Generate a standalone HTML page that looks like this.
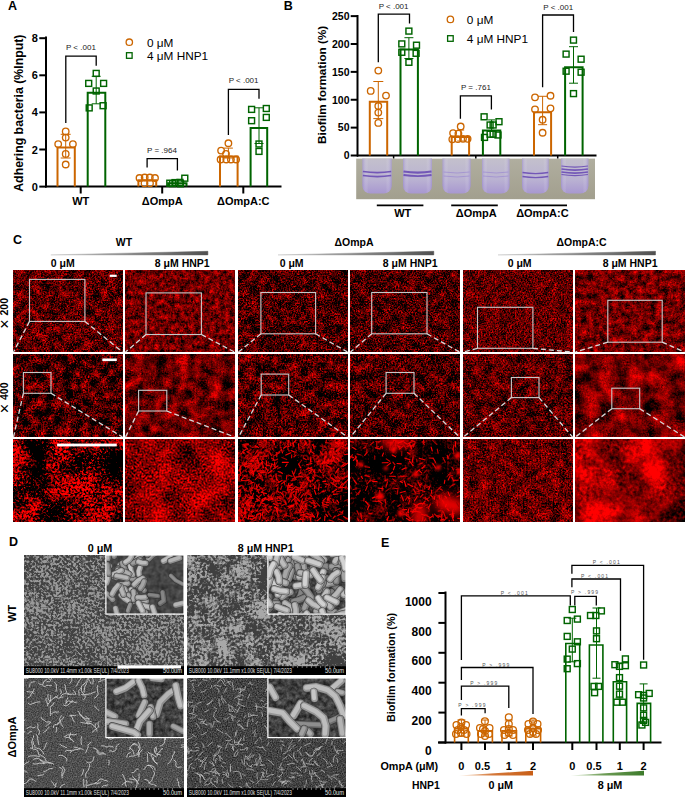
<!DOCTYPE html>
<html><head><meta charset="utf-8"><style>
html,body{margin:0;padding:0;background:#fff;}
svg{display:block;font-family:"Liberation Sans", sans-serif;}
</style></head><body>
<svg width="685" height="797" viewBox="0 0 685 797">
<text x="8.00" y="9.60" font-size="12.5" font-weight="bold" text-anchor="start" fill="#000" >A</text>
<path d="M46,36.6V187.6" stroke="#000" stroke-width="2" fill="none"/>
<path d="M39.3,186.60H46" stroke="#000" stroke-width="2" fill="none"/>
<text x="37.80" y="190.60" font-size="11" font-weight="bold" text-anchor="end" fill="#000" >0</text>
<path d="M39.3,149.50H46" stroke="#000" stroke-width="2" fill="none"/>
<text x="37.80" y="153.50" font-size="11" font-weight="bold" text-anchor="end" fill="#000" >2</text>
<path d="M39.3,112.40H46" stroke="#000" stroke-width="2" fill="none"/>
<text x="37.80" y="116.40" font-size="11" font-weight="bold" text-anchor="end" fill="#000" >4</text>
<path d="M39.3,75.30H46" stroke="#000" stroke-width="2" fill="none"/>
<text x="37.80" y="79.30" font-size="11" font-weight="bold" text-anchor="end" fill="#000" >6</text>
<path d="M39.3,38.20H46" stroke="#000" stroke-width="2" fill="none"/>
<text x="37.80" y="42.20" font-size="11" font-weight="bold" text-anchor="end" fill="#000" >8</text>
<path d="M45,186.6H281.5" stroke="#000" stroke-width="2" fill="none"/>
<path d="M80.7,186.6V193.5" stroke="#000" stroke-width="2" fill="none"/>
<path d="M162.2,186.6V193.5" stroke="#000" stroke-width="2" fill="none"/>
<path d="M243.3,186.6V193.5" stroke="#000" stroke-width="2" fill="none"/>
<text x="80.70" y="205.00" font-size="11" font-weight="bold" text-anchor="middle" fill="#000" >WT</text>
<text x="162.20" y="205.00" font-size="11" font-weight="bold" text-anchor="middle" fill="#000" >ΔOmpA</text>
<text x="243.30" y="205.00" font-size="11" font-weight="bold" text-anchor="middle" fill="#000" >ΔOmpA:C</text>
<text x="0.00" y="0.00" font-size="12.3" font-weight="bold" text-anchor="middle" fill="#000" transform="translate(23.2,113.2) rotate(-90)">Adhering bacteria (%Input)</text>
<circle cx="129.30" cy="42.20" r="3.2" fill="none" stroke="#CC6600" stroke-width="1.3"/>
<rect x="126.50" y="52.70" width="5.6" height="5.6" fill="none" stroke="#006400" stroke-width="1.3"/>
<text x="146.90" y="46.50" font-size="11.8" font-weight="normal" text-anchor="start" fill="#000" >0 μM</text>
<text x="146.90" y="59.80" font-size="11.8" font-weight="normal" text-anchor="start" fill="#000" >4 μM HNP1</text>
<path d="M57.50,186.6V147.60H74.80V186.6" fill="none" stroke="#CC6600" stroke-width="2"/>
<path d="M87.70,186.6V92.80H105.30V186.6" fill="none" stroke="#006400" stroke-width="2"/>
<path d="M138.40,186.6V180.20H156.20V186.6" fill="none" stroke="#CC6600" stroke-width="2"/>
<path d="M168.10,186.6V183.20H186.50V186.6" fill="none" stroke="#006400" stroke-width="2"/>
<path d="M220.00,186.6V156.40H237.60V186.6" fill="none" stroke="#CC6600" stroke-width="2"/>
<path d="M250.60,186.6V127.90H267.20V186.6" fill="none" stroke="#006400" stroke-width="2"/>
<path d="M65.70,134.30V158.00M60.70,134.30H70.70M60.70,158.00H70.70" stroke="#CC6600" stroke-width="1" fill="none"/>
<circle cx="65.70" cy="131.40" r="3.25" fill="none" stroke="#CC6600" stroke-width="1.35"/>
<circle cx="65.70" cy="137.60" r="3.25" fill="none" stroke="#CC6600" stroke-width="1.35"/>
<circle cx="58.20" cy="144.10" r="3.25" fill="none" stroke="#CC6600" stroke-width="1.35"/>
<circle cx="72.90" cy="144.10" r="3.25" fill="none" stroke="#CC6600" stroke-width="1.35"/>
<circle cx="65.70" cy="153.90" r="3.25" fill="none" stroke="#CC6600" stroke-width="1.35"/>
<circle cx="65.70" cy="164.50" r="3.25" fill="none" stroke="#CC6600" stroke-width="1.35"/>
<path d="M96.20,76.30V103.80M91.70,76.30H100.70M91.70,103.80H100.70" stroke="#006400" stroke-width="1" fill="none"/>
<rect x="93.25" y="70.45" width="5.9" height="5.9" fill="none" stroke="#006400" stroke-width="1.45"/>
<rect x="85.75" y="80.45" width="5.9" height="5.9" fill="none" stroke="#006400" stroke-width="1.45"/>
<rect x="100.65" y="80.45" width="5.9" height="5.9" fill="none" stroke="#006400" stroke-width="1.45"/>
<rect x="93.25" y="88.05" width="5.9" height="5.9" fill="none" stroke="#006400" stroke-width="1.45"/>
<rect x="86.25" y="104.95" width="5.9" height="5.9" fill="none" stroke="#006400" stroke-width="1.45"/>
<rect x="100.15" y="102.75" width="5.9" height="5.9" fill="none" stroke="#006400" stroke-width="1.45"/>
<circle cx="139.50" cy="178.00" r="3.25" fill="none" stroke="#CC6600" stroke-width="1.35"/>
<circle cx="144.70" cy="177.50" r="3.25" fill="none" stroke="#CC6600" stroke-width="1.35"/>
<circle cx="149.80" cy="177.50" r="3.25" fill="none" stroke="#CC6600" stroke-width="1.35"/>
<circle cx="155.00" cy="178.00" r="3.25" fill="none" stroke="#CC6600" stroke-width="1.35"/>
<circle cx="144.50" cy="183.30" r="3.25" fill="none" stroke="#CC6600" stroke-width="1.35"/>
<circle cx="150.00" cy="183.30" r="3.25" fill="none" stroke="#CC6600" stroke-width="1.35"/>
<rect x="166.85" y="180.25" width="5.9" height="5.9" fill="none" stroke="#006400" stroke-width="1.45"/>
<rect x="172.05" y="179.65" width="5.9" height="5.9" fill="none" stroke="#006400" stroke-width="1.45"/>
<rect x="177.05" y="179.45" width="5.9" height="5.9" fill="none" stroke="#006400" stroke-width="1.45"/>
<rect x="181.85" y="175.25" width="5.9" height="5.9" fill="none" stroke="#006400" stroke-width="1.45"/>
<rect x="169.55" y="180.65" width="5.9" height="5.9" fill="none" stroke="#006400" stroke-width="1.45"/>
<rect x="177.55" y="180.85" width="5.9" height="5.9" fill="none" stroke="#006400" stroke-width="1.45"/>
<path d="M228.40,148.10V158.00M223.90,148.10H232.90M223.90,158.00H232.90" stroke="#CC6600" stroke-width="1" fill="none"/>
<circle cx="228.40" cy="143.20" r="3.25" fill="none" stroke="#CC6600" stroke-width="1.35"/>
<circle cx="221.10" cy="150.60" r="3.25" fill="none" stroke="#CC6600" stroke-width="1.35"/>
<circle cx="226.00" cy="153.80" r="3.25" fill="none" stroke="#CC6600" stroke-width="1.35"/>
<circle cx="220.60" cy="159.50" r="3.25" fill="none" stroke="#CC6600" stroke-width="1.35"/>
<circle cx="226.30" cy="159.50" r="3.25" fill="none" stroke="#CC6600" stroke-width="1.35"/>
<circle cx="230.90" cy="159.50" r="3.25" fill="none" stroke="#CC6600" stroke-width="1.35"/>
<circle cx="236.10" cy="159.50" r="3.25" fill="none" stroke="#CC6600" stroke-width="1.35"/>
<path d="M259.00,107.80V143.50M254.50,107.80H263.50M254.50,143.50H263.50" stroke="#006400" stroke-width="1" fill="none"/>
<rect x="248.65" y="106.45" width="5.9" height="5.9" fill="none" stroke="#006400" stroke-width="1.45"/>
<rect x="263.35" y="105.55" width="5.9" height="5.9" fill="none" stroke="#006400" stroke-width="1.45"/>
<rect x="248.65" y="117.75" width="5.9" height="5.9" fill="none" stroke="#006400" stroke-width="1.45"/>
<rect x="263.35" y="114.45" width="5.9" height="5.9" fill="none" stroke="#006400" stroke-width="1.45"/>
<rect x="256.05" y="141.05" width="5.9" height="5.9" fill="none" stroke="#006400" stroke-width="1.45"/>
<rect x="256.05" y="148.45" width="5.9" height="5.9" fill="none" stroke="#006400" stroke-width="1.45"/>
<path d="M65.8,122.9V56.2H96.2V65.7" stroke="#000" stroke-width="1.3" fill="none"/>
<path d="M147.1,167.5V158.7H177.4V170.5" stroke="#000" stroke-width="1.3" fill="none"/>
<path d="M228.4,135V89.4H259V98.7" stroke="#000" stroke-width="1.3" fill="none"/>
<text x="80.90" y="50.30" font-size="8" font-weight="normal" text-anchor="middle" fill="#222" >P &lt; .001</text>
<text x="162.00" y="152.50" font-size="8" font-weight="normal" text-anchor="middle" fill="#222" >P = .964</text>
<text x="243.60" y="83.30" font-size="8" font-weight="normal" text-anchor="middle" fill="#222" >P &lt; .001</text>
<text x="283.70" y="9.90" font-size="12.5" font-weight="bold" text-anchor="start" fill="#000" >B</text>
<path d="M357.5,15V156.5" stroke="#000" stroke-width="2" fill="none"/>
<path d="M350.7,155.50H358" stroke="#000" stroke-width="2" fill="none"/>
<text x="349.50" y="159.30" font-size="10.5" font-weight="bold" text-anchor="end" fill="#000" >0</text>
<path d="M350.7,127.62H358" stroke="#000" stroke-width="2" fill="none"/>
<text x="349.50" y="131.43" font-size="10.5" font-weight="bold" text-anchor="end" fill="#000" >50</text>
<path d="M350.7,99.75H358" stroke="#000" stroke-width="2" fill="none"/>
<text x="349.50" y="103.55" font-size="10.5" font-weight="bold" text-anchor="end" fill="#000" >100</text>
<path d="M350.7,71.88H358" stroke="#000" stroke-width="2" fill="none"/>
<text x="349.50" y="75.67" font-size="10.5" font-weight="bold" text-anchor="end" fill="#000" >150</text>
<path d="M350.7,44.00H358" stroke="#000" stroke-width="2" fill="none"/>
<text x="349.50" y="47.80" font-size="10.5" font-weight="bold" text-anchor="end" fill="#000" >200</text>
<path d="M350.7,16.12H358" stroke="#000" stroke-width="2" fill="none"/>
<text x="349.50" y="19.93" font-size="10.5" font-weight="bold" text-anchor="end" fill="#000" >250</text>
<path d="M357,155.4H596.5" stroke="#000" stroke-width="2" fill="none"/>
<path d="M393.6,155.4V158.7" stroke="#000" stroke-width="1.5" fill="none"/>
<path d="M475.8,155.4V158.7" stroke="#000" stroke-width="1.5" fill="none"/>
<path d="M557.7,155.4V158.7" stroke="#000" stroke-width="1.5" fill="none"/>
<text x="0.00" y="0.00" font-size="11.7" font-weight="bold" text-anchor="middle" fill="#000" transform="translate(326,84.9) rotate(-90)">Biofilm formation (%)</text>
<circle cx="450.40" cy="19.40" r="3.2" fill="none" stroke="#CC6600" stroke-width="1.3"/>
<rect x="447.60" y="35.70" width="5.6" height="5.6" fill="none" stroke="#006400" stroke-width="1.3"/>
<text x="466.80" y="24.10" font-size="11.8" font-weight="normal" text-anchor="start" fill="#000" >0 μM</text>
<text x="466.80" y="43.30" font-size="11.8" font-weight="normal" text-anchor="start" fill="#000" >4 μM HNP1</text>
<path d="M369.80,155.4V101.70H387.20V155.4" fill="none" stroke="#CC6600" stroke-width="2"/>
<path d="M400.50,155.4V49.60H417.90V155.4" fill="none" stroke="#006400" stroke-width="2"/>
<path d="M451.70,155.4V137.00H469.10V155.4" fill="none" stroke="#CC6600" stroke-width="2"/>
<path d="M482.90,155.4V130.60H500.30V155.4" fill="none" stroke="#006400" stroke-width="2"/>
<path d="M534.00,155.4V112.30H551.10V155.4" fill="none" stroke="#CC6600" stroke-width="2"/>
<path d="M565.10,155.4V67.20H582.60V155.4" fill="none" stroke="#006400" stroke-width="2"/>
<path d="M378.30,81.50V118.60M373.30,81.50H383.30M373.30,118.60H383.30" stroke="#CC6600" stroke-width="1" fill="none"/>
<circle cx="378.30" cy="70.60" r="3.25" fill="none" stroke="#CC6600" stroke-width="1.35"/>
<circle cx="370.70" cy="90.90" r="3.25" fill="none" stroke="#CC6600" stroke-width="1.35"/>
<circle cx="386.00" cy="95.60" r="3.25" fill="none" stroke="#CC6600" stroke-width="1.35"/>
<circle cx="378.30" cy="106.00" r="3.25" fill="none" stroke="#CC6600" stroke-width="1.35"/>
<circle cx="378.30" cy="112.60" r="3.25" fill="none" stroke="#CC6600" stroke-width="1.35"/>
<circle cx="378.30" cy="122.90" r="3.25" fill="none" stroke="#CC6600" stroke-width="1.35"/>
<path d="M408.90,37.70V58.50M404.40,37.70H413.40M404.40,58.50H413.40" stroke="#006400" stroke-width="1" fill="none"/>
<rect x="405.95" y="28.15" width="5.9" height="5.9" fill="none" stroke="#006400" stroke-width="1.45"/>
<rect x="398.85" y="40.95" width="5.9" height="5.9" fill="none" stroke="#006400" stroke-width="1.45"/>
<rect x="413.55" y="42.25" width="5.9" height="5.9" fill="none" stroke="#006400" stroke-width="1.45"/>
<rect x="398.85" y="49.35" width="5.9" height="5.9" fill="none" stroke="#006400" stroke-width="1.45"/>
<rect x="413.15" y="50.35" width="5.9" height="5.9" fill="none" stroke="#006400" stroke-width="1.45"/>
<rect x="405.95" y="59.35" width="5.9" height="5.9" fill="none" stroke="#006400" stroke-width="1.45"/>
<path d="M460.70,130.00V141.00M457.20,130.00H464.20M457.20,141.00H464.20" stroke="#CC6600" stroke-width="1" fill="none"/>
<circle cx="460.70" cy="126.50" r="3.25" fill="none" stroke="#CC6600" stroke-width="1.35"/>
<circle cx="453.10" cy="133.10" r="3.25" fill="none" stroke="#CC6600" stroke-width="1.35"/>
<circle cx="458.40" cy="133.60" r="3.25" fill="none" stroke="#CC6600" stroke-width="1.35"/>
<circle cx="452.30" cy="139.30" r="3.25" fill="none" stroke="#CC6600" stroke-width="1.35"/>
<circle cx="457.90" cy="139.10" r="3.25" fill="none" stroke="#CC6600" stroke-width="1.35"/>
<circle cx="463.00" cy="138.80" r="3.25" fill="none" stroke="#CC6600" stroke-width="1.35"/>
<circle cx="467.60" cy="138.80" r="3.25" fill="none" stroke="#CC6600" stroke-width="1.35"/>
<path d="M491.60,119.90V130.60M488.10,119.90H495.10M488.10,130.60H495.10" stroke="#006400" stroke-width="1" fill="none"/>
<rect x="481.15" y="113.85" width="5.9" height="5.9" fill="none" stroke="#006400" stroke-width="1.45"/>
<rect x="496.05" y="118.75" width="5.9" height="5.9" fill="none" stroke="#006400" stroke-width="1.45"/>
<rect x="487.15" y="122.05" width="5.9" height="5.9" fill="none" stroke="#006400" stroke-width="1.45"/>
<rect x="490.15" y="122.05" width="5.9" height="5.9" fill="none" stroke="#006400" stroke-width="1.45"/>
<rect x="487.15" y="131.25" width="5.9" height="5.9" fill="none" stroke="#006400" stroke-width="1.45"/>
<rect x="490.15" y="131.25" width="5.9" height="5.9" fill="none" stroke="#006400" stroke-width="1.45"/>
<rect x="495.05" y="132.05" width="5.9" height="5.9" fill="none" stroke="#006400" stroke-width="1.45"/>
<rect x="481.55" y="134.45" width="5.9" height="5.9" fill="none" stroke="#006400" stroke-width="1.45"/>
<path d="M542.60,96.30V124.70M538.10,96.30H547.10M538.10,124.70H547.10" stroke="#CC6600" stroke-width="1" fill="none"/>
<circle cx="535.00" cy="97.30" r="3.25" fill="none" stroke="#CC6600" stroke-width="1.35"/>
<circle cx="550.50" cy="95.70" r="3.25" fill="none" stroke="#CC6600" stroke-width="1.35"/>
<circle cx="535.00" cy="109.30" r="3.25" fill="none" stroke="#CC6600" stroke-width="1.35"/>
<circle cx="550.50" cy="108.30" r="3.25" fill="none" stroke="#CC6600" stroke-width="1.35"/>
<circle cx="542.60" cy="119.70" r="3.25" fill="none" stroke="#CC6600" stroke-width="1.35"/>
<circle cx="542.60" cy="132.70" r="3.25" fill="none" stroke="#CC6600" stroke-width="1.35"/>
<path d="M573.50,46.70V83.20M569.00,46.70H578.00M569.00,83.20H578.00" stroke="#006400" stroke-width="1" fill="none"/>
<rect x="570.55" y="37.15" width="5.9" height="5.9" fill="none" stroke="#006400" stroke-width="1.45"/>
<rect x="563.15" y="51.15" width="5.9" height="5.9" fill="none" stroke="#006400" stroke-width="1.45"/>
<rect x="578.15" y="56.25" width="5.9" height="5.9" fill="none" stroke="#006400" stroke-width="1.45"/>
<rect x="563.15" y="68.25" width="5.9" height="5.9" fill="none" stroke="#006400" stroke-width="1.45"/>
<rect x="578.15" y="69.25" width="5.9" height="5.9" fill="none" stroke="#006400" stroke-width="1.45"/>
<rect x="570.55" y="90.65" width="5.9" height="5.9" fill="none" stroke="#006400" stroke-width="1.45"/>
<path d="M378.3,62.3V14.1H409.5V23.5" stroke="#000" stroke-width="1.3" fill="none"/>
<path d="M460.4,118.8V95.8H491.4V109.6" stroke="#000" stroke-width="1.3" fill="none"/>
<path d="M542.6,87.2V15H573.5V32.1" stroke="#000" stroke-width="1.3" fill="none"/>
<text x="393.60" y="9.20" font-size="8" font-weight="normal" text-anchor="middle" fill="#222" >P &lt; .001</text>
<text x="475.90" y="90.40" font-size="8" font-weight="normal" text-anchor="middle" fill="#222" >P = .761</text>
<text x="558.20" y="9.70" font-size="8" font-weight="normal" text-anchor="middle" fill="#222" >P &lt; .001</text>
<path d="M376.8,205.4H423.4" stroke="#000" stroke-width="1.8" fill="none"/>
<path d="M451.2,205.4H497.8" stroke="#000" stroke-width="1.8" fill="none"/>
<path d="M520,205.4H567" stroke="#000" stroke-width="1.8" fill="none"/>
<text x="402.80" y="216.60" font-size="11" font-weight="bold" text-anchor="middle" fill="#000" >WT</text>
<text x="476.30" y="216.60" font-size="11" font-weight="bold" text-anchor="middle" fill="#000" >ΔOmpA</text>
<text x="542.40" y="216.60" font-size="11" font-weight="bold" text-anchor="middle" fill="#000" >ΔOmpA:C</text>
<defs><linearGradient id="pbg" x1="0" y1="0" x2="0" y2="1"><stop offset="0" stop-color="#b0ae9f"/><stop offset="1" stop-color="#a29f8e"/></linearGradient><linearGradient id="tube" x1="0" y1="0" x2="0" y2="1"><stop offset="0" stop-color="#c3c0cc"/><stop offset="0.6" stop-color="#bab2d2"/><stop offset="1" stop-color="#a898d0"/></linearGradient><linearGradient id="tubeh" x1="0" y1="0" x2="1" y2="0"><stop offset="0" stop-color="#8e7cc8" stop-opacity="0.5"/><stop offset="0.2" stop-color="#fff" stop-opacity="0"/><stop offset="0.8" stop-color="#fff" stop-opacity="0"/><stop offset="1" stop-color="#8e7cc8" stop-opacity="0.5"/></linearGradient></defs>
<rect x="356.2" y="158.6" width="238.8" height="40.6" fill="url(#pbg)"/>
<path d="M362.4,158.6V185.5a8,8 0 0 0 8,8H383.7a8,8 0 0 0 8,-8V158.6Z" fill="url(#tube)"/><path d="M362.4,158.6V185.5a8,8 0 0 0 8,8H383.7a8,8 0 0 0 8,-8V158.6Z" fill="url(#tubeh)"/>
<path d="M362.9,171.5q14.650000000000006,2.2 28.30000000000001,0" stroke="#6a4cb4" stroke-width="1.6" fill="none" opacity="0.9"/>
<path d="M362.9,175.5q14.650000000000006,2.2 28.30000000000001,0" stroke="#6a4cb4" stroke-width="1.6" fill="none" opacity="0.9"/>
<path d="M403,158.6V185.5a8,8 0 0 0 8,8H424a8,8 0 0 0 8,-8V158.6Z" fill="url(#tube)"/><path d="M403,158.6V185.5a8,8 0 0 0 8,8H424a8,8 0 0 0 8,-8V158.6Z" fill="url(#tubeh)"/>
<path d="M403.5,171.5q14.5,2.2 28,0" stroke="#6a4cb4" stroke-width="2.2" fill="none" opacity="0.9"/>
<path d="M403.5,175q14.5,2.2 28,0" stroke="#6a4cb4" stroke-width="1.8" fill="none" opacity="0.9"/>
<path d="M442.5,158.6V185.5a8,8 0 0 0 8,8H462.6a8,8 0 0 0 8,-8V158.6Z" fill="url(#tube)"/><path d="M442.5,158.6V185.5a8,8 0 0 0 8,8H462.6a8,8 0 0 0 8,-8V158.6Z" fill="url(#tubeh)"/>
<path d="M443.5,172q14.050000000000011,2 26.100000000000023,0M443.5,176q14.050000000000011,2 26.100000000000023,0" stroke="#9f8fd0" stroke-width="0.8" fill="none"/>
<path d="M482,158.6V185.5a8,8 0 0 0 8,8H501.5a8,8 0 0 0 8,-8V158.6Z" fill="url(#tube)"/><path d="M482,158.6V185.5a8,8 0 0 0 8,8H501.5a8,8 0 0 0 8,-8V158.6Z" fill="url(#tubeh)"/>
<path d="M483,172q13.75,2 25.5,0M483,176q13.75,2 25.5,0" stroke="#9f8fd0" stroke-width="0.8" fill="none"/>
<path d="M522,158.6V185.5a8,8 0 0 0 8,8H540.7a8,8 0 0 0 8,-8V158.6Z" fill="url(#tube)"/><path d="M522,158.6V185.5a8,8 0 0 0 8,8H540.7a8,8 0 0 0 8,-8V158.6Z" fill="url(#tubeh)"/>
<path d="M522.5,172.5q13.350000000000023,2.2 25.700000000000045,0" stroke="#6a4cb4" stroke-width="1.3" fill="none" opacity="0.9"/>
<path d="M522.5,176.5q13.350000000000023,2.2 25.700000000000045,0" stroke="#6a4cb4" stroke-width="1.3" fill="none" opacity="0.9"/>
<path d="M561,158.6V185.5a8,8 0 0 0 8,8H580.4a8,8 0 0 0 8,-8V158.6Z" fill="url(#tube)"/><path d="M561,158.6V185.5a8,8 0 0 0 8,8H580.4a8,8 0 0 0 8,-8V158.6Z" fill="url(#tubeh)"/>
<path d="M561.5,166q13.699999999999989,2.2 26.399999999999977,0" stroke="#6a4cb4" stroke-width="1.2" fill="none" opacity="0.9"/>
<path d="M561.5,169q13.699999999999989,2.2 26.399999999999977,0" stroke="#6a4cb4" stroke-width="1.6" fill="none" opacity="0.9"/>
<path d="M561.5,172q13.699999999999989,2.2 26.399999999999977,0" stroke="#6a4cb4" stroke-width="1.6" fill="none" opacity="0.9"/>
<path d="M561.5,174.5q13.699999999999989,2.2 26.399999999999977,0" stroke="#6a4cb4" stroke-width="1.2" fill="none" opacity="0.9"/>
<text x="381.00" y="547.00" font-size="12.5" font-weight="bold" text-anchor="start" fill="#000" >E</text>
<path d="M445.5,591.5V743.5" stroke="#000" stroke-width="2" fill="none"/>
<path d="M438.4,742.50H446" stroke="#000" stroke-width="2" fill="none"/>
<text x="431.60" y="755.10" font-size="12" font-weight="bold" text-anchor="end" fill="#000" >0</text>
<path d="M438.4,712.60H446" stroke="#000" stroke-width="2" fill="none"/>
<text x="431.60" y="725.20" font-size="12" font-weight="bold" text-anchor="end" fill="#000" >200</text>
<path d="M438.4,682.70H446" stroke="#000" stroke-width="2" fill="none"/>
<text x="431.60" y="695.30" font-size="12" font-weight="bold" text-anchor="end" fill="#000" >400</text>
<path d="M438.4,652.80H446" stroke="#000" stroke-width="2" fill="none"/>
<text x="431.60" y="665.40" font-size="12" font-weight="bold" text-anchor="end" fill="#000" >600</text>
<path d="M438.4,622.90H446" stroke="#000" stroke-width="2" fill="none"/>
<text x="431.60" y="635.50" font-size="12" font-weight="bold" text-anchor="end" fill="#000" >800</text>
<path d="M438.4,593.00H446" stroke="#000" stroke-width="2" fill="none"/>
<text x="431.60" y="605.60" font-size="12" font-weight="bold" text-anchor="end" fill="#000" >1000</text>
<path d="M438,742.5H661.5" stroke="#000" stroke-width="2" fill="none"/>
<path d="M461.4,742.5V750" stroke="#000" stroke-width="2" fill="none"/>
<path d="M485,742.5V750" stroke="#000" stroke-width="2" fill="none"/>
<path d="M508.8,742.5V750" stroke="#000" stroke-width="2" fill="none"/>
<path d="M533,742.5V750" stroke="#000" stroke-width="2" fill="none"/>
<path d="M572.3,742.5V750" stroke="#000" stroke-width="2" fill="none"/>
<path d="M596.5,742.5V750" stroke="#000" stroke-width="2" fill="none"/>
<path d="M619.8,742.5V750" stroke="#000" stroke-width="2" fill="none"/>
<path d="M643.6,742.5V750" stroke="#000" stroke-width="2" fill="none"/>
<text x="461.40" y="770.00" font-size="11" font-weight="bold" text-anchor="middle" fill="#000" >0</text>
<text x="482.50" y="770.00" font-size="11" font-weight="bold" text-anchor="middle" fill="#000" >0.5</text>
<text x="508.80" y="770.00" font-size="11" font-weight="bold" text-anchor="middle" fill="#000" >1</text>
<text x="533.00" y="770.00" font-size="11" font-weight="bold" text-anchor="middle" fill="#000" >2</text>
<text x="572.30" y="770.00" font-size="11" font-weight="bold" text-anchor="middle" fill="#000" >0</text>
<text x="594.00" y="770.00" font-size="11" font-weight="bold" text-anchor="middle" fill="#000" >0.5</text>
<text x="619.80" y="770.00" font-size="11" font-weight="bold" text-anchor="middle" fill="#000" >1</text>
<text x="643.60" y="770.00" font-size="11" font-weight="bold" text-anchor="middle" fill="#000" >2</text>
<text x="380.40" y="770.00" font-size="10.8" font-weight="bold" text-anchor="start" fill="#000" >OmpA (μM)</text>
<text x="412.00" y="788.60" font-size="10.4" font-weight="bold" text-anchor="start" fill="#000" >HNP1</text>
<text x="500.80" y="788.60" font-size="10.8" font-weight="bold" text-anchor="middle" fill="#000" >0 μM</text>
<text x="610.00" y="788.60" font-size="10.8" font-weight="bold" text-anchor="middle" fill="#000" >8 μM</text>
<text x="0.00" y="0.00" font-size="10.8" font-weight="bold" text-anchor="middle" fill="#000" transform="translate(395,667.5) rotate(-90)">Biofilm formation (%)</text>
<defs><linearGradient id="go" x1="0" x2="1"><stop offset="0" stop-color="#f8e2cc"/><stop offset="0.45" stop-color="#d4783a"/><stop offset="1" stop-color="#c85e16"/></linearGradient><linearGradient id="gg" x1="0" x2="1"><stop offset="0" stop-color="#dcebd2"/><stop offset="0.45" stop-color="#6e9c56"/><stop offset="1" stop-color="#3c7a2a"/></linearGradient></defs>
<path d="M459,775.5L533,770.8V775.5Z" fill="url(#go)"/>
<path d="M570.4,775.5L644,770.8V775.5Z" fill="url(#gg)"/>
<path d="M454.60,742.5V728.80H468.30V742.5" fill="none" stroke="#CC6600" stroke-width="1.6"/>
<path d="M478.20,742.5V730.80H492.40V742.5" fill="none" stroke="#CC6600" stroke-width="1.6"/>
<path d="M502.00,742.5V730.80H516.50V742.5" fill="none" stroke="#CC6600" stroke-width="1.6"/>
<path d="M525.80,742.5V728.80H540.60V742.5" fill="none" stroke="#CC6600" stroke-width="1.6"/>
<path d="M565.80,742.5V643.50H579.70V742.5" fill="none" stroke="#006400" stroke-width="1.6"/>
<path d="M589.40,742.5V645.00H602.90V742.5" fill="none" stroke="#006400" stroke-width="1.6"/>
<path d="M613.30,742.5V681.70H626.60V742.5" fill="none" stroke="#006400" stroke-width="1.6"/>
<path d="M637.20,742.5V703.40H650.60V742.5" fill="none" stroke="#006400" stroke-width="1.6"/>
<path d="M461.40,720.00V736.00M457.40,720.00H465.40M457.40,736.00H465.40" stroke="#CC6600" stroke-width="1" fill="none"/>
<circle cx="461.40" cy="722.50" r="3.4" fill="none" stroke="#CC6600" stroke-width="1.3"/>
<circle cx="456.50" cy="725.00" r="3.4" fill="none" stroke="#CC6600" stroke-width="1.3"/>
<circle cx="466.00" cy="725.00" r="3.4" fill="none" stroke="#CC6600" stroke-width="1.3"/>
<circle cx="458.00" cy="730.00" r="3.4" fill="none" stroke="#CC6600" stroke-width="1.3"/>
<circle cx="464.00" cy="730.00" r="3.4" fill="none" stroke="#CC6600" stroke-width="1.3"/>
<circle cx="461.00" cy="733.00" r="3.4" fill="none" stroke="#CC6600" stroke-width="1.3"/>
<circle cx="456.00" cy="734.00" r="3.4" fill="none" stroke="#CC6600" stroke-width="1.3"/>
<circle cx="466.50" cy="734.00" r="3.4" fill="none" stroke="#CC6600" stroke-width="1.3"/>
<circle cx="461.00" cy="727.00" r="3.4" fill="none" stroke="#CC6600" stroke-width="1.3"/>
<path d="M485.00,720.00V736.00M481.00,720.00H489.00M481.00,736.00H489.00" stroke="#CC6600" stroke-width="1" fill="none"/>
<circle cx="484.90" cy="721.30" r="3.4" fill="none" stroke="#CC6600" stroke-width="1.3"/>
<circle cx="480.00" cy="728.00" r="3.4" fill="none" stroke="#CC6600" stroke-width="1.3"/>
<circle cx="489.50" cy="728.00" r="3.4" fill="none" stroke="#CC6600" stroke-width="1.3"/>
<circle cx="485.00" cy="731.00" r="3.4" fill="none" stroke="#CC6600" stroke-width="1.3"/>
<circle cx="481.00" cy="734.00" r="3.4" fill="none" stroke="#CC6600" stroke-width="1.3"/>
<circle cx="489.00" cy="734.00" r="3.4" fill="none" stroke="#CC6600" stroke-width="1.3"/>
<circle cx="485.00" cy="736.00" r="3.4" fill="none" stroke="#CC6600" stroke-width="1.3"/>
<circle cx="483.00" cy="729.00" r="3.4" fill="none" stroke="#CC6600" stroke-width="1.3"/>
<path d="M508.80,720.00V736.00M504.80,720.00H512.80M504.80,736.00H512.80" stroke="#CC6600" stroke-width="1" fill="none"/>
<circle cx="508.80" cy="717.20" r="3.4" fill="none" stroke="#CC6600" stroke-width="1.3"/>
<circle cx="508.80" cy="724.00" r="3.4" fill="none" stroke="#CC6600" stroke-width="1.3"/>
<circle cx="504.00" cy="730.00" r="3.4" fill="none" stroke="#CC6600" stroke-width="1.3"/>
<circle cx="513.00" cy="730.00" r="3.4" fill="none" stroke="#CC6600" stroke-width="1.3"/>
<circle cx="508.80" cy="733.00" r="3.4" fill="none" stroke="#CC6600" stroke-width="1.3"/>
<circle cx="504.50" cy="735.00" r="3.4" fill="none" stroke="#CC6600" stroke-width="1.3"/>
<circle cx="513.00" cy="735.00" r="3.4" fill="none" stroke="#CC6600" stroke-width="1.3"/>
<circle cx="508.80" cy="729.00" r="3.4" fill="none" stroke="#CC6600" stroke-width="1.3"/>
<path d="M533.00,720.00V736.00M529.00,720.00H537.00M529.00,736.00H537.00" stroke="#CC6600" stroke-width="1" fill="none"/>
<circle cx="533.00" cy="721.50" r="3.4" fill="none" stroke="#CC6600" stroke-width="1.3"/>
<circle cx="528.50" cy="724.00" r="3.4" fill="none" stroke="#CC6600" stroke-width="1.3"/>
<circle cx="537.50" cy="724.00" r="3.4" fill="none" stroke="#CC6600" stroke-width="1.3"/>
<circle cx="528.00" cy="730.00" r="3.4" fill="none" stroke="#CC6600" stroke-width="1.3"/>
<circle cx="538.00" cy="730.00" r="3.4" fill="none" stroke="#CC6600" stroke-width="1.3"/>
<circle cx="533.00" cy="728.00" r="3.4" fill="none" stroke="#CC6600" stroke-width="1.3"/>
<circle cx="530.00" cy="734.00" r="3.4" fill="none" stroke="#CC6600" stroke-width="1.3"/>
<circle cx="536.00" cy="734.00" r="3.4" fill="none" stroke="#CC6600" stroke-width="1.3"/>
<circle cx="533.00" cy="732.00" r="3.4" fill="none" stroke="#CC6600" stroke-width="1.3"/>
<path d="M572.30,618.20V661.80M568.30,618.20H576.30M568.30,661.80H576.30" stroke="#006400" stroke-width="1" fill="none"/>
<rect x="569.35" y="606.55" width="5.9" height="5.9" fill="none" stroke="#006400" stroke-width="1.45"/>
<rect x="564.25" y="617.55" width="5.9" height="5.9" fill="none" stroke="#006400" stroke-width="1.45"/>
<rect x="574.45" y="616.15" width="5.9" height="5.9" fill="none" stroke="#006400" stroke-width="1.45"/>
<rect x="564.25" y="633.45" width="5.9" height="5.9" fill="none" stroke="#006400" stroke-width="1.45"/>
<rect x="574.45" y="638.85" width="5.9" height="5.9" fill="none" stroke="#006400" stroke-width="1.45"/>
<rect x="569.35" y="646.15" width="5.9" height="5.9" fill="none" stroke="#006400" stroke-width="1.45"/>
<rect x="564.25" y="656.15" width="5.9" height="5.9" fill="none" stroke="#006400" stroke-width="1.45"/>
<rect x="574.45" y="660.65" width="5.9" height="5.9" fill="none" stroke="#006400" stroke-width="1.45"/>
<rect x="564.25" y="665.75" width="5.9" height="5.9" fill="none" stroke="#006400" stroke-width="1.45"/>
<path d="M596.50,608.00V678.20M592.50,608.00H600.50M592.50,678.20H600.50" stroke="#006400" stroke-width="1" fill="none"/>
<rect x="587.55" y="612.55" width="5.9" height="5.9" fill="none" stroke="#006400" stroke-width="1.45"/>
<rect x="592.95" y="612.55" width="5.9" height="5.9" fill="none" stroke="#006400" stroke-width="1.45"/>
<rect x="598.45" y="607.95" width="5.9" height="5.9" fill="none" stroke="#006400" stroke-width="1.45"/>
<rect x="593.55" y="627.95" width="5.9" height="5.9" fill="none" stroke="#006400" stroke-width="1.45"/>
<rect x="593.55" y="635.75" width="5.9" height="5.9" fill="none" stroke="#006400" stroke-width="1.45"/>
<rect x="591.05" y="683.45" width="5.9" height="5.9" fill="none" stroke="#006400" stroke-width="1.45"/>
<rect x="595.65" y="683.45" width="5.9" height="5.9" fill="none" stroke="#006400" stroke-width="1.45"/>
<rect x="591.65" y="689.75" width="5.9" height="5.9" fill="none" stroke="#006400" stroke-width="1.45"/>
<path d="M619.50,663.00V698.00M615.50,663.00H623.50M615.50,698.00H623.50" stroke="#006400" stroke-width="1" fill="none"/>
<rect x="611.95" y="661.75" width="5.9" height="5.9" fill="none" stroke="#006400" stroke-width="1.45"/>
<rect x="622.45" y="655.95" width="5.9" height="5.9" fill="none" stroke="#006400" stroke-width="1.45"/>
<rect x="622.45" y="662.75" width="5.9" height="5.9" fill="none" stroke="#006400" stroke-width="1.45"/>
<rect x="616.55" y="663.45" width="5.9" height="5.9" fill="none" stroke="#006400" stroke-width="1.45"/>
<rect x="616.55" y="674.65" width="5.9" height="5.9" fill="none" stroke="#006400" stroke-width="1.45"/>
<rect x="616.55" y="683.25" width="5.9" height="5.9" fill="none" stroke="#006400" stroke-width="1.45"/>
<rect x="616.55" y="691.15" width="5.9" height="5.9" fill="none" stroke="#006400" stroke-width="1.45"/>
<rect x="613.95" y="699.25" width="5.9" height="5.9" fill="none" stroke="#006400" stroke-width="1.45"/>
<rect x="619.55" y="699.25" width="5.9" height="5.9" fill="none" stroke="#006400" stroke-width="1.45"/>
<path d="M643.60,683.90V722.00M639.60,683.90H647.60M639.60,722.00H647.60" stroke="#006400" stroke-width="1" fill="none"/>
<rect x="640.65" y="662.05" width="5.9" height="5.9" fill="none" stroke="#006400" stroke-width="1.45"/>
<rect x="635.65" y="691.75" width="5.9" height="5.9" fill="none" stroke="#006400" stroke-width="1.45"/>
<rect x="646.25" y="690.45" width="5.9" height="5.9" fill="none" stroke="#006400" stroke-width="1.45"/>
<rect x="640.65" y="692.45" width="5.9" height="5.9" fill="none" stroke="#006400" stroke-width="1.45"/>
<rect x="640.65" y="695.05" width="5.9" height="5.9" fill="none" stroke="#006400" stroke-width="1.45"/>
<rect x="640.65" y="704.95" width="5.9" height="5.9" fill="none" stroke="#006400" stroke-width="1.45"/>
<rect x="640.65" y="712.25" width="5.9" height="5.9" fill="none" stroke="#006400" stroke-width="1.45"/>
<rect x="640.65" y="717.45" width="5.9" height="5.9" fill="none" stroke="#006400" stroke-width="1.45"/>
<rect x="642.65" y="719.45" width="5.9" height="5.9" fill="none" stroke="#006400" stroke-width="1.45"/>
<rect x="638.95" y="722.05" width="5.9" height="5.9" fill="none" stroke="#006400" stroke-width="1.45"/>
<path d="M461.4,715.4V708.6H485.1V713.2" stroke="#000" stroke-width="1.3" fill="none"/>
<path d="M461.4,700V686.2H508.8V708" stroke="#000" stroke-width="1.3" fill="none"/>
<path d="M461.4,680V667.5H533V714" stroke="#000" stroke-width="1.3" fill="none"/>
<path d="M461.4,660V595.8H570.3V605.4" stroke="#000" stroke-width="1.3" fill="none"/>
<path d="M574.8,605.4V596.4H596.3V605.4" stroke="#000" stroke-width="1.3" fill="none"/>
<path d="M571.9,587.3V579H620.5V650.7" stroke="#000" stroke-width="1.3" fill="none"/>
<path d="M571.9,573.8V565.4H643.6V659.7" stroke="#000" stroke-width="1.3" fill="none"/>
<text x="472.5" y="707" text-anchor="middle" font-size="5" fill="#555" letter-spacing="1.2">P &gt; .999</text>
<text x="484.3" y="685" text-anchor="middle" font-size="5" fill="#555" letter-spacing="1.2">P &gt; .999</text>
<text x="496.4" y="667" text-anchor="middle" font-size="5" fill="#555" letter-spacing="1.2">P &gt; .999</text>
<text x="514.8" y="594.6" text-anchor="middle" font-size="5" fill="#555" letter-spacing="1.2">P &lt; .001</text>
<text x="585.2" y="594.3" text-anchor="middle" font-size="5" fill="#555" letter-spacing="1.2">P &gt; .999</text>
<text x="595.2" y="577.8" text-anchor="middle" font-size="5" fill="#555" letter-spacing="1.2">P &lt; .001</text>
<text x="606.8" y="564.2" text-anchor="middle" font-size="5" fill="#555" letter-spacing="1.2">P &lt; .001</text>
<defs><filter id="fc00" x="0" y="0" width="1" height="1" color-interpolation-filters="sRGB"><feTurbulence type="fractalNoise" baseFrequency="0.65" numOctaves="2" seed="1" result="n0"/><feTurbulence type="fractalNoise" baseFrequency="0.12" numOctaves="2" seed="2" result="n1"/><feComposite in="n0" in2="n1" operator="arithmetic" k1="0" k2="0.6250" k3="0.3750" k4="0" result="a1"/><feColorMatrix in="a1" type="matrix" values="2.800 0 0 0 -1.060  0 0 0 0 0  0 0 0 0 0  0 0 0 0 1"/><feGaussianBlur stdDeviation="0.4"/></filter><filter id="fc01" x="0" y="0" width="1" height="1" color-interpolation-filters="sRGB"><feTurbulence type="fractalNoise" baseFrequency="0.6" numOctaves="2" seed="3" result="n0"/><feTurbulence type="fractalNoise" baseFrequency="0.2" numOctaves="2" seed="4" result="n1"/><feComposite in="n0" in2="n1" operator="arithmetic" k1="0" k2="0.4444" k3="0.5556" k4="0" result="a1"/><feColorMatrix in="a1" type="matrix" values="2.100 0 0 0 -0.620  0 0 0 0 0  0 0 0 0 0  0 0 0 0 1"/><feGaussianBlur stdDeviation="0.4"/></filter><filter id="fc02" x="0" y="0" width="1" height="1" color-interpolation-filters="sRGB"><feTurbulence type="fractalNoise" baseFrequency="0.65" numOctaves="2" seed="5" result="n0"/><feTurbulence type="fractalNoise" baseFrequency="0.12" numOctaves="2" seed="6" result="n1"/><feComposite in="n0" in2="n1" operator="arithmetic" k1="0" k2="0.6452" k3="0.3548" k4="0" result="a1"/><feColorMatrix in="a1" type="matrix" values="2.800 0 0 0 -1.130  0 0 0 0 0  0 0 0 0 0  0 0 0 0 1"/><feGaussianBlur stdDeviation="0.4"/></filter><filter id="fc03" x="0" y="0" width="1" height="1" color-interpolation-filters="sRGB"><feTurbulence type="fractalNoise" baseFrequency="0.65" numOctaves="2" seed="7" result="n0"/><feTurbulence type="fractalNoise" baseFrequency="0.12" numOctaves="2" seed="8" result="n1"/><feComposite in="n0" in2="n1" operator="arithmetic" k1="0" k2="0.6667" k3="0.3333" k4="0" result="a1"/><feColorMatrix in="a1" type="matrix" values="2.800 0 0 0 -1.120  0 0 0 0 0  0 0 0 0 0  0 0 0 0 1"/><feGaussianBlur stdDeviation="0.4"/></filter><filter id="fc04" x="0" y="0" width="1" height="1" color-interpolation-filters="sRGB"><feTurbulence type="fractalNoise" baseFrequency="0.65" numOctaves="2" seed="9" result="n0"/><feTurbulence type="fractalNoise" baseFrequency="0.12" numOctaves="2" seed="10" result="n1"/><feComposite in="n0" in2="n1" operator="arithmetic" k1="0" k2="0.7143" k3="0.2857" k4="0" result="a1"/><feColorMatrix in="a1" type="matrix" values="2.300 0 0 0 -0.780  0 0 0 0 0  0 0 0 0 0  0 0 0 0 1"/><feGaussianBlur stdDeviation="0.4"/></filter><filter id="fc05" x="0" y="0" width="1" height="1" color-interpolation-filters="sRGB"><feTurbulence type="fractalNoise" baseFrequency="0.6" numOctaves="2" seed="11" result="n0"/><feTurbulence type="fractalNoise" baseFrequency="0.16" numOctaves="2" seed="12" result="n1"/><feComposite in="n0" in2="n1" operator="arithmetic" k1="0" k2="0.4118" k3="0.5882" k4="0" result="a1"/><feColorMatrix in="a1" type="matrix" values="2.000 0 0 0 -0.560  0 0 0 0 0  0 0 0 0 0  0 0 0 0 1"/><feGaussianBlur stdDeviation="0.4"/></filter><filter id="fc10" x="0" y="0" width="1" height="1" color-interpolation-filters="sRGB"><feTurbulence type="fractalNoise" baseFrequency="0.6" numOctaves="2" seed="13" result="n0"/><feTurbulence type="fractalNoise" baseFrequency="0.11" numOctaves="2" seed="14" result="n1"/><feComposite in="n0" in2="n1" operator="arithmetic" k1="0" k2="0.5263" k3="0.4737" k4="0" result="a1"/><feColorMatrix in="a1" type="matrix" values="3.200 0 0 0 -1.330  0 0 0 0 0  0 0 0 0 0  0 0 0 0 1"/><feGaussianBlur stdDeviation="0.4"/></filter><filter id="fc11" x="0" y="0" width="1" height="1" color-interpolation-filters="sRGB"><feTurbulence type="fractalNoise" baseFrequency="0.6" numOctaves="2" seed="15" result="n0"/><feTurbulence type="fractalNoise" baseFrequency="0.09" numOctaves="2" seed="16" result="n1"/><feComposite in="n0" in2="n1" operator="arithmetic" k1="0" k2="0.3750" k3="0.6250" k4="0" result="a1"/><feColorMatrix in="a1" type="matrix" values="2.200 0 0 0 -0.690  0 0 0 0 0  0 0 0 0 0  0 0 0 0 1"/><feGaussianBlur stdDeviation="0.4"/></filter><filter id="fc12" x="0" y="0" width="1" height="1" color-interpolation-filters="sRGB"><feTurbulence type="fractalNoise" baseFrequency="0.6" numOctaves="2" seed="17" result="n0"/><feTurbulence type="fractalNoise" baseFrequency="0.11" numOctaves="2" seed="18" result="n1"/><feComposite in="n0" in2="n1" operator="arithmetic" k1="0" k2="0.5882" k3="0.4118" k4="0" result="a1"/><feColorMatrix in="a1" type="matrix" values="3.000 0 0 0 -1.200  0 0 0 0 0  0 0 0 0 0  0 0 0 0 1"/><feGaussianBlur stdDeviation="0.4"/></filter><filter id="fc13" x="0" y="0" width="1" height="1" color-interpolation-filters="sRGB"><feTurbulence type="fractalNoise" baseFrequency="0.6" numOctaves="2" seed="19" result="n0"/><feTurbulence type="fractalNoise" baseFrequency="0.11" numOctaves="2" seed="20" result="n1"/><feComposite in="n0" in2="n1" operator="arithmetic" k1="0" k2="0.6250" k3="0.3750" k4="0" result="a1"/><feColorMatrix in="a1" type="matrix" values="3.000 0 0 0 -1.230  0 0 0 0 0  0 0 0 0 0  0 0 0 0 1"/><feGaussianBlur stdDeviation="0.4"/></filter><filter id="fc14" x="0" y="0" width="1" height="1" color-interpolation-filters="sRGB"><feTurbulence type="fractalNoise" baseFrequency="0.6" numOctaves="2" seed="21" result="n0"/><feTurbulence type="fractalNoise" baseFrequency="0.11" numOctaves="2" seed="22" result="n1"/><feComposite in="n0" in2="n1" operator="arithmetic" k1="0" k2="0.6250" k3="0.3750" k4="0" result="a1"/><feColorMatrix in="a1" type="matrix" values="2.600 0 0 0 -0.970  0 0 0 0 0  0 0 0 0 0  0 0 0 0 1"/><feGaussianBlur stdDeviation="0.4"/></filter><filter id="fc15" x="0" y="0" width="1" height="1" color-interpolation-filters="sRGB"><feTurbulence type="fractalNoise" baseFrequency="0.6" numOctaves="2" seed="23" result="n0"/><feTurbulence type="fractalNoise" baseFrequency="0.07" numOctaves="3" seed="24" result="n1"/><feComposite in="n0" in2="n1" operator="arithmetic" k1="0" k2="0.2857" k3="0.7143" k4="0" result="a1"/><feColorMatrix in="a1" type="matrix" values="2.000 0 0 0 -0.550  0 0 0 0 0  0 0 0 0 0  0 0 0 0 1"/><feGaussianBlur stdDeviation="0.4"/></filter><filter id="fc20" x="0" y="0" width="1" height="1" color-interpolation-filters="sRGB"><feTurbulence type="fractalNoise" baseFrequency="0.45" numOctaves="2" seed="25" result="n0"/><feTurbulence type="fractalNoise" baseFrequency="0.04" numOctaves="3" seed="26" result="n1"/><feComposite in="n0" in2="n1" operator="arithmetic" k1="0" k2="0.5263" k3="0.4737" k4="0" result="a1"/><feColorMatrix in="a1" type="matrix" values="5.500 0 0 0 -2.470  0 0 0 0 0  0 0 0 0 0  0 0 0 0 1"/><feGaussianBlur stdDeviation="0.4"/></filter><filter id="fc21" x="0" y="0" width="1" height="1" color-interpolation-filters="sRGB"><feTurbulence type="fractalNoise" baseFrequency="0.5" numOctaves="2" seed="27" result="n0"/><feTurbulence type="fractalNoise" baseFrequency="0.035" numOctaves="3" seed="28" result="n1"/><feComposite in="n0" in2="n1" operator="arithmetic" k1="0" k2="0.5882" k3="0.4118" k4="0" result="a1"/><feColorMatrix in="a1" type="matrix" values="3.000 0 0 0 -0.980  0 0 0 0 0  0 0 0 0 0  0 0 0 0 1"/><feGaussianBlur stdDeviation="0.4"/></filter><filter id="fc22" x="0" y="0" width="1" height="1" color-interpolation-filters="sRGB"><feTurbulence type="fractalNoise" baseFrequency="0.4" numOctaves="2" seed="29" result="n0"/><feTurbulence type="fractalNoise" baseFrequency="0.04" numOctaves="3" seed="30" result="n1"/><feComposite in="n0" in2="n1" operator="arithmetic" k1="0" k2="0.5000" k3="0.5000" k4="0" result="a1"/><feColorMatrix in="a1" type="matrix" values="4.000 0 0 0 -1.860  0 0 0 0 0  0 0 0 0 0  0 0 0 0 1"/><feGaussianBlur stdDeviation="0.4"/></filter><filter id="fc23" x="0" y="0" width="1" height="1" color-interpolation-filters="sRGB"><feTurbulence type="fractalNoise" baseFrequency="0.4" numOctaves="2" seed="31" result="n0"/><feTurbulence type="fractalNoise" baseFrequency="0.04" numOctaves="3" seed="32" result="n1"/><feComposite in="n0" in2="n1" operator="arithmetic" k1="0" k2="0.5000" k3="0.5000" k4="0" result="a1"/><feColorMatrix in="a1" type="matrix" values="2.500 0 0 0 -1.200  0 0 0 0 0  0 0 0 0 0  0 0 0 0 1"/><feGaussianBlur stdDeviation="0.4"/></filter><filter id="fc24" x="0" y="0" width="1" height="1" color-interpolation-filters="sRGB"><feTurbulence type="fractalNoise" baseFrequency="0.6" numOctaves="2" seed="33" result="n0"/><feTurbulence type="fractalNoise" baseFrequency="0.1" numOctaves="2" seed="34" result="n1"/><feComposite in="n0" in2="n1" operator="arithmetic" k1="0" k2="0.6250" k3="0.3750" k4="0" result="a1"/><feColorMatrix in="a1" type="matrix" values="2.600 0 0 0 -0.910  0 0 0 0 0  0 0 0 0 0  0 0 0 0 1"/><feGaussianBlur stdDeviation="0.4"/></filter><filter id="fc25" x="0" y="0" width="1" height="1" color-interpolation-filters="sRGB"><feTurbulence type="fractalNoise" baseFrequency="0.3" numOctaves="2" seed="35" result="n0"/><feTurbulence type="fractalNoise" baseFrequency="0.03" numOctaves="3" seed="36" result="n1"/><feComposite in="n0" in2="n1" operator="arithmetic" k1="0" k2="0.2941" k3="0.7059" k4="0" result="a1"/><feColorMatrix in="a1" type="matrix" values="2.600 0 0 0 -0.700  0 0 0 0 0  0 0 0 0 0  0 0 0 0 1"/><feGaussianBlur stdDeviation="0.4"/></filter><filter id="glow" x="-50%" y="-50%" width="200%" height="200%"><feGaussianBlur stdDeviation="4"/></filter><filter id="glow2" x="-50%" y="-50%" width="200%" height="200%"><feGaussianBlur stdDeviation="1.5"/></filter><linearGradient id="wedge" x1="0" x2="1"><stop offset="0" stop-color="#c8c8c8"/><stop offset="1" stop-color="#505050"/></linearGradient></defs>
<rect x="13" y="270" width="110" height="82" fill="#000" filter="url(#fc00)"/>
<rect x="125" y="270" width="110" height="82" fill="#000" filter="url(#fc01)"/>
<rect x="238" y="270" width="110" height="82" fill="#000" filter="url(#fc02)"/>
<rect x="350" y="270" width="110" height="82" fill="#000" filter="url(#fc03)"/>
<rect x="463" y="270" width="110" height="82" fill="#000" filter="url(#fc04)"/>
<rect x="575" y="270" width="110" height="82" fill="#000" filter="url(#fc05)"/>
<rect x="13" y="354.6" width="110" height="82.39999999999998" fill="#000" filter="url(#fc10)"/>
<rect x="125" y="354.6" width="110" height="82.39999999999998" fill="#000" filter="url(#fc11)"/>
<rect x="238" y="354.6" width="110" height="82.39999999999998" fill="#000" filter="url(#fc12)"/>
<rect x="350" y="354.6" width="110" height="82.39999999999998" fill="#000" filter="url(#fc13)"/>
<rect x="463" y="354.6" width="110" height="82.39999999999998" fill="#000" filter="url(#fc14)"/>
<rect x="575" y="354.6" width="110" height="82.39999999999998" fill="#000" filter="url(#fc15)"/>
<rect x="13" y="439.5" width="110" height="82.10000000000002" fill="#000" filter="url(#fc20)"/>
<rect x="125" y="439.5" width="110" height="82.10000000000002" fill="#000" filter="url(#fc21)"/>
<rect x="238" y="439.5" width="110" height="82.10000000000002" fill="#000" filter="url(#fc22)"/>
<rect x="350" y="439.5" width="110" height="82.10000000000002" fill="#000" filter="url(#fc23)"/>
<rect x="463" y="439.5" width="110" height="82.10000000000002" fill="#000" filter="url(#fc24)"/>
<rect x="575" y="439.5" width="110" height="82.10000000000002" fill="#000" filter="url(#fc25)"/>
<svg x="238" y="439.5" width="110" height="82.1" overflow="hidden">
<path d="M-4.3,39.6l2.6,2.4M50.3,22.8l-6.0,0.0M34.7,18.9l1.7,2.2M54.9,66.4l-4.3,2.1M-17.4,50.8l4.9,1.3M7.5,91.9l2.5,5.0M28.2,58.6l-3.1,3.0M109.5,23.7l-4.6,3.4M59.7,63.8l-2.9,0.7M15.6,71.6l-2.4,2.0M10.5,5.1l-4.1,0.6M-7.3,47.9l3.0,2.3M48.4,6.7l-2.8,2.0M84.4,62.8l1.5,4.8M12.7,51.3l0.4,3.2M24.6,22.0l-3.8,4.2M54.3,44.1l-3.2,3.8M62.6,48.8l-3.9,1.5M85.2,64.7l5.6,1.0M9.1,61.5l-0.6,4.2M68.7,37.4l1.8,2.3M82.5,78.3l-3.2,3.1M36.5,67.9l2.9,0.9M27.9,58.1l-4.0,2.2M-19.1,124.3l1.7,3.7M11.3,68.6l-0.4,2.7M43.2,9.4l1.3,4.0M14.8,30.9l0.6,2.5M26.9,69.3l4.0,3.8M25.4,70.7l-1.2,5.5M76.8,46.0l-0.3,3.3M14.8,57.1l-4.0,0.8M19.1,59.4l2.2,1.9M9.5,62.1l-2.4,1.9M100.8,48.0l5.6,0.0M24.7,-2.5l2.2,3.5M27.4,27.9l2.4,3.2M3.3,46.1l-3.4,1.8M7.4,70.0l-0.7,3.7M6.8,36.0l-3.6,4.3M76.0,65.4l1.9,2.1M73.4,24.0l-4.9,1.3M52.9,13.3l-5.1,2.3M108.8,4.0l-1.8,2.3M-3.5,12.5l3.4,1.3M103.9,44.3l-1.8,2.9M57.8,0.8l-3.2,3.6M60.4,50.4l-0.3,2.6M87.7,42.0l-2.7,0.1M7.9,40.8l5.5,1.0M24.2,23.7l1.2,4.5M33.4,57.4l1.4,2.9M40.0,45.1l-2.0,1.6M73.6,28.2l-5.5,1.8M99.7,54.5l-4.1,0.4M54.9,45.5l-5.6,1.0M27.6,32.6l-5.0,0.6M19.5,20.0l1.7,5.6M39.9,68.7l-0.3,5.1M60.5,24.4l2.3,4.1M20.5,33.9l3.1,4.5M2.5,53.4l-0.6,3.4M11.0,75.0l-0.7,4.5M67.4,76.6l4.2,1.2M57.2,47.6l-3.9,3.7M-5.1,78.7l1.5,3.4M22.8,74.4l-1.1,5.7M93.1,38.2l4.8,3.3M2.7,34.8l-4.6,0.6M87.8,74.7l1.8,2.2M34.0,31.0l-3.9,2.8M44.1,40.9l-4.0,2.1M50.2,47.1l-1.0,3.8M67.2,74.8l-4.6,1.0M35.4,64.1l4.7,1.9M8.4,62.5l3.5,3.9M36.7,22.9l-0.3,4.2M15.6,42.8l-3.4,0.7M67.7,3.8l-1.8,2.3M76.5,51.0l1.4,3.9M96.7,-4.9l-1.0,3.5M55.5,65.7l-5.5,1.2M73.8,73.7l2.6,4.3M-6.1,107.5l1.9,2.2M75.2,5.1l1.0,4.3M56.8,81.3l5.8,1.4M99.1,60.9l1.6,2.4M35.2,0.6l1.3,4.4M97.8,-8.0l-3.6,3.7M14.5,31.5l-2.3,3.0M4.5,23.4l3.1,4.1M15.8,33.1l-0.6,2.9M21.7,110.6l1.2,3.2M28.2,21.0l0.8,5.4M80.1,72.6l-0.8,4.5M3.3,83.2l-4.9,1.4M53.1,10.9l5.1,2.3M24.6,60.6l-0.9,2.5M35.2,59.4l-5.0,1.6M42.5,52.8l2.5,2.6M55.9,51.7l-3.7,2.8M-36.0,59.0l-5.1,0.7M19.3,7.1l-5.2,0.6M8.5,55.6l-1.8,4.3M41.2,57.2l-2.3,2.1M22.4,73.7l-3.9,1.8M72.1,18.2l0.8,4.2M-7.8,61.2l-0.7,3.4M37.2,67.0l1.3,3.2M17.4,77.7l-3.7,2.6M50.8,43.8l-1.1,4.2M85.5,22.6l4.8,1.3M-6.2,37.2l-3.6,0.1M120.7,5.7l-4.7,0.8M15.0,21.1l-3.1,0.5M-3.0,55.2l1.3,2.4M60.5,4.3l0.4,4.2" stroke="#ff0000" stroke-width="1.15" stroke-linecap="round"/>
<path d="M-24.9,96.7l-2.2,1.2M15.6,53.8l-1.7,4.7M-0.1,49.8l-1.7,2.1M95.1,10.9l1.8,4.1M70.3,51.5l-3.8,4.2M20.7,26.0l-4.1,0.9M16.2,84.9l-4.7,3.3M-4.0,47.4l-1.7,3.5M10.4,4.3l-4.9,0.6M14.1,44.0l-4.2,0.7M105.0,71.4l-1.2,3.4M1.0,37.9l-0.1,3.4M94.2,19.1l-3.7,3.9M19.9,37.3l-2.7,2.9M8.4,49.1l-1.9,1.8M46.6,101.5l0.9,4.1M76.4,31.2l0.6,5.9M75.0,29.9l-3.7,3.9M10.2,54.6l4.2,4.2M-15.5,82.7l2.1,3.7M8.2,9.8l-3.9,2.6M6.9,76.4l-2.4,3.9M40.5,32.0l4.0,2.1M65.4,18.4l2.9,1.9M99.6,36.9l2.8,2.8M33.7,24.3l2.7,1.7M45.9,75.3l5.2,1.5M16.9,30.8l-2.4,2.9M58.2,37.2l-1.3,3.4M74.9,60.8l1.7,2.3M31.6,12.4l1.9,3.8M103.6,6.4l-3.4,4.2M38.8,39.6l2.2,3.2M35.8,57.3l-2.5,0.4M13.2,57.9l-4.3,3.6M63.3,83.9l1.8,3.7M20.8,38.5l3.4,0.9M53.9,54.3l-3.5,4.7M32.2,57.3l-1.8,1.9M2.4,31.3l0.1,4.7M53.7,15.4l-0.1,2.9M-4.7,99.3l3.2,4.3M42.3,28.0l-2.5,0.8M9.3,36.2l-2.5,0.7M80.2,-11.8l-5.4,0.6M21.8,119.5l3.6,2.7M68.0,45.8l-2.4,2.5M95.2,12.2l-0.7,4.4M9.2,65.0l1.5,2.6M109.4,36.4l-4.4,2.5M71.9,76.6l4.5,0.3M34.3,77.3l-1.0,3.3M23.2,61.0l-0.7,4.8M42.0,60.8l-3.2,0.5M22.9,35.9l1.9,5.4M-11.9,48.1l-1.7,5.5M21.0,4.6l3.0,1.1M67.9,74.0l5.8,1.3M-8.3,41.0l-4.7,0.8M19.9,10.5l-2.4,3.4M81.0,29.6l2.2,3.3M1.7,77.5l-1.2,4.0M65.4,62.7l-2.6,5.0M77.4,-11.5l3.7,0.4M14.3,29.1l-1.1,2.3M97.1,14.6l5.3,2.5M49.8,48.3l0.6,5.2M39.1,50.9l2.3,2.4M84.1,66.2l5.0,1.6M94.7,60.6l1.4,2.7M91.4,80.6l3.5,1.3M101.8,72.2l2.8,0.9M77.7,-23.1l-5.8,0.4M41.3,32.8l2.6,0.2M55.9,60.0l2.1,3.0M86.9,44.3l5.0,1.3M54.9,47.7l-3.9,0.6M95.8,21.1l2.7,2.4M15.6,58.7l-3.1,0.5M2.7,30.3l-2.7,0.5M62.6,47.9l3.9,0.6M18.4,59.2l1.5,2.8M49.1,24.5l-1.5,2.5M54.1,31.6l1.1,2.3M58.0,15.5l-2.0,1.8M109.5,40.9l-2.6,2.1M21.1,2.8l3.3,1.0M65.6,54.1l-2.8,4.0M16.3,25.5l-5.3,2.2M48.1,41.2l-4.6,3.0M97.5,14.4l3.8,2.5M0.7,12.9l-5.7,0.2M9.5,12.4l3.5,2.1M-13.2,106.3l-0.5,2.8M87.5,3.1l5.3,0.6M21.1,44.6l-2.3,4.2M1.0,39.1l-2.4,1.1M-12.8,39.8l-4.6,1.3M13.1,25.1l-3.9,2.1M40.1,47.4l-1.5,5.3M-1.1,49.9l3.2,1.0M-0.1,17.6l-1.0,3.3M21.1,60.4l-3.7,1.9M-0.3,80.1l-4.7,2.5M19.1,74.8l-1.3,4.5M-5.0,72.7l-4.1,1.8M88.4,0.1l-0.4,2.8M71.7,0.8l0.2,5.9M41.8,13.0l-5.1,3.1M67.8,43.1l1.3,2.5M105.5,77.0l5.1,3.1M10.7,31.7l2.6,2.9M102.5,74.5l-2.8,1.7M15.2,47.6l-3.0,4.6M17.2,81.0l-5.2,1.4" stroke="#e00000" stroke-width="1.15" stroke-linecap="round"/>
<path d="M5.8,30.8l-2.4,3.1M12.8,34.5l2.7,2.1M103.4,16.1l-5.5,0.9M58.5,10.8l-2.3,4.3M39.0,43.2l-2.5,3.4M53.5,73.6l1.2,2.7M91.4,31.4l-0.3,4.8M58.2,87.5l0.6,2.6M54.2,77.9l3.2,0.9M57.7,47.0l3.5,2.6M102.9,56.0l-0.2,3.9M24.1,68.5l2.0,3.2M96.7,1.9l-2.2,4.9M98.3,-5.0l2.5,2.1M27.8,65.5l-2.3,1.7M92.3,-7.1l5.2,0.4M85.6,66.9l1.6,5.4M33.2,8.3l-5.6,2.1M35.5,57.2l2.3,4.2M-5.7,40.4l5.2,0.4M80.8,19.6l5.3,2.0M39.5,22.3l-2.5,3.7M4.3,5.0l2.6,3.0M82.1,6.4l4.7,1.3M1.9,73.1l4.8,2.5M22.0,0.5l4.0,2.6M-2.5,69.8l-5.0,0.5M8.0,37.5l4.3,0.3M36.0,60.9l-2.2,1.6M28.3,49.5l-4.9,2.8M22.1,31.1l4.0,0.8M44.4,58.9l2.0,4.1M43.9,17.9l4.8,2.2M33.6,117.8l-2.4,1.7M40.0,35.9l3.2,0.9M11.0,66.5l-2.6,2.8M84.0,13.0l0.7,2.5M12.7,25.5l1.1,3.9M70.1,34.6l-2.5,2.5M109.9,60.0l-3.5,1.5M2.6,14.1l0.8,4.0M30.4,85.8l3.3,3.8M87.0,30.6l-2.7,4.9M31.8,49.3l-0.3,2.6M27.8,6.8l-5.1,0.3M87.0,19.4l0.1,3.3M12.8,62.9l2.9,1.1M84.0,4.6l1.1,4.8M85.9,62.8l0.0,4.8M68.3,42.6l-3.0,3.1M60.8,49.4l3.6,1.2M78.0,70.0l2.3,4.5M37.2,59.2l0.2,3.4M30.0,40.6l0.2,2.6M5.9,20.5l-0.7,4.6M4.7,35.0l1.0,3.6M90.0,72.7l3.1,4.5M75.2,17.2l1.7,4.6M44.9,2.6l2.0,4.0M30.5,54.8l0.5,2.5M37.0,53.1l-1.7,3.9M39.9,79.1l2.8,4.2M-20.2,81.9l1.2,3.9M-1.3,76.0l5.3,1.8M12.5,41.3l-2.0,1.5M62.0,5.6l3.5,3.3M2.1,35.1l-2.6,1.3M13.2,12.7l0.1,5.7M25.1,17.8l-1.3,3.2M60.3,9.3l3.3,1.3M58.3,49.6l-0.9,5.4M42.6,56.3l2.1,4.1M21.9,24.2l3.4,1.8M67.0,44.6l-2.9,3.2M28.6,4.5l-3.7,0.7M44.4,51.8l2.5,0.6M102.8,1.7l0.1,4.6M17.5,110.4l-1.6,4.3M13.5,26.4l-0.9,3.3M14.5,50.9l-3.7,0.3M1.6,61.0l2.6,1.5M-0.8,40.4l2.3,1.1M37.5,25.3l-0.3,3.5M69.8,54.5l3.7,0.6M8.7,35.2l0.3,3.9M84.2,51.8l-2.5,2.3M63.7,20.7l-2.7,3.6M31.8,66.2l0.7,2.9M3.0,75.3l-2.7,2.2M1.0,40.1l-1.6,2.2M94.9,5.1l2.4,0.8M23.8,36.7l-0.5,3.6M67.6,1.0l-3.7,4.4M62.2,60.7l-5.3,0.2M18.5,84.6l0.5,2.7M34.7,14.5l1.1,3.7M49.2,7.6l1.9,4.2M-6.6,44.6l-1.3,4.1M94.0,6.6l4.6,1.8M90.9,30.0l2.1,1.8M24.0,65.7l2.0,2.0M62.4,64.0l-0.0,3.1M-1.5,69.6l-0.4,3.9M83.6,9.5l4.1,0.8M11.6,56.0l-5.5,0.8M16.9,43.2l-1.1,5.6M24.6,37.7l-2.6,0.8M-4.6,41.9l1.0,3.8M90.9,44.1l-1.0,5.5M30.8,25.1l2.2,2.2M102.8,10.2l0.6,3.4M61.9,33.7l5.6,1.9M101.8,69.1l-4.8,2.5M88.3,38.0l3.3,2.5M78.7,36.2l4.9,2.2" stroke="#a00000" stroke-width="1.15" stroke-linecap="round"/>
<path d="M85.6,22.1l3.5,1.0M13.0,20.2l2.6,0.8M25.6,31.3l-5.2,0.2M14.0,48.2l-2.6,1.5M54.5,49.6l-3.3,0.4M100.7,28.9l-3.1,4.7M3.3,41.0l4.8,0.2M10.8,76.5l4.7,0.7M114.3,24.2l-1.9,2.3M-51.5,55.5l-4.1,1.3M48.9,35.8l-0.5,3.9M-8.1,43.8l-5.5,1.8M91.2,12.1l1.4,3.8M10.4,65.1l1.5,2.4M-4.7,88.2l-2.1,4.5M2.5,50.5l-2.3,2.5M10.1,26.2l-2.5,1.3M33.8,24.7l-1.2,3.8M-2.1,56.5l3.6,0.6M12.5,84.9l-0.8,4.1M46.8,60.6l1.2,4.8M57.6,58.3l-3.2,2.3M81.3,45.0l-0.9,5.8M9.1,22.2l-1.8,2.2M63.1,32.9l-2.3,1.8M92.9,59.0l-2.9,0.9M82.5,12.3l1.9,2.9M55.7,55.0l0.8,2.6M15.3,16.9l4.4,2.2M66.9,1.5l1.9,3.2M33.7,67.1l-3.4,0.4M28.7,16.6l-2.7,0.2M19.8,12.5l4.2,0.2M10.2,87.9l-2.2,4.0M5.5,118.9l-3.4,2.4M82.3,-21.6l3.6,0.2M62.6,68.7l-0.2,2.7M73.3,12.1l2.8,2.1M95.5,19.3l-1.1,2.6M86.7,17.3l-0.4,5.7M64.8,43.7l-2.7,5.2M18.7,55.9l3.4,3.4M-10.8,53.8l-1.0,5.6M18.8,45.1l-0.6,2.9M91.0,63.0l-2.9,0.1M-12.8,80.0l-4.7,0.1M38.0,34.6l0.5,5.8M13.4,60.6l-2.8,2.9M27.6,66.3l0.6,4.3M23.1,63.3l3.8,1.3M29.5,56.3l3.9,2.8M17.0,64.3l-1.5,2.9M2.4,93.7l-1.7,2.9M17.1,6.0l3.7,2.2M66.6,79.7l-6.0,0.4M74.8,-9.4l-2.7,0.0M86.9,76.5l-0.3,4.5M54.7,83.3l4.8,1.7M12.0,90.8l2.2,2.7M24.7,52.1l1.5,3.8M52.0,2.6l0.8,3.7M63.3,66.8l2.5,2.3M7.9,24.7l-3.9,1.1M38.7,13.1l0.1,4.2M100.0,1.8l2.6,1.9M57.6,57.3l4.0,4.2M28.7,25.7l2.7,0.5M78.3,66.5l-2.5,1.8M111.1,14.5l-4.8,0.7M74.4,29.8l-4.1,1.7M89.5,26.5l2.8,1.1M64.6,36.7l-4.6,0.7M94.2,43.6l4.5,3.6M101.7,41.1l-4.5,0.7M6.2,5.8l3.3,3.7M57.4,87.5l-0.1,3.9M9.8,60.3l-1.7,4.1M32.6,59.4l-4.7,0.8M62.8,78.8l-2.8,2.9M-20.2,76.2l4.1,2.3M24.6,85.6l-0.2,4.4M39.9,26.4l-4.7,3.2M2.7,26.6l-1.5,4.9M25.7,32.0l-5.2,2.0M55.1,33.9l1.4,4.0M92.0,56.1l-2.9,4.2M87.8,58.7l-2.9,2.9M73.2,9.9l-1.9,4.4M64.5,59.3l-1.5,4.2M57.3,49.8l2.6,0.3M-24.8,79.5l-0.5,3.4M18.5,17.0l-2.1,2.6M17.2,23.7l0.9,3.5M11.9,79.1l2.5,0.8M107.2,23.6l-3.6,3.1M13.6,23.9l-4.9,0.6M22.9,52.8l5.6,1.3M58.4,51.7l-0.6,5.2M39.6,57.1l2.8,2.1M98.5,49.9l-4.4,2.8M-7.5,43.0l-3.1,2.6M63.8,69.2l-2.4,2.6M16.4,49.2l5.3,1.3M87.6,51.3l-3.3,1.1M18.2,48.8l2.9,4.8M97.1,76.7l-1.9,1.9M76.3,30.2l-1.2,2.5" stroke="#f00000" stroke-width="1.15" stroke-linecap="round"/>
<path d="M23.4,55.2l-2.8,2.4M70.2,53.8l3.3,3.2M44.0,79.1l2.1,1.5M64.9,75.8l0.3,3.7M2.3,52.2l0.3,5.0M72.5,53.5l-5.6,0.1M104.5,22.7l3.5,2.1M57.8,29.6l-1.6,4.6M30.2,65.1l-4.9,2.0M104.4,46.5l-0.6,5.2M44.7,53.1l0.8,4.3M12.8,10.2l-3.9,2.1M100.3,79.5l4.0,1.5M5.8,48.8l4.4,3.3M86.0,6.1l2.4,2.5M13.7,25.2l-0.4,4.2M33.8,55.4l-2.1,3.5M62.7,52.7l-1.4,2.4M2.1,92.4l2.2,4.5M35.5,36.2l-1.7,5.4M57.4,62.8l1.2,3.5M27.0,13.3l-2.0,4.5M103.1,51.5l-4.4,0.8M65.1,49.4l-3.1,1.8M21.9,64.8l-0.4,2.7M-4.3,74.1l-3.0,1.8M78.6,63.3l3.0,3.3M92.9,34.7l-0.8,3.8M-0.9,66.0l2.3,3.4M34.6,54.2l-2.2,3.8M74.8,58.9l-4.6,0.3M27.6,11.4l3.2,0.9M100.7,11.1l-1.2,2.4M22.5,31.4l4.8,1.1M78.7,22.1l1.3,2.8M53.8,53.0l-0.2,4.4M70.0,17.4l0.1,2.5M11.4,47.3l2.2,3.6M58.5,39.8l-5.5,1.6M69.0,51.0l1.1,3.8M50.7,49.5l1.7,4.7M94.1,14.1l3.9,0.8M6.5,6.9l2.2,2.3M34.1,42.2l3.2,0.1M20.2,27.6l-4.1,1.0M16.7,30.0l2.5,0.8M36.1,63.6l3.3,3.0M61.5,42.8l3.9,0.8M57.6,47.3l4.9,1.8M93.2,3.8l0.7,2.7M37.6,100.0l1.7,4.5M40.0,70.0l3.3,1.9M39.3,20.2l-4.9,0.6M23.5,48.4l-4.8,3.3M2.5,62.8l1.0,3.1M49.0,73.7l-3.6,4.1M-3.0,61.6l-5.0,0.8M-2.2,34.3l3.7,3.0M71.6,62.2l5.5,2.2M10.2,16.9l-1.5,2.4M26.6,48.1l-2.7,0.9M112.7,3.8l1.1,3.5M85.8,25.8l-0.3,3.7M42.6,11.1l-4.1,3.2M26.1,69.7l-4.5,1.7M59.7,37.3l-5.5,2.3M52.2,59.9l-1.7,2.7M11.5,39.7l-4.3,1.5M-1.8,46.5l-5.0,1.3M17.6,21.3l2.4,3.0M50.2,35.5l3.9,1.4M75.5,62.7l2.0,1.6M14.7,97.5l-0.7,5.9M94.3,-3.9l-1.4,4.8M-30.7,37.2l-1.3,5.7M56.4,52.0l-4.1,3.1M24.6,18.3l-1.1,2.8M14.1,124.3l-3.0,1.3M20.1,69.3l-1.4,2.3M37.5,61.6l2.5,2.5M39.6,19.6l-3.1,1.6M46.2,41.2l0.6,4.3M69.8,60.8l-4.5,1.7M4.8,46.2l1.9,5.0M-1.8,55.0l4.5,0.5M74.2,5.4l2.8,1.8M43.8,46.9l-1.1,3.0M46.5,64.8l-3.1,1.6M101.7,15.2l1.8,5.2M63.5,73.1l-5.4,0.0M3.5,70.0l-2.6,3.9M43.0,57.1l-5.2,2.4M30.5,30.3l-3.2,5.0M14.1,45.2l-1.0,5.8M101.4,-18.7l3.6,2.3M26.2,69.3l-0.2,4.4M57.6,60.0l1.5,3.6M33.6,39.4l3.6,2.7M-6.0,37.9l3.9,0.4M-6.3,44.7l-2.3,2.2M96.0,40.6l-1.3,4.6M92.3,4.6l5.4,0.1M11.4,60.2l-2.6,3.9M21.4,47.0l3.6,3.9M-14.8,97.9l-0.2,3.0M7.4,55.0l2.9,3.3" stroke="#c80000" stroke-width="1.15" stroke-linecap="round"/>
</svg>
<svg x="350" y="439.5" width="110" height="82.1" overflow="hidden">
<g filter="url(#glow)"><circle cx="105.6" cy="66.7" r="8.8" fill="#e00"/><circle cx="50.6" cy="1.2" r="6.9" fill="#e00"/><circle cx="70.2" cy="70.9" r="6.9" fill="#e00"/><circle cx="40.0" cy="0.4" r="8.0" fill="#e00"/><circle cx="68.7" cy="80.9" r="6.8" fill="#e00"/><circle cx="93.8" cy="63.4" r="8.8" fill="#e00"/></g>
<g filter="url(#glow2)"><circle cx="50.9" cy="73.7" r="3.1" fill="#f00"/><circle cx="43.6" cy="0.9" r="2.5" fill="#f00"/><circle cx="35.8" cy="28.8" r="2.0" fill="#f00"/><circle cx="109.2" cy="32.4" r="2.6" fill="#f00"/><circle cx="30.2" cy="56.7" r="3.8" fill="#f00"/><circle cx="10.7" cy="25.1" r="2.6" fill="#f00"/><circle cx="43.5" cy="10.2" r="3.0" fill="#f00"/><circle cx="65.8" cy="34.7" r="3.0" fill="#f00"/><circle cx="88.2" cy="27.9" r="2.5" fill="#f00"/><circle cx="107.5" cy="16.1" r="3.1" fill="#f00"/></g>
<path d="M103.8,44.4l-4.0,3.4M69.9,65.0l4.7,2.0M39.3,49.3l-3.5,2.4M36.2,63.3l-1.0,3.8M57.5,-2.7l5.7,1.7M66.5,19.5l0.5,2.9M24.6,16.3l0.2,3.5M67.4,118.1l-4.6,0.0M71.8,35.0l-3.4,0.8M115.5,45.0l-1.6,4.1M50.3,36.2l5.2,0.9M90.6,55.8l-1.9,2.3M67.4,-33.6l-2.1,5.4M76.8,81.1l2.6,4.8M93.7,82.9l2.7,1.8M91.8,80.5l-1.8,5.5M120.5,98.1l-1.3,4.7M51.8,11.6l-0.1,4.3M53.5,68.8l-1.9,3.2M71.2,94.9l-1.9,3.6M0.4,46.3l0.7,3.1M12.1,3.6l5.6,0.5M16.9,9.3l-0.6,3.3M15.5,-37.5l-2.0,3.0M31.6,64.7l0.1,4.0M63.8,11.0l-2.4,0.8M75.0,27.2l-2.7,1.6M92.5,75.0l-3.9,0.9M81.3,99.5l-2.3,2.4M46.0,-8.0l0.9,4.2M50.3,82.0l-0.3,2.5M73.5,58.6l3.8,1.3M106.6,63.2l2.2,3.7M35.1,36.3l0.0,5.8M42.9,77.2l0.2,2.9M53.3,-12.4l4.6,0.4M44.5,1.9l-1.5,4.4M53.9,36.0l2.8,0.8M85.5,62.7l3.9,1.8M25.0,-8.2l-1.6,2.2M100.5,33.5l-3.4,3.6M10.1,50.6l-1.6,4.4M109.8,5.9l2.6,2.0M24.9,39.9l-4.7,1.7M64.8,74.7l-3.1,3.1M62.0,54.2l3.2,0.5M118.4,61.2l1.9,3.1M82.6,0.9l4.3,4.1M44.7,78.9l-1.6,3.9M42.8,80.4l-5.2,1.5M65.9,53.8l3.7,0.3M44.5,61.1l-2.5,1.6M50.2,3.5l-1.8,2.1M121.2,67.4l-2.2,4.7M60.4,2.2l-2.7,5.2M34.9,60.2l-5.5,1.1M77.2,34.7l-1.3,5.6M88.8,-3.5l-4.0,1.7M25.6,2.0l4.0,0.2M32.7,-6.5l3.8,3.2M76.9,30.3l-3.0,3.1M53.4,40.2l-2.0,1.6M60.0,68.7l4.1,2.6M3.0,-8.7l4.7,2.0M38.2,1.4l4.4,0.0M2.5,38.1l2.4,3.8M-2.7,-10.0l-4.8,2.4M114.7,82.7l2.4,2.5M111.9,69.9l5.2,1.4M63.4,-2.4l3.0,2.2M44.6,-4.0l1.3,2.6M100.2,14.3l-2.2,4.0M54.5,70.5l-2.9,2.7M37.6,0.1l-1.1,2.4M79.3,69.6l-0.5,2.6" stroke="#a00000" stroke-width="1.15" stroke-linecap="round"/>
<path d="M17.4,46.6l-1.8,4.3M14.0,58.9l-0.2,2.5M0.5,38.4l-3.6,0.0M42.9,48.5l4.9,0.8M92.3,71.4l-0.6,5.0M93.4,72.3l2.0,5.6M5.3,16.4l1.2,5.3M56.3,75.8l4.2,3.0M109.4,38.1l1.9,1.9M58.6,115.5l-2.2,1.4M32.3,47.2l-0.2,4.1M134.8,93.3l2.0,2.8M87.1,61.3l0.3,5.0M62.2,88.9l-2.9,1.1M99.9,36.8l-1.7,3.7M37.5,42.3l-1.6,5.5M29.7,50.9l0.4,5.3M92.1,110.8l0.7,3.3M86.8,76.1l3.9,1.3M111.8,69.7l0.2,5.9M109.3,56.3l-2.4,1.0M43.3,-14.3l-2.2,1.8M111.9,50.9l-4.5,2.4M106.1,30.2l5.1,0.2M53.2,6.4l-4.0,3.3M83.1,18.5l2.5,4.4M64.0,4.5l-2.7,2.9M72.4,23.5l-3.5,1.2M59.9,60.2l-1.3,4.0M44.8,0.2l3.6,3.5M31.2,7.0l-1.5,2.3M63.6,50.0l2.0,3.5M38.1,23.1l-5.9,0.2M68.1,105.0l-0.6,2.4M94.3,63.7l2.9,4.0M74.9,46.1l-0.1,3.4M45.9,3.9l-0.7,2.7M73.0,54.9l-2.6,2.7M101.8,37.5l1.8,4.0M72.2,51.4l2.6,0.6M82.8,24.1l3.2,4.7M90.7,92.0l-4.7,0.7M65.8,95.2l-1.4,4.4M15.1,35.9l4.3,1.2M59.3,56.5l-0.7,2.8M113.7,88.1l-3.5,2.0M104.0,5.6l-1.1,4.8M15.7,7.8l-2.5,0.9M104.3,73.8l-4.7,1.3M75.2,75.6l5.0,2.5M125.1,50.0l-4.6,0.2M124.7,68.2l1.9,2.7M7.5,79.2l2.8,5.2M75.4,79.5l-2.2,4.1M117.4,27.4l-4.8,2.7M53.9,36.9l-5.2,0.6M65.0,3.4l-1.9,4.4M60.0,101.4l2.4,4.6M97.2,77.7l-3.7,4.0M-0.3,1.8l3.8,0.8M39.6,36.7l5.7,0.2M71.8,81.6l-1.7,3.1M68.1,42.5l2.5,5.0M30.2,61.8l-4.8,0.1M134.8,66.3l4.6,2.1M61.3,0.9l3.4,1.4" stroke="#e00000" stroke-width="1.15" stroke-linecap="round"/>
<path d="M56.5,70.0l-3.8,0.2M70.0,64.0l4.9,0.4M82.9,76.4l-3.7,2.3M99.2,80.9l-0.0,4.2M59.5,4.2l2.3,5.2M56.0,28.2l-3.9,1.8M52.7,-4.5l2.9,0.0M73.5,-1.2l0.2,3.2M38.0,78.3l-0.9,3.3M15.6,62.0l2.5,2.9M57.0,72.8l-0.8,3.5M67.3,57.0l-2.9,4.5M98.0,52.4l1.6,3.8M119.2,75.6l3.6,2.4M50.1,41.8l2.4,1.5M34.5,-23.9l-0.2,3.8M114.8,38.4l-0.2,3.1M7.4,20.7l-0.6,5.6M84.9,56.7l-0.6,3.3M51.0,81.8l-0.2,3.8M71.8,44.2l-2.2,1.7M42.2,15.4l3.4,1.9M69.3,81.6l-3.1,0.8M62.7,81.4l-0.5,4.8M69.6,64.1l-4.2,2.6M69.0,30.9l2.9,2.7M101.9,76.4l1.8,5.1M132.0,74.6l-2.7,2.2M57.5,13.0l2.6,1.7M19.3,65.5l-1.8,4.4M80.2,46.4l-1.5,3.5M97.0,69.1l2.0,2.1M69.4,30.1l-3.1,2.9M93.8,79.7l-3.4,0.9M134.7,52.3l-2.9,0.6M105.3,2.0l0.4,5.5M58.4,69.5l0.1,3.8M103.6,75.2l-0.3,2.8M35.6,-15.6l2.6,1.5M28.0,48.5l5.1,0.8M11.9,-13.7l4.2,0.2M47.0,24.0l4.2,0.4M44.7,26.7l-1.3,3.6M37.7,40.4l-2.7,0.5M103.1,70.1l-0.8,5.9M100.5,85.9l3.7,2.6M57.7,44.4l5.1,2.7M73.0,2.2l1.2,2.9M72.4,95.4l4.7,2.9M23.9,-39.4l-1.9,3.0M75.0,25.9l-3.0,3.0M81.1,7.5l1.2,4.0M54.4,41.6l1.6,5.4M66.7,-9.7l-1.5,3.4M22.7,41.9l4.3,0.2M24.7,57.6l-2.3,1.0M67.6,68.1l3.5,0.6M91.8,76.1l-0.0,3.4M96.3,64.9l-0.9,2.5M38.6,77.1l-1.8,2.9M11.2,36.9l1.4,2.1M63.2,17.4l-1.1,5.7M37.2,72.7l-0.1,2.8M53.6,1.4l-5.2,2.1" stroke="#ff0000" stroke-width="1.15" stroke-linecap="round"/>
<path d="M2.5,7.8l3.5,2.1M95.0,56.5l1.7,2.2M107.8,78.9l4.2,0.4M33.5,13.6l-1.2,2.8M47.3,6.3l2.7,0.7M54.8,18.6l5.2,1.6M61.2,95.8l-0.7,3.3M79.2,18.5l3.8,0.3M108.0,40.7l-4.7,0.1M134.7,69.9l-3.0,3.6M40.6,23.5l-3.6,2.9M74.9,57.7l3.5,3.6M51.3,55.7l2.2,5.6M59.5,21.6l3.6,4.5M80.7,55.7l1.7,1.8M70.5,94.7l-0.7,4.6M18.9,74.1l3.0,0.1M135.1,63.7l-2.2,4.0M34.9,-11.0l-2.0,2.3M92.7,81.4l-0.9,2.3M57.4,57.8l2.5,1.4M10.7,74.1l0.8,4.8M42.6,32.5l-1.9,1.8M65.7,71.6l4.5,1.2M6.6,17.4l-3.2,3.6M69.3,18.9l5.3,1.4M92.6,60.7l1.3,3.0M72.9,77.4l-0.3,3.3M28.4,61.2l3.7,2.7M63.9,64.4l2.4,1.5M51.6,-11.7l5.9,0.2M90.1,84.4l-2.0,4.7M52.4,-6.2l-1.3,4.3M63.2,103.9l-1.2,3.0M14.8,27.3l4.7,0.5M67.0,-8.4l3.9,2.5M16.1,79.3l-1.0,2.3M48.2,7.2l1.8,1.8M35.1,60.2l0.3,3.2M74.9,61.8l-2.4,2.9M28.8,56.8l-3.3,0.8M131.8,88.3l-6.0,0.2M63.0,79.9l-4.1,1.3M89.2,56.0l0.6,3.3M60.6,71.6l4.4,0.7M80.4,64.6l-2.1,4.6M135.5,43.1l-2.3,2.9M97.2,15.9l1.0,3.4M56.5,78.9l3.3,1.9M25.5,8.4l4.6,1.1M64.9,71.8l-3.1,1.6M0.1,16.9l3.6,1.2M17.3,12.6l-2.6,3.3M71.5,74.7l3.3,1.2M54.4,2.9l3.2,1.8M35.9,-6.0l0.4,4.0M32.6,-18.5l-0.3,5.4M62.1,2.3l-4.2,1.9M32.1,6.5l0.1,2.6M81.6,50.7l-0.1,2.9M94.9,40.7l-0.6,3.3M55.5,51.8l-5.4,1.4M41.0,3.2l-0.3,3.1M72.2,67.9l-3.1,0.4M17.7,-25.1l-3.7,2.0M61.3,6.1l-4.5,0.5M4.2,41.0l2.5,3.5M67.4,66.6l-2.1,3.9M66.6,68.0l-3.1,2.8" stroke="#f00000" stroke-width="1.15" stroke-linecap="round"/>
<path d="M121.6,59.2l4.0,3.1M43.3,5.8l-1.6,4.4M137.3,75.3l1.2,2.5M42.7,39.4l2.9,2.4M77.5,65.4l-2.5,0.3M20.6,40.5l-3.6,4.1M82.7,74.9l0.6,2.9M71.9,50.7l-4.2,1.5M51.5,71.6l2.6,2.0M10.2,81.1l2.7,0.1M26.7,1.8l0.1,5.3M93.0,18.0l2.3,4.7M28.4,7.2l-2.4,0.9M68.4,95.3l-4.1,0.7M79.8,79.8l0.7,4.0M30.7,1.6l-2.5,1.0M79.5,46.7l-2.9,1.2M7.0,71.2l1.7,3.9M64.8,-14.2l4.2,1.9M40.3,6.3l-0.6,3.9M72.0,2.4l2.7,0.5M58.1,71.7l-2.5,3.2M23.7,2.5l-3.3,2.7M47.0,0.5l5.8,0.7M91.0,47.0l-3.6,3.6M22.8,61.6l3.1,0.1M58.4,74.9l-5.3,0.2M6.9,14.5l4.0,1.0M58.0,75.2l1.7,3.9M10.3,51.4l-4.0,4.3M79.1,67.0l-2.4,1.1M101.8,68.6l2.2,3.3M102.0,27.5l1.5,2.9M72.6,83.7l-5.0,0.1M105.0,44.5l-2.8,1.4M52.7,5.1l3.5,3.8M2.5,15.2l-2.5,3.6M36.3,19.4l3.4,2.4M35.2,-25.0l1.2,3.4M87.3,9.9l0.8,3.8M64.3,47.1l4.6,3.6M90.1,49.4l2.4,1.3M50.2,65.2l-2.3,1.6M6.9,49.3l-3.7,0.7M42.9,22.6l2.0,2.6M84.4,74.5l4.1,3.7M47.8,50.7l-0.7,4.1M74.2,74.8l3.5,0.9M98.5,35.0l4.1,1.3M57.5,57.3l-2.1,3.4M79.3,58.0l-3.6,2.1M91.3,87.4l4.3,0.9M91.1,71.1l-2.9,0.5M103.3,9.3l0.6,4.8M83.2,83.8l-0.1,5.2M125.7,68.9l5.4,1.7" stroke="#c80000" stroke-width="1.15" stroke-linecap="round"/>
</svg>
<rect x="29.5" y="279.4" width="55.4" height="42.0" fill="none" stroke="#c8c8c8" stroke-width="1.1"/>
<path d="M29.5,321.4L13.5,352M84.9,321.4L122.5,352" stroke="#d8d8d8" stroke-width="1.3" stroke-dasharray="5,3" fill="none"/>
<rect x="146" y="292.9" width="55.4" height="41.6" fill="none" stroke="#c8c8c8" stroke-width="1.1"/>
<path d="M146,334.5L125.5,352M201.4,334.5L234.5,352" stroke="#d8d8d8" stroke-width="1.3" stroke-dasharray="5,3" fill="none"/>
<rect x="260.9" y="292.5" width="54.7" height="41.3" fill="none" stroke="#c8c8c8" stroke-width="1.1"/>
<path d="M260.9,333.8L238.5,352M315.6,333.8L347.5,352" stroke="#d8d8d8" stroke-width="1.3" stroke-dasharray="5,3" fill="none"/>
<rect x="371.7" y="292.5" width="55.3" height="41.3" fill="none" stroke="#c8c8c8" stroke-width="1.1"/>
<path d="M371.7,333.8L350.5,352M427,333.8L459.5,352" stroke="#d8d8d8" stroke-width="1.3" stroke-dasharray="5,3" fill="none"/>
<rect x="477.5" y="307.3" width="55.4" height="41.0" fill="none" stroke="#c8c8c8" stroke-width="1.1"/>
<path d="M477.5,348.3L463.5,352M532.9,348.3L572.5,352" stroke="#d8d8d8" stroke-width="1.3" stroke-dasharray="5,3" fill="none"/>
<rect x="607.8" y="300.3" width="54.4" height="41.9" fill="none" stroke="#c8c8c8" stroke-width="1.1"/>
<path d="M607.8,342.2L575.5,352M662.2,342.2L684.5,352" stroke="#d8d8d8" stroke-width="1.3" stroke-dasharray="5,3" fill="none"/>
<rect x="23.4" y="372.5" width="27.6" height="20.8" fill="none" stroke="#c8c8c8" stroke-width="1.1"/>
<path d="M23.4,393.3L13.5,437M51,393.3L122.5,437" stroke="#d8d8d8" stroke-width="1.3" stroke-dasharray="5,3" fill="none"/>
<rect x="138.6" y="390.3" width="28.2" height="20.7" fill="none" stroke="#c8c8c8" stroke-width="1.1"/>
<path d="M138.6,411L125.5,437M166.8,411L234.5,437" stroke="#d8d8d8" stroke-width="1.3" stroke-dasharray="5,3" fill="none"/>
<rect x="261.2" y="374.1" width="27.5" height="20.9" fill="none" stroke="#c8c8c8" stroke-width="1.1"/>
<path d="M261.2,395L238.5,437M288.7,395L347.5,437" stroke="#d8d8d8" stroke-width="1.3" stroke-dasharray="5,3" fill="none"/>
<rect x="386.1" y="372.5" width="27.9" height="20.8" fill="none" stroke="#c8c8c8" stroke-width="1.1"/>
<path d="M386.1,393.3L350.5,437M414,393.3L459.5,437" stroke="#d8d8d8" stroke-width="1.3" stroke-dasharray="5,3" fill="none"/>
<rect x="511.4" y="377.5" width="27.6" height="20.1" fill="none" stroke="#c8c8c8" stroke-width="1.1"/>
<path d="M511.4,397.6L463.5,437M539,397.6L572.5,437" stroke="#d8d8d8" stroke-width="1.3" stroke-dasharray="5,3" fill="none"/>
<rect x="611.8" y="388.2" width="27.9" height="20.5" fill="none" stroke="#c8c8c8" stroke-width="1.1"/>
<path d="M611.8,408.7L575.5,437M639.7,408.7L684.5,437" stroke="#d8d8d8" stroke-width="1.3" stroke-dasharray="5,3" fill="none"/>
<rect x="109.7" y="274.7" width="7" height="2.2" fill="#fff"/>
<rect x="102.3" y="358.5" width="14.5" height="2.6" fill="#fff"/>
<rect x="57.1" y="443.6" width="59.6" height="2.8" fill="#fff"/>
<text x="13" y="244.1" font-size="12.5" font-weight="bold">C</text>
<text x="124" y="246.4" font-size="10.5" font-weight="bold" text-anchor="middle">WT</text>
<path d="M50.8,254.9L207.9,251.3V254.9Z" fill="url(#wedge)" stroke="url(#wedge)" stroke-width="0.5"/>
<text x="50.8" y="266.6" font-size="10.5" font-weight="bold" text-anchor="start">0 μM</text>
<text x="154.8" y="266.6" font-size="10.5" font-weight="bold" text-anchor="start">8 μM HNP1</text>
<text x="354" y="246.4" font-size="10.5" font-weight="bold" text-anchor="middle">ΔOmpA</text>
<path d="M278,254.9L433.8,251.3V254.9Z" fill="url(#wedge)" stroke="url(#wedge)" stroke-width="0.5"/>
<text x="279.7" y="266.6" font-size="10.5" font-weight="bold" text-anchor="start">0 μM</text>
<text x="382.8" y="266.6" font-size="10.5" font-weight="bold" text-anchor="start">8 μM HNP1</text>
<text x="581.6" y="246.4" font-size="10.5" font-weight="bold" text-anchor="middle">ΔOmpA:C</text>
<path d="M498,254.9L655.5,251.3V254.9Z" fill="url(#wedge)" stroke="url(#wedge)" stroke-width="0.5"/>
<text x="507.7" y="266.6" font-size="10.5" font-weight="bold" text-anchor="start">0 μM</text>
<text x="602.7" y="266.6" font-size="10.5" font-weight="bold" text-anchor="start">8 μM HNP1</text>
<text font-size="16" text-anchor="middle" transform="translate(10.1,324) rotate(-90)">×</text>
<text font-size="10.5" font-weight="bold" text-anchor="middle" transform="translate(8,306.7) rotate(-90)">200</text>
<text font-size="16" text-anchor="middle" transform="translate(10.1,408.5) rotate(-90)">×</text>
<text font-size="10.5" font-weight="bold" text-anchor="middle" transform="translate(8,391.2) rotate(-90)">400</text>
<defs><filter id="sd0" x="0" y="0" width="1" height="1" color-interpolation-filters="sRGB"><feTurbulence type="fractalNoise" baseFrequency="0.41" numOctaves="2" seed="101" result="n0"/><feTurbulence type="fractalNoise" baseFrequency="0.05" numOctaves="2" seed="102" result="n1"/><feComposite in="n0" in2="n1" operator="arithmetic" k1="0" k2="0.7692" k3="0.2308" k4="0" result="a1"/><feColorMatrix in="a1" type="matrix" values="6.000 0 0 0 -2.640  6.000 0 0 0 -2.640  6.000 0 0 0 -2.640  0 0 0 0 1"/><feComponentTransfer><feFuncR type="linear" slope="0.33999999999999997" intercept="0.26"/><feFuncG type="linear" slope="0.33999999999999997" intercept="0.26"/><feFuncB type="linear" slope="0.33999999999999997" intercept="0.26"/></feComponentTransfer><feGaussianBlur stdDeviation="0.45"/></filter><filter id="sd1" x="0" y="0" width="1" height="1" color-interpolation-filters="sRGB"><feTurbulence type="fractalNoise" baseFrequency="0.37" numOctaves="2" seed="103" result="n0"/><feTurbulence type="fractalNoise" baseFrequency="0.055" numOctaves="3" seed="104" result="n1"/><feComposite in="n0" in2="n1" operator="arithmetic" k1="0" k2="0.5714" k3="0.4286" k4="0" result="a1"/><feColorMatrix in="a1" type="matrix" values="6.000 0 0 0 -2.630  6.000 0 0 0 -2.630  6.000 0 0 0 -2.630  0 0 0 0 1"/><feComponentTransfer><feFuncR type="linear" slope="0.41000000000000003" intercept="0.25"/><feFuncG type="linear" slope="0.41000000000000003" intercept="0.25"/><feFuncB type="linear" slope="0.41000000000000003" intercept="0.25"/></feComponentTransfer><feGaussianBlur stdDeviation="0.5"/></filter><filter id="sd2" x="0" y="0" width="1" height="1" color-interpolation-filters="sRGB"><feTurbulence type="fractalNoise" baseFrequency="0.8" numOctaves="2" seed="105" result="n0"/><feColorMatrix in="n0" type="matrix" values="0.400 0 0 0 0.110  0.400 0 0 0 0.110  0.400 0 0 0 0.110  0 0 0 0 1"/><feGaussianBlur stdDeviation="0.35"/></filter><filter id="sd3" x="0" y="0" width="1" height="1" color-interpolation-filters="sRGB"><feTurbulence type="fractalNoise" baseFrequency="0.8" numOctaves="2" seed="106" result="n0"/><feColorMatrix in="n0" type="matrix" values="0.500 0 0 0 0.010  0.500 0 0 0 0.010  0.500 0 0 0 0.010  0 0 0 0 1"/><feGaussianBlur stdDeviation="0.35"/></filter><filter id="si" x="0" y="0" width="1" height="1" color-interpolation-filters="sRGB"><feTurbulence type="fractalNoise" baseFrequency="0.22" numOctaves="3" seed="107" result="n0"/><feColorMatrix in="n0" type="matrix" values="0.450 0 0 0 0.025  0.450 0 0 0 0.025  0.450 0 0 0 0.025  0 0 0 0 1"/><feGaussianBlur stdDeviation="0.35"/></filter><filter id="si0" x="0" y="0" width="1" height="1" color-interpolation-filters="sRGB"><feTurbulence type="fractalNoise" baseFrequency="0.2" numOctaves="2" seed="108" result="n0"/><feColorMatrix in="n0" type="matrix" values="0.250 0 0 0 0.145  0.250 0 0 0 0.145  0.250 0 0 0 0.145  0 0 0 0 1"/><feGaussianBlur stdDeviation="0.35"/></filter><clipPath id="cd0"><rect x="24" y="555" width="160" height="120"/></clipPath><clipPath id="cd1"><rect x="187" y="555" width="159" height="120"/></clipPath><clipPath id="cd2"><rect x="24" y="678" width="160" height="119"/></clipPath><clipPath id="cd3"><rect x="187" y="678" width="159" height="119"/></clipPath></defs>
<rect x="24" y="555" width="160" height="120" fill="#000" filter="url(#sd0)"/>
<rect x="187" y="555" width="159" height="120" fill="#000" filter="url(#sd1)"/>
<rect x="24" y="678" width="160" height="119" fill="#000" filter="url(#sd2)"/>
<rect x="187" y="678" width="159" height="119" fill="#000" filter="url(#sd3)"/>
<g clip-path="url(#cd2)"><path d="M75.8,694.6L75.5,693.0L74.5,691.8L73.5,690.5M37.8,724.0L38.0,725.6L37.6,727.1L37.9,728.7L38.9,730.0L39.5,731.4L39.2,733.0L38.8,734.5M87.5,785.4L89.0,785.0L90.5,784.5L92.1,784.1L93.7,783.8L95.2,783.6L96.8,783.9L98.3,783.3L99.8,782.8L101.0,781.8M39.6,756.3L38.0,756.3L36.4,756.0L34.9,755.7L33.3,755.9L31.7,755.9L30.1,756.0L28.6,756.5M151.1,754.9L151.6,756.4L152.1,757.9L152.9,759.3L153.9,760.6L154.6,762.0L156.0,762.8L157.3,763.6M50.4,715.6L51.2,714.2L52.3,713.0L53.7,712.3L55.2,711.8L56.8,712.1L58.4,711.9M135.2,743.4L133.7,743.5L132.4,744.5L131.5,745.9L130.3,746.9L129.9,748.5L129.1,749.8M73.5,741.6L72.5,740.4L71.2,739.4L70.2,738.1L68.7,737.7L67.1,737.4L65.6,737.9M42.7,684.5L43.4,683.0L43.9,681.5L45.2,680.5L46.4,679.5M50.6,722.2L49.7,723.5L48.2,724.2L47.1,725.3L46.0,726.5M81.4,775.3L82.5,774.1L82.8,772.5L83.5,771.1L83.2,769.5M69.1,694.0L67.6,693.5L66.6,692.2L66.1,690.7L65.6,689.2L65.3,687.7L65.4,686.1L64.6,684.7M167.9,763.8L169.1,762.8L170.2,761.6L171.1,760.2L171.9,758.9L172.5,757.4L172.5,755.8L173.5,754.5L174.3,753.2L174.4,751.6M114.7,737.0L115.6,735.7L117.0,735.0L118.5,734.5L119.7,733.4L120.3,731.9L120.7,730.4L120.7,728.8M43.7,771.4L45.3,771.3L46.8,770.7L47.8,769.6L49.3,768.8L50.8,768.6L52.4,768.3M56.8,782.7L55.7,783.9L55.6,785.5L55.3,787.1L54.2,788.2L52.6,788.6L51.0,788.5L49.5,789.0L48.1,789.8M50.7,762.9L49.2,762.6L47.7,762.0L46.3,761.1L45.4,759.8L45.0,758.2L44.0,757.0L42.6,756.2L41.2,755.6L40.1,754.4M56.0,732.2L56.4,730.7L56.8,729.1L56.5,727.5M153.4,757.5L153.3,759.1L154.1,760.5L155.0,761.9L156.1,763.0L157.2,764.1M181.6,745.1L183.2,744.8L184.8,744.8L186.2,745.5L187.8,745.4L189.4,745.0L191.0,745.1L192.5,744.6L194.1,744.9M93.4,747.9L94.9,748.6L96.4,749.0L97.5,750.2L98.0,751.7L99.2,752.8L100.8,753.1L102.3,752.7L103.9,753.2M156.2,785.8L154.8,785.1L153.5,784.2L151.9,784.3L150.4,783.8L149.1,782.9M40.4,760.4L41.9,761.1L42.8,762.5L44.3,762.9L45.9,762.8L47.5,762.7L49.0,763.1L50.6,763.2L52.2,763.3L53.6,764.2M33.7,759.4L35.1,758.6L36.7,758.7L38.3,758.5L39.7,759.3L41.1,760.1L42.5,761.0L43.8,761.9L45.4,761.7M94.4,698.1L95.8,697.4L96.8,696.1L97.9,695.0L98.2,693.4L97.7,691.9L97.5,690.3L97.4,688.7L97.2,687.1L97.6,685.6M54.6,682.6L55.8,683.7L56.6,685.1L56.5,686.7L56.5,688.3L56.3,689.9L56.0,691.4M105.9,754.2L104.4,754.0L102.8,753.8L101.2,754.1L99.6,754.4L98.1,753.8L97.2,752.5L97.1,750.9M95.6,723.8L95.1,725.4L95.2,727.0L96.2,728.2L96.9,729.7L96.9,731.3M138.6,750.6L138.6,752.2L139.2,753.7L138.9,755.3L138.8,756.9M102.0,786.9L103.1,785.8L104.7,785.7L106.3,785.3L107.8,784.8M81.1,688.1L79.9,689.3L78.8,690.5L78.8,692.1L79.1,693.6L79.1,695.2M106.0,685.1L107.4,684.3L109.0,684.4L110.4,683.6L111.4,682.4L113.0,682.0L114.2,680.9L115.6,680.3L117.2,680.5L118.6,681.3M132.2,782.1L130.6,782.1L129.0,781.9L127.5,781.3L125.9,781.6L124.8,782.8L123.5,783.7L122.2,784.6M35.6,781.2L34.2,780.4L32.9,779.5L31.4,779.0L29.8,779.1L28.5,780.0L28.0,781.5L26.6,782.4L25.4,783.4L23.8,783.6M137.5,781.2L138.6,780.0L139.1,778.5L139.2,776.9L138.9,775.3L139.2,773.8M70.4,733.0L70.4,734.6L69.5,735.9L69.4,737.5L70.4,738.7L71.4,740.0M63.3,727.2L62.3,725.9L61.3,724.7L61.0,723.1L60.4,721.6L59.9,720.1L59.7,718.5L60.6,717.2L61.2,715.7M157.2,755.7L157.1,754.1L158.1,752.9L159.5,752.2L160.2,750.7L161.1,749.4L162.6,748.7M92.9,684.1L92.9,682.5L93.3,680.9L93.1,679.3L92.4,677.9L91.4,676.7L90.2,675.6M49.2,727.0L48.1,728.2L47.0,729.3L46.3,730.8L44.8,731.5L43.6,732.5M81.1,678.1L80.3,679.5L79.2,680.7L78.6,682.2L77.5,683.3L77.2,684.9L76.2,686.2M47.0,742.5L46.1,743.8L45.7,745.4L45.1,746.9L44.4,748.3L43.3,749.5M129.2,756.8L130.7,756.2L132.3,756.0L133.9,755.9L135.4,755.3L136.9,754.9L138.1,753.9M156.0,756.7L154.5,756.0L153.4,754.8L151.9,754.3L150.5,753.7L149.0,753.1L147.9,751.9M152.7,768.9L151.6,767.8L150.8,766.4L149.6,765.4L148.0,765.3L146.6,766.1L145.3,767.1L144.8,768.6L143.7,769.8M113.4,747.1L111.9,746.4L110.3,746.2L108.7,746.1L107.4,747.0L105.8,746.9L104.5,746.0L102.9,745.9L101.3,745.8M153.5,771.1L154.3,772.5L154.5,774.0L153.8,775.5L153.0,776.9L152.5,778.4L152.1,779.9L151.2,781.3L150.0,782.3L148.5,783.0M47.6,705.9L47.8,704.3L47.2,702.9L46.5,701.4L45.9,699.9L46.2,698.4M39.9,701.9L38.3,702.0L36.7,702.2L35.1,702.4L33.9,703.4L32.3,703.6L30.9,704.4L29.3,704.2L28.2,703.1M26.8,728.5L28.2,727.8L29.6,726.9L31.2,726.9L32.5,727.8L34.1,727.8L35.4,726.9M81.5,744.4L81.2,742.8L81.3,741.2L80.9,739.7L81.3,738.1L81.7,736.6M28.0,678.4L26.4,678.7L24.8,678.5L23.2,678.4L21.6,678.7L20.4,679.7L19.4,681.0M75.9,715.2L74.4,715.7L72.9,715.4L71.3,715.5L69.7,715.9M86.9,787.9L86.2,786.4L86.1,784.8L86.8,783.4L87.0,781.8L86.3,780.4M129.9,747.8L131.0,749.0L132.3,749.9L133.2,751.3L133.5,752.8L134.0,754.3M28.6,761.8L27.3,762.6L25.7,763.0L24.7,764.3L23.4,765.1L22.1,766.0L20.5,766.5L18.9,766.6M69.8,683.4L70.8,682.1L71.6,680.7L71.9,679.2L71.7,677.6M142.2,749.8L141.2,751.0L140.0,752.2L139.1,753.5L138.8,755.0M49.9,700.9L51.3,700.1L52.6,699.2L53.7,698.0L55.1,697.3L56.5,696.5L57.9,695.7M63.1,697.2L61.5,697.2L60.0,697.8L58.4,698.2L56.9,697.7L55.6,696.8M90.0,723.5L88.5,723.8L86.9,723.5L85.3,723.2L83.8,722.8L82.2,722.6L80.7,722.1M108.7,764.9L109.1,763.4L109.1,761.8L108.8,760.2M95.3,782.9L96.9,782.5L98.0,781.3L98.9,780.0L100.3,779.2L101.9,779.0L103.3,779.8L104.7,780.6L106.2,780.4L107.6,781.2M98.9,727.4L98.5,725.8L98.1,724.3L98.1,722.7L99.0,721.4M139.5,749.2L138.7,747.8L138.6,746.2L137.4,745.1L135.9,744.7L134.4,744.2L132.8,744.6M138.4,783.9L137.5,782.5L137.0,781.0L135.8,780.0L134.2,779.8L132.7,779.5L131.1,779.1L129.5,778.9M59.8,744.1L60.9,745.2L62.4,745.9L63.9,746.2L65.2,747.2L66.7,747.7M108.2,738.2L109.6,738.9L111.2,739.2L112.6,738.5L114.1,737.8L115.6,737.4L117.1,736.9M65.2,751.4L66.6,750.7L68.1,750.3L69.7,750.5L71.3,750.4M87.4,678.7L87.0,680.3L87.2,681.9L86.4,683.3L86.0,684.8L85.0,686.0L84.5,687.5L84.6,689.1L84.1,690.7L84.1,692.3M54.0,702.6L53.3,704.0L52.5,705.4L51.0,706.0L50.2,707.4L50.4,709.0L50.4,710.6L50.6,712.2L50.3,713.8M53.5,727.5L53.6,725.9L54.7,724.7L56.3,724.4L57.8,723.8L58.8,722.6M173.7,760.1L175.1,760.9L176.0,762.2L175.9,763.8L175.8,765.4L176.6,766.8L178.1,767.5L179.7,767.3L181.2,766.9M165.6,739.7L165.4,738.1L165.9,736.6L167.0,735.5L168.0,734.2L168.0,732.6L168.0,731.0M83.6,779.1L83.7,780.7L83.8,782.3L83.6,783.9L83.9,785.5L84.0,787.1M88.8,719.3L87.3,718.7L85.7,718.7L84.2,718.1L83.2,716.9L82.0,715.8L80.5,715.2L79.7,713.9L79.1,712.4L78.0,711.2M68.1,678.4L68.5,676.9L69.7,675.8L69.9,674.2L69.6,672.6L69.3,671.1L69.9,669.6L71.3,668.8L72.5,667.8L73.3,666.4M92.8,732.3L93.5,730.8L94.8,730.0L95.9,728.9L97.3,728.0M48.2,704.0L49.0,702.6L50.2,701.6L50.7,700.1L50.5,698.5L50.9,696.9L50.8,695.3M34.4,681.7L32.8,682.0L31.2,682.3L30.1,683.5L29.8,685.1L29.3,686.6M57.3,724.3L58.7,723.5L59.5,722.1L60.2,720.7L61.6,719.9L62.6,718.6L63.6,717.4M147.8,761.6L147.7,760.0L147.6,758.4L147.3,756.8L147.6,755.2L147.2,753.7M63.6,705.0L65.0,705.8L66.6,705.7L68.0,705.0L69.2,703.9L70.3,702.8L71.7,702.0L72.4,700.5M98.2,682.1L99.7,681.5L101.2,680.9L102.5,680.0L104.1,679.9L105.6,679.2L106.3,677.8L107.3,676.5L108.7,675.8L109.7,674.5M36.0,734.4L37.2,735.5L37.8,737.0L37.4,738.6L37.9,740.1L38.3,741.6L38.3,743.2L38.9,744.7M83.0,693.6L84.3,694.5L85.2,695.8L85.2,697.4L84.6,698.9L83.4,699.9M89.4,718.9L87.9,718.4L86.8,717.3L85.7,716.1M34.1,689.2L33.5,690.6L32.7,692.0L31.7,693.3L30.9,694.6L30.5,696.2L29.2,697.2L27.8,697.8M90.9,683.6L90.6,682.1L89.4,681.0L88.7,679.5L88.7,677.9L89.0,676.4M86.5,722.5L88.1,722.9L89.7,723.0L91.1,723.8L92.5,724.5L93.5,725.8L94.5,727.0M50.0,679.6L48.8,678.5L47.5,677.6L46.3,676.6L45.9,675.0L46.0,673.4L45.4,672.0L44.5,670.6L43.1,669.9M51.5,685.4L50.0,685.9L48.5,685.3L46.9,685.4L45.5,686.3L43.9,686.3L42.7,685.3L41.4,684.3L39.8,684.2L38.6,683.3M86.1,777.5L85.6,775.9L85.5,774.3L86.2,772.9L87.1,771.5L88.2,770.4L88.7,768.9L89.2,767.3L89.8,765.9L89.4,764.3M81.5,694.4L83.0,695.0L84.5,694.6L86.1,694.3L87.7,694.6L89.1,693.9L90.7,693.9L92.1,693.1L93.5,692.4L95.1,691.9M91.2,742.1L89.9,743.1L88.7,744.0L87.9,745.4L88.3,747.0L87.6,748.4L86.9,749.9L86.4,751.4L85.6,752.8M155.0,770.0L154.8,768.4L153.7,767.2L152.6,766.1L151.0,765.7L149.5,765.5L147.9,765.3M30.5,748.0L32.1,748.4L33.4,749.3L35.0,749.2L36.5,749.7L37.6,751.0L38.3,752.4L38.4,754.0L39.5,755.2M34.6,745.6L33.5,744.4L33.3,742.8L33.1,741.3M177.1,778.8L177.4,780.3L178.3,781.6L178.6,783.2L178.6,784.8L179.1,786.3L180.0,787.7L180.6,789.1L180.4,790.7L180.3,792.3M64.7,784.1L63.2,784.8L61.8,785.5L60.6,786.5L60.2,788.1L60.6,789.6L61.6,790.9L61.7,792.4M132.7,776.5L133.9,777.6L134.7,779.0L136.1,779.7L137.0,781.0L136.9,782.6L136.9,784.2L136.9,785.8L136.4,787.4L135.2,788.4M64.3,736.9L65.7,736.2L66.8,735.0L68.4,734.8L70.0,734.8L71.6,734.4L73.2,734.7L74.8,734.8L76.3,734.2M126.3,786.2L125.5,784.8L125.3,783.2L125.6,781.7L125.3,780.1L124.6,778.7L124.1,777.2L123.4,775.7L122.5,774.4M31.6,731.7L30.0,731.7L28.8,732.6L27.7,733.9M41.0,717.3L41.7,718.7L43.0,719.7L44.5,720.3L45.5,721.6L46.9,722.2L48.5,721.8L50.1,722.0M34.2,693.9L33.2,692.7L31.9,691.8L30.3,692.0L28.7,691.8L27.1,691.5M80.1,749.0L78.5,749.1L77.0,749.7L75.4,749.4L74.0,750.1L72.5,750.7L71.1,751.5L70.1,752.8M33.3,763.7L34.9,764.1L36.5,763.9L38.0,763.5L39.6,763.2L41.2,763.2L42.7,763.5L44.3,763.6M34.2,746.9L35.7,747.4L37.0,748.4L38.6,748.4L40.0,749.0L41.1,750.2L42.3,751.3L43.0,752.7L43.9,754.1M60.2,689.6L61.1,690.9L61.3,692.5L60.5,693.9M32.4,747.9L32.3,746.3L32.3,744.7L31.8,743.2L31.6,741.7L32.4,740.3L32.5,738.7L33.5,737.4L33.5,735.8M65.7,704.0L66.1,702.4L66.2,700.8L67.1,699.5L67.7,698.0M62.3,777.8L62.1,776.2L62.8,774.8L63.5,773.3L64.1,771.9L64.8,770.4L64.5,768.9L63.2,767.9L62.8,766.3M61.4,775.3L62.1,773.9L61.8,772.3L62.4,770.8L62.3,769.2L61.2,768.1L59.6,767.6M46.7,681.2L48.1,681.9L49.7,681.6L50.8,680.5L51.1,678.9L52.1,677.6L53.4,676.8L54.3,675.5L55.8,674.9M109.4,751.1L111.0,750.8L112.4,751.5L114.0,751.3L115.4,750.5L116.2,749.1L116.0,747.5L116.5,746.0L117.7,744.9L119.0,744.0M156.0,747.5L156.5,749.0L156.2,750.6L155.7,752.1M71.1,715.0L71.5,716.6L72.4,717.9L72.8,719.4L73.5,720.9L74.6,722.1M160.2,746.0L161.7,745.3L163.1,744.6L164.0,743.3L164.8,741.9L164.6,740.3L164.6,738.7M138.3,769.1L136.7,769.1L135.5,770.1L134.8,771.5L133.6,772.6L132.0,772.7M24.7,732.0L23.2,731.4L22.4,730.0L21.8,728.5L22.2,726.9L22.7,725.4L23.3,723.9L23.1,722.3L23.7,720.8L25.0,719.9M61.0,696.2L61.9,694.9L63.3,694.1L64.8,693.6L66.4,693.8L68.0,694.2L69.5,694.4L71.1,694.3L72.7,694.0L74.2,694.5M37.8,775.7L39.4,775.5L40.9,775.2L42.5,774.9L43.8,774.0M181.2,747.4L182.7,746.9L184.3,747.0L185.8,747.6L187.1,748.5M79.8,713.9L80.7,715.2L81.6,716.5L82.8,717.6L84.1,718.6L85.0,719.9L86.3,720.8L87.9,721.2L89.5,721.2L91.0,721.5M66.8,761.0L66.8,759.4L66.0,758.0L64.9,756.9L63.4,756.2L62.1,755.4L60.5,755.3L58.9,755.6M54.3,785.3L53.4,783.9L52.8,782.5L51.6,781.4M48.2,694.3L47.8,695.9L48.1,697.4L48.1,699.0L48.9,700.4L50.2,701.3M86.1,681.7L84.9,682.8L84.2,684.2L82.8,684.9L81.6,686.0L81.3,687.5L81.6,689.1L81.3,690.7L82.1,692.1L83.3,693.1M160.5,755.1L159.0,754.4L157.4,754.4L155.9,753.8L154.9,752.5L154.5,751.0L154.5,749.4L155.2,748.0L156.3,746.8M74.1,747.1L75.6,747.5L77.2,747.7L78.7,748.3L80.3,748.2L81.7,748.9L83.2,749.5M27.1,772.4L25.9,771.4L24.4,771.0L23.0,770.2L22.0,769.0L20.8,767.9L19.6,766.9L19.2,765.3L18.0,764.2M149.1,781.5L147.8,780.6L146.4,779.7L144.8,779.5M100.1,679.8L100.6,678.2L100.9,676.7L102.0,675.6L102.6,674.1L103.6,672.8M86.8,761.9L88.1,762.8L89.7,762.7L91.2,762.1L92.6,761.3L93.2,759.8L93.6,758.3L93.9,756.7M66.4,702.7L67.3,701.4L68.9,700.9L70.4,701.5L71.9,702.0L73.5,701.8L74.9,702.5L76.5,702.2M126.8,757.3L127.1,755.7L127.7,754.2L128.9,753.2L130.4,752.7M98.9,710.4L97.7,709.4L96.4,708.4L95.6,707.0L94.3,706.0M136.7,753.6L138.0,752.8L138.6,751.3L139.5,750.0L140.0,748.5L140.0,746.9L139.5,745.3L139.0,743.8L138.3,742.4" stroke="#d4d4d4" stroke-width="0.85" fill="none" stroke-linecap="round" stroke-linejoin="round"/></g>
<g clip-path="url(#cd3)"><path d="M288.3,750.5L287.0,751.3L286.2,752.5L284.9,753.4L283.5,753.7M319.2,747.6L320.7,747.4L321.9,746.5M233.6,744.9L232.1,744.6L230.6,744.4L229.3,743.8M220.2,722.3L218.8,721.7L217.7,720.7M312.3,770.3L312.7,771.7L312.8,773.2L313.0,774.7M327.3,739.1L326.7,740.4L326.2,741.8L325.5,743.2M264.0,777.6L263.6,776.2L263.1,774.7L263.3,773.2M188.1,770.5L186.6,770.5L185.1,770.1L183.6,769.8L182.2,769.7L180.9,768.9M199.0,748.1L197.6,747.5L196.1,747.6M304.1,787.9L304.7,786.5L305.2,785.1M301.2,746.8L300.6,748.2L299.7,749.3L298.7,750.4L297.3,751.1M232.2,715.6L231.7,717.0L231.5,718.5M267.1,707.9L265.6,707.6L264.3,706.9L262.9,706.4M237.4,710.9L236.4,709.8L235.0,709.3M301.9,775.4L300.4,775.1L299.0,775.5M194.4,768.4L192.9,768.2L191.6,767.4M284.3,745.8L283.0,745.1L281.8,744.2M259.8,761.9L260.6,763.2L261.5,764.4L262.8,765.1M236.2,756.1L237.1,754.9L237.7,753.5L238.3,752.2M289.0,780.7L290.2,781.7L291.1,782.9M254.0,754.5L253.2,755.9L252.7,757.3M281.1,781.1L282.6,781.4L284.1,781.7L285.5,781.3L287.0,781.0L288.5,781.2M188.5,751.6L189.9,751.1L191.0,750.1M262.1,708.3L260.9,707.4L259.5,706.9L258.0,707.0L256.5,706.7L255.2,706.2M323.0,758.3L324.3,759.0L325.3,760.2L326.4,761.1L327.0,762.5L327.4,763.9M188.8,679.6L187.8,678.5L186.6,677.6M282.4,783.3L282.9,781.9L284.0,780.9M213.5,784.3L214.4,785.4L215.5,786.5L216.7,787.4M312.0,781.9L312.0,780.4L311.4,779.1L311.5,777.6L311.8,776.1M283.3,785.5L284.2,784.3L285.5,783.6L286.6,782.5L287.6,781.4M246.8,762.9L247.3,764.3L248.4,765.3L249.7,766.1L251.0,766.7L252.3,767.5M316.7,775.6L318.0,776.4L318.9,777.7L319.7,778.9M230.5,771.6L230.8,770.2L230.5,768.7L230.3,767.2L230.5,765.7L230.3,764.2M306.3,780.5L306.2,782.0L306.1,783.5M219.8,706.0L219.8,704.5L219.2,703.2L218.9,701.7L219.1,700.2L218.9,698.7M279.2,776.7L280.3,775.6L281.4,774.7L282.3,773.5L282.7,772.1M215.7,755.1L214.9,756.3L214.0,757.6L213.6,759.0L213.8,760.5M203.9,747.6L203.9,746.1L203.3,744.7L202.4,743.5M219.5,773.8L218.1,773.5L216.7,772.9L215.3,772.3M337.5,762.4L337.8,760.9L337.4,759.5L336.5,758.2M215.7,687.2L216.9,688.2L218.1,689.1L218.8,690.4L218.9,691.9M197.2,743.8L195.8,744.4L194.9,745.5M237.7,703.7L239.1,704.0L240.4,704.9L241.7,705.5L243.2,705.8L244.5,706.5M214.4,781.6L215.9,781.6L217.2,782.3M312.0,756.1L310.7,755.4L309.2,755.2L307.8,754.6L306.8,753.5L306.0,752.3M234.5,743.1L234.5,741.6L234.4,740.1M249.0,719.2L248.2,720.5L247.9,722.0L247.4,723.4L247.6,724.9L247.4,726.4M218.0,682.0L219.0,680.8L220.1,679.8L221.0,678.6M306.1,763.6L307.6,763.7L309.1,764.0L310.5,764.3L312.0,764.3L313.5,764.7M262.9,747.1L263.6,748.5L264.6,749.5L265.7,750.6M210.8,724.0L211.1,725.5L211.0,727.0M240.2,696.5L238.7,696.6L237.2,696.8L235.9,697.5L234.5,698.1M287.3,764.6L288.8,764.4L290.1,763.7L291.6,763.3L293.0,763.6L294.5,763.8M228.6,704.3L229.0,705.7L228.8,707.2L229.3,708.6L229.5,710.1L229.9,711.5M209.3,678.2L209.6,676.7L209.8,675.3L210.6,674.0L211.0,672.5M215.6,762.7L215.4,761.3L215.7,759.8L216.5,758.5M303.2,761.7L303.7,763.1L304.0,764.6L303.7,766.1M197.4,758.6L196.2,759.4L195.0,760.4M231.8,748.3L232.8,747.2L234.2,746.6M262.8,773.9L262.5,775.4L261.6,776.6L261.3,778.1M298.7,741.2L299.6,740.1L300.5,738.9L301.4,737.7L301.9,736.3M300.6,767.8L301.9,767.0L303.4,766.7L304.8,766.5L306.3,766.9M233.4,689.8L233.2,688.4L233.1,686.9L233.0,685.4L232.3,684.1L232.2,682.6M222.6,698.1L223.7,699.0L224.3,700.4L225.5,701.3L226.2,702.7M320.1,748.1L318.6,748.1L317.3,748.7L315.8,748.8M206.6,732.3L205.2,732.9L204.1,733.9L202.7,734.5L201.3,734.9M223.2,703.0L222.8,701.5L221.9,700.3L221.5,698.8L221.8,697.4L221.8,695.9M253.9,770.4L252.6,769.5L251.2,769.2L249.7,769.1L248.2,769.2L246.7,768.8M300.8,770.7L299.6,769.7L298.9,768.4L297.7,767.6L296.5,766.7M339.3,780.8L339.1,782.3L339.5,783.7L340.5,784.8L341.8,785.6L343.2,786.1M218.9,751.6L218.5,753.0L217.6,754.3L216.3,755.0L215.0,755.6L213.5,755.8M327.6,775.3L328.8,776.2L329.9,777.2L330.9,778.4L331.4,779.8M192.7,689.1L193.8,690.0L194.5,691.4M232.7,711.6L231.4,710.9L230.5,709.7M333.4,777.2L334.8,777.8L336.1,778.5L337.1,779.7M332.6,741.5L332.0,742.9L331.7,744.4M259.2,754.4L259.9,755.8L260.3,757.2L260.7,758.6L261.1,760.1L261.3,761.6M261.6,712.2L262.1,713.6L262.6,715.0L262.3,716.5M250.0,779.7L251.0,780.8L252.2,781.7L253.6,782.3M196.0,680.4L194.6,680.0L193.1,680.3L191.7,680.7L190.3,681.2M222.8,783.5L222.6,782.0L222.6,780.5L222.1,779.1M219.2,745.2L218.6,746.6L217.7,747.8M311.8,755.9L313.0,755.1L313.8,753.8L314.5,752.4M250.2,787.2L250.6,788.7L250.8,790.2L251.2,791.6L251.7,793.0M259.8,757.5L259.4,759.0L258.8,760.4L258.0,761.6L258.0,763.1L257.5,764.6M234.7,737.1L235.3,735.7L236.0,734.4L236.1,732.9L236.8,731.5L237.3,730.1M321.1,770.2L322.6,770.5L323.8,771.4L324.5,772.7M191.1,706.2L192.5,705.9L194.0,705.9L195.5,706.0L196.8,706.9M243.9,743.4L242.8,744.5L241.7,745.5M202.7,719.2L201.3,719.5L199.8,719.2L198.3,718.9M257.0,746.7L258.5,747.0L259.8,747.6L261.3,747.6L262.8,747.4M245.3,686.3L245.3,687.8L244.7,689.1L243.9,690.4M317.5,786.9L318.7,786.1L320.0,785.3L321.5,785.0L322.8,784.2L324.3,784.0M252.5,684.6L251.1,684.2L250.0,683.2M252.4,764.6L251.4,765.7L250.4,766.9M202.7,679.7L204.1,680.0L205.6,680.3L207.1,680.3M345.5,741.2L344.6,742.4L343.7,743.5M268.0,681.2L269.1,682.3L270.0,683.5L270.5,684.9L271.5,685.9L273.0,686.4M213.9,707.3L215.3,708.0L216.6,708.6M248.3,684.0L249.4,683.0L250.6,682.1M226.6,682.8L227.9,682.0L229.3,681.6L230.8,681.8M235.3,744.3L236.7,744.6L238.2,744.3L239.7,744.3L241.2,744.5L242.7,744.8M252.7,721.8L252.8,720.3L252.5,718.9M214.6,717.4L215.3,718.7L216.2,719.9L217.3,721.0L217.9,722.3M240.4,749.6L241.9,749.8L243.4,749.7L244.8,749.2L246.0,748.3L247.0,747.2M224.7,681.8L224.4,680.4L223.7,679.1L222.5,678.1L221.1,677.5M273.6,764.6L272.5,763.7L271.6,762.4L270.4,761.5L269.1,760.8L268.0,759.8M246.9,783.4L247.3,784.9L248.1,786.2L248.9,787.4L250.1,788.3L251.1,789.4M228.5,777.0L227.2,776.1L225.9,775.4L224.6,774.7L223.1,774.5M306.4,752.6L307.4,753.7L308.1,755.0L309.3,755.8L310.4,756.9M210.1,679.7L210.1,678.2L209.8,676.7L209.0,675.4M332.3,766.6L331.7,765.2L330.9,763.9L329.8,762.9M207.1,756.8L206.3,758.1L205.5,759.4L204.6,760.6L203.6,761.7L202.2,762.3M245.3,765.9L244.2,764.9L243.3,763.7L242.3,762.6L242.1,761.1L241.6,759.7M233.3,707.8L232.4,706.6L231.0,706.0L229.6,706.0M212.8,699.8L211.9,701.1L211.1,702.3L210.0,703.4L208.6,703.9L207.2,704.4M223.2,732.8L221.8,732.3L220.4,731.8L219.3,730.7L218.0,730.1L216.8,729.1M291.2,777.1L292.6,776.7L294.1,776.5M192.9,713.0L193.5,711.7L193.5,710.2L193.8,708.7L194.0,707.2M305.9,769.2L305.8,770.7L305.1,772.0M257.4,715.4L255.9,715.4L254.4,715.1L252.9,715.2L251.4,715.1L250.0,714.5M217.1,782.8L217.3,781.3L217.0,779.8L217.2,778.3L216.9,776.8M228.4,784.0L229.2,785.2L230.4,786.2L231.7,786.9L233.2,787.0M299.4,751.7L300.2,753.0L300.8,754.4L301.8,755.5M288.9,754.8L289.8,756.0L291.0,756.9L292.0,758.0M205.8,724.7L207.2,724.3L208.6,723.9L210.1,723.8M233.0,717.7L232.8,719.1L232.9,720.6M204.6,712.0L206.0,711.4L207.3,710.7L208.6,709.9M213.7,685.9L215.1,685.4L216.6,685.2L218.0,685.7L219.4,686.3L220.9,686.3M264.7,725.8L265.9,726.7L266.5,728.1L267.0,729.5L267.2,731.0M335.7,749.8L336.3,751.2L336.6,752.6L337.4,753.8M249.8,694.0L249.3,695.4L248.5,696.6L248.0,698.0M223.6,693.0L224.7,692.0L225.2,690.5L225.8,689.2L226.6,687.9M317.3,755.6L318.6,754.8L319.8,753.9L320.7,752.7M234.6,741.9L236.1,742.2L237.6,742.3L238.9,743.2M201.3,682.4L200.1,683.3L199.0,684.4L198.6,685.8M284.1,769.7L282.6,769.9L281.1,769.9L279.6,769.8M254.0,715.3L252.5,715.2L251.0,715.7L249.7,716.4M257.5,740.0L256.6,741.2L255.8,742.4L254.9,743.6M255.1,736.8L254.7,735.4L254.9,733.9L255.3,732.5M294.6,745.0L293.5,746.1L292.5,747.2L291.4,748.2L290.4,749.4L289.7,750.7M217.0,752.7L215.9,753.6L214.6,754.5M275.2,781.7L274.2,782.8L273.3,784.0L272.9,785.5M215.7,775.9L214.2,775.9L212.8,775.3M293.6,756.0L294.2,757.4L294.7,758.8L295.7,759.9L296.7,761.0L297.6,762.2M199.8,722.9L201.2,723.0L202.7,723.2L204.2,723.3L205.6,724.0L206.5,725.1M286.6,783.6L285.3,783.0L283.8,782.6L282.3,782.6L281.0,781.9L279.7,781.2M224.7,719.0L226.2,719.0L227.6,718.6L228.7,717.6M205.2,758.1L204.1,759.0L203.0,760.1L201.8,760.9L200.4,761.5M246.3,759.1L247.4,758.0L248.5,757.1L249.2,755.8L250.0,754.5L251.1,753.5M205.0,779.8L204.1,778.6L203.5,777.2L202.3,776.3L201.7,774.9M256.9,765.0L255.5,764.7L254.0,764.8M209.9,774.3L208.8,773.3L207.3,773.0L205.8,773.0L204.4,773.4M266.8,774.0L266.6,772.5L266.6,771.0M289.5,744.0L290.6,742.9L291.6,741.8L292.2,740.5M244.4,736.1L243.7,737.4L243.7,738.9L244.1,740.4M244.4,729.5L243.5,728.3L242.4,727.3L241.1,726.4L239.8,725.7L238.4,725.2M226.5,774.4L225.6,773.2L224.4,772.4L223.0,771.8M197.1,787.0L195.7,787.6L194.8,788.8L193.7,789.9M309.6,774.0L309.6,772.5L309.3,771.0M313.5,774.0L314.7,773.2L316.1,772.7M196.6,715.1L195.9,716.4L194.8,717.4L193.4,718.0L191.9,717.9L190.5,718.2M219.7,775.8L218.9,774.5L218.2,773.2L217.2,772.0L216.0,771.2L214.5,771.0M234.9,711.9L234.1,710.7L233.0,709.7L232.3,708.4L231.8,707.0M235.4,716.9L233.9,716.9L232.5,716.2L231.5,715.2L230.2,714.3L228.8,713.9M329.7,738.1L329.4,736.6L328.5,735.5L327.1,734.9L325.7,734.3M266.8,689.0L266.2,690.3L265.5,691.6M199.6,767.0L200.9,766.2L201.6,764.9L202.0,763.5L202.7,762.1M189.4,713.5L190.9,713.5L192.3,713.9L193.7,714.5L195.2,714.9M196.1,723.6L197.4,724.4L198.2,725.7L199.0,726.9L199.3,728.4M237.4,750.0L236.7,751.3L235.6,752.4L234.8,753.6L234.6,755.1L234.9,756.6M209.7,762.4L211.0,763.1L212.3,763.8L213.5,764.7L214.7,765.6M291.5,744.2L290.4,745.2L289.3,746.2L288.9,747.7L288.2,749.0M290.6,738.4L290.0,737.1L289.4,735.7L288.6,734.4L287.5,733.5M315.7,785.5L316.7,786.6L317.0,788.0L316.7,789.5M283.4,759.1L284.6,758.3L285.7,757.3L287.0,756.6M257.2,772.6L257.0,774.1L256.9,775.6L257.2,777.0L257.1,778.5M191.2,750.6L192.7,751.0L194.1,751.2L195.6,751.0L197.1,750.6L198.6,750.8M246.7,750.3L247.4,748.9L247.7,747.5M256.0,703.5L256.2,704.9L256.7,706.3L256.5,707.8L256.7,709.3L256.8,710.8M211.9,772.9L213.3,772.4L214.4,771.4L215.3,770.2L215.7,768.7M187.6,773.9L187.4,775.4L186.9,776.8L186.6,778.3L186.1,779.7M311.0,773.0L310.9,774.5L311.1,776.0L311.9,777.2M204.7,785.2L206.2,784.7L207.7,784.7L209.0,784.0L210.1,782.9M241.0,779.0L241.4,777.6L241.1,776.1L240.4,774.8L240.2,773.3M267.3,703.5L265.8,703.8L264.6,704.7M204.5,783.3L205.7,782.3L206.6,781.1L207.5,779.9L208.5,778.9L209.7,777.9M320.5,783.3L321.5,784.4L321.9,785.9L322.6,787.2M198.5,755.4L199.9,754.9L201.0,753.8L202.0,752.8L203.0,751.6M188.7,753.7L187.9,752.4L187.3,751.0L187.5,749.5L188.2,748.2M237.6,724.1L239.1,724.2L240.4,724.9L241.5,726.0L242.1,727.4L242.5,728.8M225.0,733.1L226.4,733.7L227.5,734.7L228.4,735.9L229.7,736.6L231.0,737.5M192.4,756.8L191.0,757.4L189.6,758.1L188.2,758.5L186.8,759.0M241.4,738.1L240.5,739.3L240.2,740.7L239.2,741.8L238.5,743.2L237.6,744.4M313.8,751.1L314.9,750.1L316.3,749.5L317.8,749.5L319.3,749.3M280.7,740.8L282.1,741.4L283.4,742.0M214.4,768.4L213.0,769.0L211.8,769.8M252.2,755.3L251.3,756.5L250.1,757.4L248.8,758.2L247.6,759.1M201.0,721.5L202.5,721.4L204.0,721.3M313.9,761.5L315.0,762.6L316.0,763.7L317.2,764.5M246.0,715.4L244.8,716.4L244.2,717.8M228.3,743.0L227.2,744.0L226.5,745.3L226.1,746.8L225.7,748.2M201.1,692.1L202.6,691.9L204.1,691.5L205.2,690.5L206.2,689.4M245.4,756.4L245.1,757.8L244.6,759.3L244.5,760.8L244.7,762.2L244.5,763.7M207.6,746.0L208.8,745.2L209.8,744.1L211.1,743.3L212.0,742.1M257.8,721.3L256.9,722.5L256.0,723.6M335.7,755.1L334.6,756.1L334.0,757.5L333.5,758.9L333.6,760.4L333.3,761.9M188.5,703.6L188.3,705.1L188.5,706.5M239.5,720.6L238.2,721.4L237.3,722.6M201.0,760.9L199.9,759.9L198.5,759.2M240.4,772.9L239.2,772.0L237.7,771.6L236.3,771.3L234.8,771.6L233.3,771.8M238.0,698.9L239.4,699.5L240.8,699.7L242.3,699.6M236.8,706.1L237.7,704.9L238.6,703.7L238.8,702.2L238.8,700.7L239.3,699.3M314.5,772.2L315.0,773.7L315.9,774.9L316.5,776.2M335.3,750.2L334.7,748.8L334.6,747.3L334.0,745.9M333.2,739.2L334.7,738.9L335.9,738.1L337.4,737.8L338.9,738.1M192.6,702.2L191.1,702.4L189.6,702.2L188.2,701.9M259.3,780.8L258.2,781.9L257.2,783.0L256.1,784.0M194.8,772.9L196.3,773.1L197.5,773.9L198.8,774.7L199.7,775.9L200.6,777.1M294.1,752.2L293.7,753.7L293.7,755.2L293.3,756.6M261.0,700.2L262.4,700.9L263.6,701.8M228.0,777.6L227.9,776.1L228.5,774.8L228.5,773.3M212.5,727.1L212.8,725.6L213.5,724.3L214.0,722.9L214.0,721.4M337.3,751.2L337.8,752.6L338.7,753.8M233.3,750.0L232.7,748.6L232.5,747.2L232.1,745.7M333.8,787.6L335.1,786.7L336.2,785.7M264.1,773.0L262.6,772.6L261.2,772.2M309.1,762.2L309.8,760.8L310.6,759.6L312.0,758.9L313.1,758.0M337.2,750.2L338.6,750.5L340.1,750.7L341.6,750.6L343.1,750.4M204.4,769.5L204.4,768.0L204.4,766.5L204.9,765.1L205.4,763.7L206.0,762.3M192.4,734.5L193.7,735.2L194.6,736.4L196.0,737.0M302.7,758.8L301.9,760.1L300.8,761.0M210.7,688.3L211.4,687.0L211.7,685.5M226.1,740.5L227.6,740.7L229.1,740.5L230.5,740.1L231.8,739.3M207.2,704.4L208.6,703.8L209.5,702.6L210.9,701.9M264.7,765.0L263.2,765.0L261.7,765.4L260.2,765.4M225.7,763.2L224.3,762.7L222.8,762.7M240.6,688.8L240.5,690.3L240.6,691.8L240.2,693.2M260.4,779.3L261.8,779.8L263.3,779.6L264.8,779.9L266.3,779.6L267.8,779.4M213.6,765.7L213.3,764.3L212.7,762.9L211.8,761.7M342.2,787.7L341.9,786.2L341.6,784.8L341.1,783.3L340.1,782.3L339.1,781.1M197.0,773.3L198.2,774.2L199.7,774.5L201.0,775.1L202.5,775.5M212.8,784.2L211.7,783.2L210.9,781.9L210.8,780.4L211.3,779.0L212.1,777.8M319.4,766.2L318.0,765.6L316.8,764.7L316.0,763.5L315.2,762.2L314.8,760.7M281.4,750.1L281.0,748.6L281.0,747.1M227.1,770.2L227.1,771.7L227.1,773.2L226.4,774.6M278.4,780.7L279.5,779.6L280.8,778.8M313.2,753.1L314.5,752.4L315.5,751.3L316.6,750.3L318.0,749.7L319.3,749.0M281.6,770.0L281.7,768.5L281.9,767.0M338.2,774.6L336.7,774.7L335.2,774.8L333.8,775.2L332.5,776.0L331.3,776.9M321.3,746.1L320.3,747.2L319.6,748.6M221.4,747.0L220.5,748.2L219.7,749.5L219.5,750.9M213.6,716.7L213.9,715.2L214.0,713.7L214.6,712.3L215.6,711.2L216.7,710.2M323.2,784.5L322.7,785.9L322.6,787.4M243.0,689.1L241.5,689.2L240.1,688.8L238.6,688.9L237.1,689.0L235.6,689.2M239.6,707.3L239.0,708.6L238.2,709.9L237.5,711.2L236.8,712.6M294.6,777.8L293.1,777.5L291.7,778.0L290.2,777.9L288.8,777.2M205.9,719.5L205.1,720.7L203.9,721.7L203.3,723.1M238.7,693.1L239.9,692.2L241.2,691.4L242.5,690.7L243.4,689.4M249.4,760.2L248.6,758.9L247.5,757.9L246.7,756.6L245.4,755.8M200.4,782.5L200.1,781.0L200.0,779.5L200.3,778.1L200.2,776.6L199.6,775.2M278.5,768.8L279.4,767.7L279.9,766.3L280.9,765.1L281.2,763.6M236.0,735.3L235.5,733.8L235.7,732.4M285.7,780.1L284.6,781.1L283.7,782.3L282.5,783.2L281.3,784.1M204.9,779.8L204.0,778.7L203.4,777.3L202.6,776.0L201.4,775.1L200.5,773.9M261.8,739.5L260.8,738.3L259.6,737.4M232.9,747.3L233.4,748.7L233.5,750.2M225.7,685.7L224.5,684.8L223.5,683.7L223.1,682.2L222.2,681.0L221.0,680.1M301.9,759.7L303.2,760.5L303.9,761.9L304.2,763.3L304.8,764.7L305.6,766.0M216.5,773.9L215.1,773.3L214.1,772.3L212.7,771.7L211.2,771.3L209.7,771.6M252.7,733.2L253.7,732.1L254.6,730.9L255.5,729.7M230.5,770.9L230.4,769.4L230.5,767.9L230.9,766.5M266.6,776.8L268.0,776.4L269.3,775.6L270.6,774.9L272.1,774.6L273.6,774.5M230.7,685.4L229.6,684.4L229.0,683.0L228.2,681.8L227.2,680.7M277.5,775.7L278.6,776.7L280.1,777.1M187.5,747.2L188.5,748.4L188.8,749.8L189.0,751.3L189.1,752.8M192.1,737.2L190.8,737.9L189.4,738.4L188.1,739.1L186.9,740.0L185.7,740.9M221.6,765.3L222.4,766.6L223.5,767.5M246.5,783.0L246.2,784.5L246.0,785.9M268.4,742.8L268.2,744.2L267.3,745.5M239.4,786.5L240.7,787.2L242.0,787.9L242.9,789.1L243.3,790.5L243.5,792.0M217.3,745.7L218.7,746.4L220.1,746.7L221.5,747.3M218.4,755.4L219.3,756.6L219.9,758.0L219.9,759.5L220.3,761.0M304.6,745.4L306.0,745.2L307.2,744.2L308.6,743.7L310.1,743.6M243.5,696.0L242.3,695.1L240.8,694.8L239.3,695.1L237.9,695.5M329.9,766.5L328.6,767.1L327.1,767.3M244.9,775.3L243.4,774.8L242.2,773.9M262.7,768.4L263.7,769.5L265.0,770.4M248.8,716.9L248.3,715.5L248.4,714.0L249.2,712.7M256.4,758.6L255.8,759.9L255.8,761.4L256.2,762.8L256.5,764.3L257.0,765.7M188.5,769.3L189.2,768.0L189.5,766.6L189.9,765.1L190.9,764.0L192.2,763.2M240.8,739.6L239.7,740.6L238.9,741.8L238.3,743.2M326.5,781.9L325.0,782.1L323.6,782.2L322.1,781.9L320.8,781.1L319.3,780.8M290.7,772.8L292.1,773.0L293.6,773.2L295.1,772.8L296.6,773.0L298.0,773.4M197.0,704.2L198.2,703.4L199.5,702.7L201.0,702.3M222.6,759.2L221.3,758.5L220.5,757.2L220.1,755.8M193.1,683.4L192.7,684.8L193.1,686.3L193.4,687.8" stroke="#c4c4c4" stroke-width="0.7" fill="none" stroke-linecap="round" stroke-linejoin="round"/></g>
<svg x="106.5" y="555" width="77.5" height="58.5" viewBox="0 0 77.5 58.5" overflow="hidden">
<rect width="77.5" height="58.5" fill="#000" filter="url(#si0)"/>
<path d="M24.6,23.7L28.9,24.7L32.5,27.3" stroke="#3a3a3a" stroke-width="6.6000000000000005" fill="none" stroke-linecap="round" stroke-linejoin="round"/><path d="M24.6,23.7L28.9,24.7L32.5,27.3" stroke="#7a7a7a" stroke-width="5.4" fill="none" stroke-linecap="round" stroke-linejoin="round"/><path d="M24.6,23.7L28.9,24.7L32.5,27.3" stroke="#9a9a9a" stroke-width="3.24" fill="none" stroke-linecap="round" stroke-linejoin="round" transform="translate(-0.4,-0.4)"/>
<path d="M32.9,52.7L36.0,54.9L38.8,57.4" stroke="#424242" stroke-width="6.6000000000000005" fill="none" stroke-linecap="round" stroke-linejoin="round"/><path d="M32.9,52.7L36.0,54.9L38.8,57.4" stroke="#8b8b8b" stroke-width="5.4" fill="none" stroke-linecap="round" stroke-linejoin="round"/><path d="M32.9,52.7L36.0,54.9L38.8,57.4" stroke="#b0b0b0" stroke-width="3.24" fill="none" stroke-linecap="round" stroke-linejoin="round" transform="translate(-0.4,-0.4)"/>
<path d="M12.9,29.6L17.1,29.7L21.2,28.4" stroke="#424242" stroke-width="6.6000000000000005" fill="none" stroke-linecap="round" stroke-linejoin="round"/><path d="M12.9,29.6L17.1,29.7L21.2,28.4" stroke="#8a8a8a" stroke-width="5.4" fill="none" stroke-linecap="round" stroke-linejoin="round"/><path d="M12.9,29.6L17.1,29.7L21.2,28.4" stroke="#aeaeae" stroke-width="3.24" fill="none" stroke-linecap="round" stroke-linejoin="round" transform="translate(-0.4,-0.4)"/>
<path d="M-0.6,38.2L3.1,40.9L6.1,44.4" stroke="#3d3d3d" stroke-width="6.6000000000000005" fill="none" stroke-linecap="round" stroke-linejoin="round"/><path d="M-0.6,38.2L3.1,40.9L6.1,44.4" stroke="#808080" stroke-width="5.4" fill="none" stroke-linecap="round" stroke-linejoin="round"/><path d="M-0.6,38.2L3.1,40.9L6.1,44.4" stroke="#a2a2a2" stroke-width="3.24" fill="none" stroke-linecap="round" stroke-linejoin="round" transform="translate(-0.4,-0.4)"/>
<path d="M22.7,41.8L20.1,37.8L18.0,33.6" stroke="#444444" stroke-width="6.6000000000000005" fill="none" stroke-linecap="round" stroke-linejoin="round"/><path d="M22.7,41.8L20.1,37.8L18.0,33.6" stroke="#8e8e8e" stroke-width="5.4" fill="none" stroke-linecap="round" stroke-linejoin="round"/><path d="M22.7,41.8L20.1,37.8L18.0,33.6" stroke="#b5b5b5" stroke-width="3.24" fill="none" stroke-linecap="round" stroke-linejoin="round" transform="translate(-0.4,-0.4)"/>
<path d="M23.8,10.9L24.3,15.4L25.9,19.6" stroke="#4b4b4b" stroke-width="6.6000000000000005" fill="none" stroke-linecap="round" stroke-linejoin="round"/><path d="M23.8,10.9L24.3,15.4L25.9,19.6" stroke="#9d9d9d" stroke-width="5.4" fill="none" stroke-linecap="round" stroke-linejoin="round"/><path d="M23.8,10.9L24.3,15.4L25.9,19.6" stroke="#c7c7c7" stroke-width="3.24" fill="none" stroke-linecap="round" stroke-linejoin="round" transform="translate(-0.4,-0.4)"/>
<path d="M30.6,43.6L28.4,38.6L24.8,34.5" stroke="#4a4a4a" stroke-width="6.6000000000000005" fill="none" stroke-linecap="round" stroke-linejoin="round"/><path d="M30.6,43.6L28.4,38.6L24.8,34.5" stroke="#9a9a9a" stroke-width="5.4" fill="none" stroke-linecap="round" stroke-linejoin="round"/><path d="M30.6,43.6L28.4,38.6L24.8,34.5" stroke="#c4c4c4" stroke-width="3.24" fill="none" stroke-linecap="round" stroke-linejoin="round" transform="translate(-0.4,-0.4)"/>
<path d="M21.9,40.0L24.5,43.0L25.8,46.8" stroke="#404040" stroke-width="6.6000000000000005" fill="none" stroke-linecap="round" stroke-linejoin="round"/><path d="M21.9,40.0L24.5,43.0L25.8,46.8" stroke="#868686" stroke-width="5.4" fill="none" stroke-linecap="round" stroke-linejoin="round"/><path d="M21.9,40.0L24.5,43.0L25.8,46.8" stroke="#a9a9a9" stroke-width="3.24" fill="none" stroke-linecap="round" stroke-linejoin="round" transform="translate(-0.4,-0.4)"/>
<path d="M2.1,15.0L0.7,18.8L-1.0,22.5" stroke="#3a3a3a" stroke-width="6.6000000000000005" fill="none" stroke-linecap="round" stroke-linejoin="round"/><path d="M2.1,15.0L0.7,18.8L-1.0,22.5" stroke="#7a7a7a" stroke-width="5.4" fill="none" stroke-linecap="round" stroke-linejoin="round"/><path d="M2.1,15.0L0.7,18.8L-1.0,22.5" stroke="#9a9a9a" stroke-width="3.24" fill="none" stroke-linecap="round" stroke-linejoin="round" transform="translate(-0.4,-0.4)"/>
<path d="M13.4,9.9L16.3,12.1L18.6,14.8" stroke="#414141" stroke-width="6.6000000000000005" fill="none" stroke-linecap="round" stroke-linejoin="round"/><path d="M13.4,9.9L16.3,12.1L18.6,14.8" stroke="#888888" stroke-width="5.4" fill="none" stroke-linecap="round" stroke-linejoin="round"/><path d="M13.4,9.9L16.3,12.1L18.6,14.8" stroke="#acacac" stroke-width="3.24" fill="none" stroke-linecap="round" stroke-linejoin="round" transform="translate(-0.4,-0.4)"/>
<path d="M7.8,21.9L13.2,21.7L18.3,20.2" stroke="#3a3a3a" stroke-width="6.6000000000000005" fill="none" stroke-linecap="round" stroke-linejoin="round"/><path d="M7.8,21.9L13.2,21.7L18.3,20.2" stroke="#7a7a7a" stroke-width="5.4" fill="none" stroke-linecap="round" stroke-linejoin="round"/><path d="M7.8,21.9L13.2,21.7L18.3,20.2" stroke="#9a9a9a" stroke-width="3.24" fill="none" stroke-linecap="round" stroke-linejoin="round" transform="translate(-0.4,-0.4)"/>
<path d="M32.9,44.6L36.4,45.1L39.7,46.3" stroke="#424242" stroke-width="6.6000000000000005" fill="none" stroke-linecap="round" stroke-linejoin="round"/><path d="M32.9,44.6L36.4,45.1L39.7,46.3" stroke="#8b8b8b" stroke-width="5.4" fill="none" stroke-linecap="round" stroke-linejoin="round"/><path d="M32.9,44.6L36.4,45.1L39.7,46.3" stroke="#b0b0b0" stroke-width="3.24" fill="none" stroke-linecap="round" stroke-linejoin="round" transform="translate(-0.4,-0.4)"/>
<path d="M28.8,6.4L31.9,2.3L35.4,-1.4" stroke="#424242" stroke-width="6.6000000000000005" fill="none" stroke-linecap="round" stroke-linejoin="round"/><path d="M28.8,6.4L31.9,2.3L35.4,-1.4" stroke="#8b8b8b" stroke-width="5.4" fill="none" stroke-linecap="round" stroke-linejoin="round"/><path d="M28.8,6.4L31.9,2.3L35.4,-1.4" stroke="#b0b0b0" stroke-width="3.24" fill="none" stroke-linecap="round" stroke-linejoin="round" transform="translate(-0.4,-0.4)"/>
<path d="M11.5,13.8L13.7,18.4L17.4,21.8" stroke="#3f3f3f" stroke-width="6.6000000000000005" fill="none" stroke-linecap="round" stroke-linejoin="round"/><path d="M11.5,13.8L13.7,18.4L17.4,21.8" stroke="#838383" stroke-width="5.4" fill="none" stroke-linecap="round" stroke-linejoin="round"/><path d="M11.5,13.8L13.7,18.4L17.4,21.8" stroke="#a7a7a7" stroke-width="3.24" fill="none" stroke-linecap="round" stroke-linejoin="round" transform="translate(-0.4,-0.4)"/>
<path d="M15.6,8.1L17.8,13.0L20.1,17.8" stroke="#3b3b3b" stroke-width="6.6000000000000005" fill="none" stroke-linecap="round" stroke-linejoin="round"/><path d="M15.6,8.1L17.8,13.0L20.1,17.8" stroke="#7b7b7b" stroke-width="5.4" fill="none" stroke-linecap="round" stroke-linejoin="round"/><path d="M15.6,8.1L17.8,13.0L20.1,17.8" stroke="#9c9c9c" stroke-width="3.24" fill="none" stroke-linecap="round" stroke-linejoin="round" transform="translate(-0.4,-0.4)"/>
<path d="M26.7,44.7L27.7,40.7L27.1,36.6" stroke="#424242" stroke-width="6.6000000000000005" fill="none" stroke-linecap="round" stroke-linejoin="round"/><path d="M26.7,44.7L27.7,40.7L27.1,36.6" stroke="#898989" stroke-width="5.4" fill="none" stroke-linecap="round" stroke-linejoin="round"/><path d="M26.7,44.7L27.7,40.7L27.1,36.6" stroke="#aeaeae" stroke-width="3.24" fill="none" stroke-linecap="round" stroke-linejoin="round" transform="translate(-0.4,-0.4)"/>
<path d="M22.7,19.1L19.1,17.0L14.9,16.4" stroke="#424242" stroke-width="6.6000000000000005" fill="none" stroke-linecap="round" stroke-linejoin="round"/><path d="M22.7,19.1L19.1,17.0L14.9,16.4" stroke="#898989" stroke-width="5.4" fill="none" stroke-linecap="round" stroke-linejoin="round"/><path d="M22.7,19.1L19.1,17.0L14.9,16.4" stroke="#aeaeae" stroke-width="3.24" fill="none" stroke-linecap="round" stroke-linejoin="round" transform="translate(-0.4,-0.4)"/>
<path d="M33.5,12.8L32.3,16.3L32.6,19.9" stroke="#4a4a4a" stroke-width="6.6000000000000005" fill="none" stroke-linecap="round" stroke-linejoin="round"/><path d="M33.5,12.8L32.3,16.3L32.6,19.9" stroke="#9b9b9b" stroke-width="5.4" fill="none" stroke-linecap="round" stroke-linejoin="round"/><path d="M33.5,12.8L32.3,16.3L32.6,19.9" stroke="#c4c4c4" stroke-width="3.24" fill="none" stroke-linecap="round" stroke-linejoin="round" transform="translate(-0.4,-0.4)"/>
<path d="M37.2,24.4L36.3,27.9L35.5,31.4" stroke="#474747" stroke-width="6.6000000000000005" fill="none" stroke-linecap="round" stroke-linejoin="round"/><path d="M37.2,24.4L36.3,27.9L35.5,31.4" stroke="#959595" stroke-width="5.4" fill="none" stroke-linecap="round" stroke-linejoin="round"/><path d="M37.2,24.4L36.3,27.9L35.5,31.4" stroke="#bdbdbd" stroke-width="3.24" fill="none" stroke-linecap="round" stroke-linejoin="round" transform="translate(-0.4,-0.4)"/>
<path d="M7.7,1.3L6.9,-2.6L7.4,-6.5" stroke="#3b3b3b" stroke-width="6.6000000000000005" fill="none" stroke-linecap="round" stroke-linejoin="round"/><path d="M7.7,1.3L6.9,-2.6L7.4,-6.5" stroke="#7c7c7c" stroke-width="5.4" fill="none" stroke-linecap="round" stroke-linejoin="round"/><path d="M7.7,1.3L6.9,-2.6L7.4,-6.5" stroke="#9e9e9e" stroke-width="3.24" fill="none" stroke-linecap="round" stroke-linejoin="round" transform="translate(-0.4,-0.4)"/>
<path d="M21.9,46.1L17.9,43.4L14.6,40.0" stroke="#484848" stroke-width="6.6000000000000005" fill="none" stroke-linecap="round" stroke-linejoin="round"/><path d="M21.9,46.1L17.9,43.4L14.6,40.0" stroke="#969696" stroke-width="5.4" fill="none" stroke-linecap="round" stroke-linejoin="round"/><path d="M21.9,46.1L17.9,43.4L14.6,40.0" stroke="#bebebe" stroke-width="3.24" fill="none" stroke-linecap="round" stroke-linejoin="round" transform="translate(-0.4,-0.4)"/>
<path d="M38.7,42.3L35.0,42.6L31.3,42.5" stroke="#444444" stroke-width="6.6000000000000005" fill="none" stroke-linecap="round" stroke-linejoin="round"/><path d="M38.7,42.3L35.0,42.6L31.3,42.5" stroke="#8f8f8f" stroke-width="5.4" fill="none" stroke-linecap="round" stroke-linejoin="round"/><path d="M38.7,42.3L35.0,42.6L31.3,42.5" stroke="#b5b5b5" stroke-width="3.24" fill="none" stroke-linecap="round" stroke-linejoin="round" transform="translate(-0.4,-0.4)"/>
<path d="M26.3,8.3L30.0,6.7L33.5,4.6" stroke="#3b3b3b" stroke-width="6.6000000000000005" fill="none" stroke-linecap="round" stroke-linejoin="round"/><path d="M26.3,8.3L30.0,6.7L33.5,4.6" stroke="#7b7b7b" stroke-width="5.4" fill="none" stroke-linecap="round" stroke-linejoin="round"/><path d="M26.3,8.3L30.0,6.7L33.5,4.6" stroke="#9c9c9c" stroke-width="3.24" fill="none" stroke-linecap="round" stroke-linejoin="round" transform="translate(-0.4,-0.4)"/>
<path d="M42.2,3.7L45.7,0.4L49.6,-2.3" stroke="#3e3e3e" stroke-width="6.6000000000000005" fill="none" stroke-linecap="round" stroke-linejoin="round"/><path d="M42.2,3.7L45.7,0.4L49.6,-2.3" stroke="#828282" stroke-width="5.4" fill="none" stroke-linecap="round" stroke-linejoin="round"/><path d="M42.2,3.7L45.7,0.4L49.6,-2.3" stroke="#a5a5a5" stroke-width="3.24" fill="none" stroke-linecap="round" stroke-linejoin="round" transform="translate(-0.4,-0.4)"/>
<path d="M32.1,6.8L35.5,8.0L39.1,8.1" stroke="#474747" stroke-width="6.6000000000000005" fill="none" stroke-linecap="round" stroke-linejoin="round"/><path d="M32.1,6.8L35.5,8.0L39.1,8.1" stroke="#959595" stroke-width="5.4" fill="none" stroke-linecap="round" stroke-linejoin="round"/><path d="M32.1,6.8L35.5,8.0L39.1,8.1" stroke="#bdbdbd" stroke-width="3.24" fill="none" stroke-linecap="round" stroke-linejoin="round" transform="translate(-0.4,-0.4)"/>
<path d="M31.6,31.2L34.8,33.0L37.6,35.3" stroke="#3a3a3a" stroke-width="6.6000000000000005" fill="none" stroke-linecap="round" stroke-linejoin="round"/><path d="M31.6,31.2L34.8,33.0L37.6,35.3" stroke="#7a7a7a" stroke-width="5.4" fill="none" stroke-linecap="round" stroke-linejoin="round"/><path d="M31.6,31.2L34.8,33.0L37.6,35.3" stroke="#9b9b9b" stroke-width="3.24" fill="none" stroke-linecap="round" stroke-linejoin="round" transform="translate(-0.4,-0.4)"/>
<path d="M27.8,29.6L31.5,25.8L36.2,23.3" stroke="#464646" stroke-width="6.6000000000000005" fill="none" stroke-linecap="round" stroke-linejoin="round"/><path d="M27.8,29.6L31.5,25.8L36.2,23.3" stroke="#929292" stroke-width="5.4" fill="none" stroke-linecap="round" stroke-linejoin="round"/><path d="M27.8,29.6L31.5,25.8L36.2,23.3" stroke="#b9b9b9" stroke-width="3.24" fill="none" stroke-linecap="round" stroke-linejoin="round" transform="translate(-0.4,-0.4)"/>
<path d="M9.7,22.5L9.9,18.6L11.3,15.0" stroke="#424242" stroke-width="6.6000000000000005" fill="none" stroke-linecap="round" stroke-linejoin="round"/><path d="M9.7,22.5L9.9,18.6L11.3,15.0" stroke="#898989" stroke-width="5.4" fill="none" stroke-linecap="round" stroke-linejoin="round"/><path d="M9.7,22.5L9.9,18.6L11.3,15.0" stroke="#aeaeae" stroke-width="3.24" fill="none" stroke-linecap="round" stroke-linejoin="round" transform="translate(-0.4,-0.4)"/>
<path d="M37.6,26.6L36.2,30.2L34.0,33.5" stroke="#3e3e3e" stroke-width="6.6000000000000005" fill="none" stroke-linecap="round" stroke-linejoin="round"/><path d="M37.6,26.6L36.2,30.2L34.0,33.5" stroke="#818181" stroke-width="5.4" fill="none" stroke-linecap="round" stroke-linejoin="round"/><path d="M37.6,26.6L36.2,30.2L34.0,33.5" stroke="#a4a4a4" stroke-width="3.24" fill="none" stroke-linecap="round" stroke-linejoin="round" transform="translate(-0.4,-0.4)"/>
<path d="M2.9,11.0L0.1,14.0L-3.4,16.3" stroke="#424242" stroke-width="6.6000000000000005" fill="none" stroke-linecap="round" stroke-linejoin="round"/><path d="M2.9,11.0L0.1,14.0L-3.4,16.3" stroke="#8b8b8b" stroke-width="5.4" fill="none" stroke-linecap="round" stroke-linejoin="round"/><path d="M2.9,11.0L0.1,14.0L-3.4,16.3" stroke="#b0b0b0" stroke-width="3.24" fill="none" stroke-linecap="round" stroke-linejoin="round" transform="translate(-0.4,-0.4)"/>
<path d="M1.3,3.5L1.6,-1.3L0.9,-6.0" stroke="#444444" stroke-width="6.6000000000000005" fill="none" stroke-linecap="round" stroke-linejoin="round"/><path d="M1.3,3.5L1.6,-1.3L0.9,-6.0" stroke="#8f8f8f" stroke-width="5.4" fill="none" stroke-linecap="round" stroke-linejoin="round"/><path d="M1.3,3.5L1.6,-1.3L0.9,-6.0" stroke="#b5b5b5" stroke-width="3.24" fill="none" stroke-linecap="round" stroke-linejoin="round" transform="translate(-0.4,-0.4)"/>
<path d="M0.1,27.8L1.3,24.4L1.4,20.8" stroke="#484848" stroke-width="6.6000000000000005" fill="none" stroke-linecap="round" stroke-linejoin="round"/><path d="M0.1,27.8L1.3,24.4L1.4,20.8" stroke="#969696" stroke-width="5.4" fill="none" stroke-linecap="round" stroke-linejoin="round"/><path d="M0.1,27.8L1.3,24.4L1.4,20.8" stroke="#bebebe" stroke-width="3.24" fill="none" stroke-linecap="round" stroke-linejoin="round" transform="translate(-0.4,-0.4)"/>
<path d="M24.8,1.8L22.5,5.1L19.1,7.3" stroke="#494949" stroke-width="6.6000000000000005" fill="none" stroke-linecap="round" stroke-linejoin="round"/><path d="M24.8,1.8L22.5,5.1L19.1,7.3" stroke="#999999" stroke-width="5.4" fill="none" stroke-linecap="round" stroke-linejoin="round"/><path d="M24.8,1.8L22.5,5.1L19.1,7.3" stroke="#c2c2c2" stroke-width="3.24" fill="none" stroke-linecap="round" stroke-linejoin="round" transform="translate(-0.4,-0.4)"/>
<path d="M14.3,31.6L15.5,35.7L17.0,39.6" stroke="#454545" stroke-width="6.6000000000000005" fill="none" stroke-linecap="round" stroke-linejoin="round"/><path d="M14.3,31.6L15.5,35.7L17.0,39.6" stroke="#909090" stroke-width="5.4" fill="none" stroke-linecap="round" stroke-linejoin="round"/><path d="M14.3,31.6L15.5,35.7L17.0,39.6" stroke="#b6b6b6" stroke-width="3.24" fill="none" stroke-linecap="round" stroke-linejoin="round" transform="translate(-0.4,-0.4)"/>
<path d="M5.6,39.1L8.2,34.5L11.7,30.4" stroke="#454545" stroke-width="6.6000000000000005" fill="none" stroke-linecap="round" stroke-linejoin="round"/><path d="M5.6,39.1L8.2,34.5L11.7,30.4" stroke="#919191" stroke-width="5.4" fill="none" stroke-linecap="round" stroke-linejoin="round"/><path d="M5.6,39.1L8.2,34.5L11.7,30.4" stroke="#b8b8b8" stroke-width="3.24" fill="none" stroke-linecap="round" stroke-linejoin="round" transform="translate(-0.4,-0.4)"/>
<path d="M40.9,-0.1L38.7,-4.9L37.9,-10.2" stroke="#3a3a3a" stroke-width="6.6000000000000005" fill="none" stroke-linecap="round" stroke-linejoin="round"/><path d="M40.9,-0.1L38.7,-4.9L37.9,-10.2" stroke="#797979" stroke-width="5.4" fill="none" stroke-linecap="round" stroke-linejoin="round"/><path d="M40.9,-0.1L38.7,-4.9L37.9,-10.2" stroke="#999999" stroke-width="3.24" fill="none" stroke-linecap="round" stroke-linejoin="round" transform="translate(-0.4,-0.4)"/>
<path d="M9.1,53.4L9.9,56.8L11.1,60.1" stroke="#454545" stroke-width="6.6000000000000005" fill="none" stroke-linecap="round" stroke-linejoin="round"/><path d="M9.1,53.4L9.9,56.8L11.1,60.1" stroke="#909090" stroke-width="5.4" fill="none" stroke-linecap="round" stroke-linejoin="round"/><path d="M9.1,53.4L9.9,56.8L11.1,60.1" stroke="#b6b6b6" stroke-width="3.24" fill="none" stroke-linecap="round" stroke-linejoin="round" transform="translate(-0.4,-0.4)"/>
<path d="M15.0,15.5L11.0,17.6L7.0,19.5" stroke="#474747" stroke-width="6.6000000000000005" fill="none" stroke-linecap="round" stroke-linejoin="round"/><path d="M15.0,15.5L11.0,17.6L7.0,19.5" stroke="#949494" stroke-width="5.4" fill="none" stroke-linecap="round" stroke-linejoin="round"/><path d="M15.0,15.5L11.0,17.6L7.0,19.5" stroke="#bcbcbc" stroke-width="3.24" fill="none" stroke-linecap="round" stroke-linejoin="round" transform="translate(-0.4,-0.4)"/>
<path d="M20.6,23.1L15.4,21.9L10.2,20.9" stroke="#454545" stroke-width="6.6000000000000005" fill="none" stroke-linecap="round" stroke-linejoin="round"/><path d="M20.6,23.1L15.4,21.9L10.2,20.9" stroke="#909090" stroke-width="5.4" fill="none" stroke-linecap="round" stroke-linejoin="round"/><path d="M20.6,23.1L15.4,21.9L10.2,20.9" stroke="#b7b7b7" stroke-width="3.24" fill="none" stroke-linecap="round" stroke-linejoin="round" transform="translate(-0.4,-0.4)"/>
<path d="M0.8,9.8L1.3,14.2L2.3,18.5" stroke="#3c3c3c" stroke-width="6.6000000000000005" fill="none" stroke-linecap="round" stroke-linejoin="round"/><path d="M0.8,9.8L1.3,14.2L2.3,18.5" stroke="#7d7d7d" stroke-width="5.4" fill="none" stroke-linecap="round" stroke-linejoin="round"/><path d="M0.8,9.8L1.3,14.2L2.3,18.5" stroke="#9e9e9e" stroke-width="3.24" fill="none" stroke-linecap="round" stroke-linejoin="round" transform="translate(-0.4,-0.4)"/>
<path d="M57.0,6.0L64.0,2.0" stroke="#484848" stroke-width="6.7" fill="none" stroke-linecap="round" stroke-linejoin="round"/><path d="M57.0,6.0L64.0,2.0" stroke="#969696" stroke-width="5.5" fill="none" stroke-linecap="round" stroke-linejoin="round"/><path d="M57.0,6.0L64.0,2.0" stroke="#bebebe" stroke-width="3.30" fill="none" stroke-linecap="round" stroke-linejoin="round" transform="translate(-0.4,-0.4)"/>
<path d="M64.0,6.0L73.0,3.0" stroke="#444444" stroke-width="6.7" fill="none" stroke-linecap="round" stroke-linejoin="round"/><path d="M64.0,6.0L73.0,3.0" stroke="#8e8e8e" stroke-width="5.5" fill="none" stroke-linecap="round" stroke-linejoin="round"/><path d="M64.0,6.0L73.0,3.0" stroke="#b4b4b4" stroke-width="3.30" fill="none" stroke-linecap="round" stroke-linejoin="round" transform="translate(-0.4,-0.4)"/>
<path d="M64.5,20.7L69.3,25.5L76.0,29.0" stroke="#363636" stroke-width="5.4" fill="none" stroke-linecap="round" stroke-linejoin="round"/><path d="M64.5,20.7L69.3,25.5L76.0,29.0" stroke="#707070" stroke-width="4.2" fill="none" stroke-linecap="round" stroke-linejoin="round"/><path d="M64.5,20.7L69.3,25.5L76.0,29.0" stroke="#8e8e8e" stroke-width="2.52" fill="none" stroke-linecap="round" stroke-linejoin="round" transform="translate(-0.4,-0.4)"/>
<path d="M43.0,39.9L51.4,41.1" stroke="#323232" stroke-width="5.7" fill="none" stroke-linecap="round" stroke-linejoin="round"/><path d="M43.0,39.9L51.4,41.1" stroke="#696969" stroke-width="4.5" fill="none" stroke-linecap="round" stroke-linejoin="round"/><path d="M43.0,39.9L51.4,41.1" stroke="#858585" stroke-width="2.70" fill="none" stroke-linecap="round" stroke-linejoin="round" transform="translate(-0.4,-0.4)"/>
<path d="M56.2,37.5L57.4,45.9L53.8,48.3" stroke="#323232" stroke-width="6.2" fill="none" stroke-linecap="round" stroke-linejoin="round"/><path d="M56.2,37.5L57.4,45.9L53.8,48.3" stroke="#696969" stroke-width="5" fill="none" stroke-linecap="round" stroke-linejoin="round"/><path d="M56.2,37.5L57.4,45.9L53.8,48.3" stroke="#858585" stroke-width="3.00" fill="none" stroke-linecap="round" stroke-linejoin="round" transform="translate(-0.4,-0.4)"/>
<path d="M69.3,50.0L76.0,48.3" stroke="#444444" stroke-width="6.7" fill="none" stroke-linecap="round" stroke-linejoin="round"/><path d="M69.3,50.0L76.0,48.3" stroke="#8e8e8e" stroke-width="5.5" fill="none" stroke-linecap="round" stroke-linejoin="round"/><path d="M69.3,50.0L76.0,48.3" stroke="#b4b4b4" stroke-width="3.30" fill="none" stroke-linecap="round" stroke-linejoin="round" transform="translate(-0.4,-0.4)"/>
<path d="M37.0,50.7L45.4,53.0" stroke="#484848" stroke-width="6.7" fill="none" stroke-linecap="round" stroke-linejoin="round"/><path d="M37.0,50.7L45.4,53.0" stroke="#969696" stroke-width="5.5" fill="none" stroke-linecap="round" stroke-linejoin="round"/><path d="M37.0,50.7L45.4,53.0" stroke="#bebebe" stroke-width="3.30" fill="none" stroke-linecap="round" stroke-linejoin="round" transform="translate(-0.4,-0.4)"/>
<path d="M23.8,49.5L21.4,56.0" stroke="#393939" stroke-width="5.7" fill="none" stroke-linecap="round" stroke-linejoin="round"/><path d="M23.8,49.5L21.4,56.0" stroke="#787878" stroke-width="4.5" fill="none" stroke-linecap="round" stroke-linejoin="round"/><path d="M23.8,49.5L21.4,56.0" stroke="#989898" stroke-width="2.70" fill="none" stroke-linecap="round" stroke-linejoin="round" transform="translate(-0.4,-0.4)"/>
<path d="M32.0,48.0L36.0,56.0" stroke="#4b4b4b" stroke-width="6.7" fill="none" stroke-linecap="round" stroke-linejoin="round"/><path d="M32.0,48.0L36.0,56.0" stroke="#9d9d9d" stroke-width="5.5" fill="none" stroke-linecap="round" stroke-linejoin="round"/><path d="M32.0,48.0L36.0,56.0" stroke="#c7c7c7" stroke-width="3.30" fill="none" stroke-linecap="round" stroke-linejoin="round" transform="translate(-0.4,-0.4)"/>
<path d="M46.0,52.0L48.0,58.0" stroke="#484848" stroke-width="6.7" fill="none" stroke-linecap="round" stroke-linejoin="round"/><path d="M46.0,52.0L48.0,58.0" stroke="#969696" stroke-width="5.5" fill="none" stroke-linecap="round" stroke-linejoin="round"/><path d="M46.0,52.0L48.0,58.0" stroke="#bebebe" stroke-width="3.30" fill="none" stroke-linecap="round" stroke-linejoin="round" transform="translate(-0.4,-0.4)"/>
</svg>
<rect x="105.9" y="555" width="78.1" height="59.1" fill="none" stroke="#fff" stroke-width="1.2"/>
<svg x="268.5" y="555" width="77.5" height="58.5" viewBox="0 0 77.5 58.5" overflow="hidden">
<rect width="77.5" height="58.5" fill="#000" filter="url(#si)"/>
<path d="M27.2,21.8L29.8,17.8L33.3,14.4" stroke="#323232" stroke-width="7.6000000000000005" fill="none" stroke-linecap="round" stroke-linejoin="round"/><path d="M27.2,21.8L29.8,17.8L33.3,14.4" stroke="#696969" stroke-width="6.4" fill="none" stroke-linecap="round" stroke-linejoin="round"/><path d="M27.2,21.8L29.8,17.8L33.3,14.4" stroke="#858585" stroke-width="3.84" fill="none" stroke-linecap="round" stroke-linejoin="round" transform="translate(-0.4,-0.4)"/>
<path d="M52.1,39.3L50.8,35.5L50.0,31.5" stroke="#303030" stroke-width="7.6000000000000005" fill="none" stroke-linecap="round" stroke-linejoin="round"/><path d="M52.1,39.3L50.8,35.5L50.0,31.5" stroke="#646464" stroke-width="6.4" fill="none" stroke-linecap="round" stroke-linejoin="round"/><path d="M52.1,39.3L50.8,35.5L50.0,31.5" stroke="#7f7f7f" stroke-width="3.84" fill="none" stroke-linecap="round" stroke-linejoin="round" transform="translate(-0.4,-0.4)"/>
<path d="M34.4,52.5L31.8,58.4L29.8,64.5" stroke="#303030" stroke-width="7.6000000000000005" fill="none" stroke-linecap="round" stroke-linejoin="round"/><path d="M34.4,52.5L31.8,58.4L29.8,64.5" stroke="#656565" stroke-width="6.4" fill="none" stroke-linecap="round" stroke-linejoin="round"/><path d="M34.4,52.5L31.8,58.4L29.8,64.5" stroke="#808080" stroke-width="3.84" fill="none" stroke-linecap="round" stroke-linejoin="round" transform="translate(-0.4,-0.4)"/>
<path d="M22.8,9.3L26.8,10.1L30.8,10.7" stroke="#333333" stroke-width="7.6000000000000005" fill="none" stroke-linecap="round" stroke-linejoin="round"/><path d="M22.8,9.3L26.8,10.1L30.8,10.7" stroke="#6a6a6a" stroke-width="6.4" fill="none" stroke-linecap="round" stroke-linejoin="round"/><path d="M22.8,9.3L26.8,10.1L30.8,10.7" stroke="#868686" stroke-width="3.84" fill="none" stroke-linecap="round" stroke-linejoin="round" transform="translate(-0.4,-0.4)"/>
<path d="M37.4,0.4L32.5,4.1L27.3,7.3" stroke="#343434" stroke-width="7.6000000000000005" fill="none" stroke-linecap="round" stroke-linejoin="round"/><path d="M37.4,0.4L32.5,4.1L27.3,7.3" stroke="#6d6d6d" stroke-width="6.4" fill="none" stroke-linecap="round" stroke-linejoin="round"/><path d="M37.4,0.4L32.5,4.1L27.3,7.3" stroke="#8a8a8a" stroke-width="3.84" fill="none" stroke-linecap="round" stroke-linejoin="round" transform="translate(-0.4,-0.4)"/>
<path d="M14.1,56.2L16.5,60.9L18.1,65.8" stroke="#313131" stroke-width="7.6000000000000005" fill="none" stroke-linecap="round" stroke-linejoin="round"/><path d="M14.1,56.2L16.5,60.9L18.1,65.8" stroke="#676767" stroke-width="6.4" fill="none" stroke-linecap="round" stroke-linejoin="round"/><path d="M14.1,56.2L16.5,60.9L18.1,65.8" stroke="#828282" stroke-width="3.84" fill="none" stroke-linecap="round" stroke-linejoin="round" transform="translate(-0.4,-0.4)"/>
<path d="M19.2,60.8L18.5,56.8L17.7,52.8" stroke="#343434" stroke-width="7.6000000000000005" fill="none" stroke-linecap="round" stroke-linejoin="round"/><path d="M19.2,60.8L18.5,56.8L17.7,52.8" stroke="#6e6e6e" stroke-width="6.4" fill="none" stroke-linecap="round" stroke-linejoin="round"/><path d="M19.2,60.8L18.5,56.8L17.7,52.8" stroke="#8b8b8b" stroke-width="3.84" fill="none" stroke-linecap="round" stroke-linejoin="round" transform="translate(-0.4,-0.4)"/>
<path d="M56.6,33.8L58.1,29.5L58.6,24.9" stroke="#333333" stroke-width="7.6000000000000005" fill="none" stroke-linecap="round" stroke-linejoin="round"/><path d="M56.6,33.8L58.1,29.5L58.6,24.9" stroke="#6b6b6b" stroke-width="6.4" fill="none" stroke-linecap="round" stroke-linejoin="round"/><path d="M56.6,33.8L58.1,29.5L58.6,24.9" stroke="#878787" stroke-width="3.84" fill="none" stroke-linecap="round" stroke-linejoin="round" transform="translate(-0.4,-0.4)"/>
<path d="M65.4,36.3L60.2,37.5L55.2,39.5" stroke="#2f2f2f" stroke-width="7.6000000000000005" fill="none" stroke-linecap="round" stroke-linejoin="round"/><path d="M65.4,36.3L60.2,37.5L55.2,39.5" stroke="#636363" stroke-width="6.4" fill="none" stroke-linecap="round" stroke-linejoin="round"/><path d="M65.4,36.3L60.2,37.5L55.2,39.5" stroke="#7e7e7e" stroke-width="3.84" fill="none" stroke-linecap="round" stroke-linejoin="round" transform="translate(-0.4,-0.4)"/>
<path d="M44.1,14.2L37.9,15.6L32.3,18.4" stroke="#2f2f2f" stroke-width="7.6000000000000005" fill="none" stroke-linecap="round" stroke-linejoin="round"/><path d="M44.1,14.2L37.9,15.6L32.3,18.4" stroke="#626262" stroke-width="6.4" fill="none" stroke-linecap="round" stroke-linejoin="round"/><path d="M44.1,14.2L37.9,15.6L32.3,18.4" stroke="#7c7c7c" stroke-width="3.84" fill="none" stroke-linecap="round" stroke-linejoin="round" transform="translate(-0.4,-0.4)"/>
<path d="M23.5,46.1L27.0,49.7L29.7,54.0" stroke="#323232" stroke-width="7.6000000000000005" fill="none" stroke-linecap="round" stroke-linejoin="round"/><path d="M23.5,46.1L27.0,49.7L29.7,54.0" stroke="#686868" stroke-width="6.4" fill="none" stroke-linecap="round" stroke-linejoin="round"/><path d="M23.5,46.1L27.0,49.7L29.7,54.0" stroke="#848484" stroke-width="3.84" fill="none" stroke-linecap="round" stroke-linejoin="round" transform="translate(-0.4,-0.4)"/>
<path d="M63.5,12.8L59.1,11.8L54.9,10.1" stroke="#333333" stroke-width="7.6000000000000005" fill="none" stroke-linecap="round" stroke-linejoin="round"/><path d="M63.5,12.8L59.1,11.8L54.9,10.1" stroke="#6b6b6b" stroke-width="6.4" fill="none" stroke-linecap="round" stroke-linejoin="round"/><path d="M63.5,12.8L59.1,11.8L54.9,10.1" stroke="#888888" stroke-width="3.84" fill="none" stroke-linecap="round" stroke-linejoin="round" transform="translate(-0.4,-0.4)"/>
<path d="M78.7,43.4L82.3,47.0L84.8,51.4" stroke="#343434" stroke-width="7.6000000000000005" fill="none" stroke-linecap="round" stroke-linejoin="round"/><path d="M78.7,43.4L82.3,47.0L84.8,51.4" stroke="#6d6d6d" stroke-width="6.4" fill="none" stroke-linecap="round" stroke-linejoin="round"/><path d="M78.7,43.4L82.3,47.0L84.8,51.4" stroke="#8a8a8a" stroke-width="3.84" fill="none" stroke-linecap="round" stroke-linejoin="round" transform="translate(-0.4,-0.4)"/>
<path d="M73.3,0.7L72.4,-3.7L70.5,-7.7" stroke="#2f2f2f" stroke-width="7.6000000000000005" fill="none" stroke-linecap="round" stroke-linejoin="round"/><path d="M73.3,0.7L72.4,-3.7L70.5,-7.7" stroke="#626262" stroke-width="6.4" fill="none" stroke-linecap="round" stroke-linejoin="round"/><path d="M73.3,0.7L72.4,-3.7L70.5,-7.7" stroke="#7c7c7c" stroke-width="3.84" fill="none" stroke-linecap="round" stroke-linejoin="round" transform="translate(-0.4,-0.4)"/>
<path d="M28.2,16.0L25.5,10.9L22.6,5.9" stroke="#353535" stroke-width="7.6000000000000005" fill="none" stroke-linecap="round" stroke-linejoin="round"/><path d="M28.2,16.0L25.5,10.9L22.6,5.9" stroke="#6e6e6e" stroke-width="6.4" fill="none" stroke-linecap="round" stroke-linejoin="round"/><path d="M28.2,16.0L25.5,10.9L22.6,5.9" stroke="#8c8c8c" stroke-width="3.84" fill="none" stroke-linecap="round" stroke-linejoin="round" transform="translate(-0.4,-0.4)"/>
<path d="M38.7,31.3L36.7,26.8L34.8,22.2" stroke="#333333" stroke-width="7.6000000000000005" fill="none" stroke-linecap="round" stroke-linejoin="round"/><path d="M38.7,31.3L36.7,26.8L34.8,22.2" stroke="#6a6a6a" stroke-width="6.4" fill="none" stroke-linecap="round" stroke-linejoin="round"/><path d="M38.7,31.3L36.7,26.8L34.8,22.2" stroke="#868686" stroke-width="3.84" fill="none" stroke-linecap="round" stroke-linejoin="round" transform="translate(-0.4,-0.4)"/>
<path d="M33.3,35.4L32.1,40.2L29.7,44.5" stroke="#313131" stroke-width="7.6000000000000005" fill="none" stroke-linecap="round" stroke-linejoin="round"/><path d="M33.3,35.4L32.1,40.2L29.7,44.5" stroke="#676767" stroke-width="6.4" fill="none" stroke-linecap="round" stroke-linejoin="round"/><path d="M33.3,35.4L32.1,40.2L29.7,44.5" stroke="#838383" stroke-width="3.84" fill="none" stroke-linecap="round" stroke-linejoin="round" transform="translate(-0.4,-0.4)"/>
<path d="M51.0,23.4L55.6,23.0L60.3,23.2" stroke="#323232" stroke-width="7.6000000000000005" fill="none" stroke-linecap="round" stroke-linejoin="round"/><path d="M51.0,23.4L55.6,23.0L60.3,23.2" stroke="#696969" stroke-width="6.4" fill="none" stroke-linecap="round" stroke-linejoin="round"/><path d="M51.0,23.4L55.6,23.0L60.3,23.2" stroke="#868686" stroke-width="3.84" fill="none" stroke-linecap="round" stroke-linejoin="round" transform="translate(-0.4,-0.4)"/>
<path d="M0.9,41.4L0.8,46.2L0.9,51.0" stroke="#2f2f2f" stroke-width="7.6000000000000005" fill="none" stroke-linecap="round" stroke-linejoin="round"/><path d="M0.9,41.4L0.8,46.2L0.9,51.0" stroke="#616161" stroke-width="6.4" fill="none" stroke-linecap="round" stroke-linejoin="round"/><path d="M0.9,41.4L0.8,46.2L0.9,51.0" stroke="#7c7c7c" stroke-width="3.84" fill="none" stroke-linecap="round" stroke-linejoin="round" transform="translate(-0.4,-0.4)"/>
<path d="M25.1,46.6L31.0,44.8L36.8,42.3" stroke="#343434" stroke-width="7.6000000000000005" fill="none" stroke-linecap="round" stroke-linejoin="round"/><path d="M25.1,46.6L31.0,44.8L36.8,42.3" stroke="#6d6d6d" stroke-width="6.4" fill="none" stroke-linecap="round" stroke-linejoin="round"/><path d="M25.1,46.6L31.0,44.8L36.8,42.3" stroke="#8a8a8a" stroke-width="3.84" fill="none" stroke-linecap="round" stroke-linejoin="round" transform="translate(-0.4,-0.4)"/>
<path d="M79.0,61.1L84.4,64.6L90.0,67.8" stroke="#343434" stroke-width="7.6000000000000005" fill="none" stroke-linecap="round" stroke-linejoin="round"/><path d="M79.0,61.1L84.4,64.6L90.0,67.8" stroke="#6e6e6e" stroke-width="6.4" fill="none" stroke-linecap="round" stroke-linejoin="round"/><path d="M79.0,61.1L84.4,64.6L90.0,67.8" stroke="#8b8b8b" stroke-width="3.84" fill="none" stroke-linecap="round" stroke-linejoin="round" transform="translate(-0.4,-0.4)"/>
<path d="M7.5,45.7L3.8,50.2L0.1,54.6" stroke="#2f2f2f" stroke-width="7.6000000000000005" fill="none" stroke-linecap="round" stroke-linejoin="round"/><path d="M7.5,45.7L3.8,50.2L0.1,54.6" stroke="#626262" stroke-width="6.4" fill="none" stroke-linecap="round" stroke-linejoin="round"/><path d="M7.5,45.7L3.8,50.2L0.1,54.6" stroke="#7d7d7d" stroke-width="3.84" fill="none" stroke-linecap="round" stroke-linejoin="round" transform="translate(-0.4,-0.4)"/>
<path d="M27.2,62.3L22.3,58.6L17.3,54.9" stroke="#303030" stroke-width="7.6000000000000005" fill="none" stroke-linecap="round" stroke-linejoin="round"/><path d="M27.2,62.3L22.3,58.6L17.3,54.9" stroke="#656565" stroke-width="6.4" fill="none" stroke-linecap="round" stroke-linejoin="round"/><path d="M27.2,62.3L22.3,58.6L17.3,54.9" stroke="#808080" stroke-width="3.84" fill="none" stroke-linecap="round" stroke-linejoin="round" transform="translate(-0.4,-0.4)"/>
<path d="M71.6,37.0L68.4,32.9L64.7,29.3" stroke="#303030" stroke-width="7.6000000000000005" fill="none" stroke-linecap="round" stroke-linejoin="round"/><path d="M71.6,37.0L68.4,32.9L64.7,29.3" stroke="#646464" stroke-width="6.4" fill="none" stroke-linecap="round" stroke-linejoin="round"/><path d="M71.6,37.0L68.4,32.9L64.7,29.3" stroke="#7e7e7e" stroke-width="3.84" fill="none" stroke-linecap="round" stroke-linejoin="round" transform="translate(-0.4,-0.4)"/>
<path d="M42.4,18.9L43.6,14.3L45.2,9.8" stroke="#303030" stroke-width="7.6000000000000005" fill="none" stroke-linecap="round" stroke-linejoin="round"/><path d="M42.4,18.9L43.6,14.3L45.2,9.8" stroke="#646464" stroke-width="6.4" fill="none" stroke-linecap="round" stroke-linejoin="round"/><path d="M42.4,18.9L43.6,14.3L45.2,9.8" stroke="#7e7e7e" stroke-width="3.84" fill="none" stroke-linecap="round" stroke-linejoin="round" transform="translate(-0.4,-0.4)"/>
<path d="M53.8,47.9L50.3,50.3L47.0,53.1" stroke="#353535" stroke-width="7.6000000000000005" fill="none" stroke-linecap="round" stroke-linejoin="round"/><path d="M53.8,47.9L50.3,50.3L47.0,53.1" stroke="#6f6f6f" stroke-width="6.4" fill="none" stroke-linecap="round" stroke-linejoin="round"/><path d="M53.8,47.9L50.3,50.3L47.0,53.1" stroke="#8c8c8c" stroke-width="3.84" fill="none" stroke-linecap="round" stroke-linejoin="round" transform="translate(-0.4,-0.4)"/>
<path d="M63.1,11.7L67.3,11.3L71.4,10.2" stroke="#3b3b3b" stroke-width="7.6000000000000005" fill="none" stroke-linecap="round" stroke-linejoin="round"/><path d="M63.1,11.7L67.3,11.3L71.4,10.2" stroke="#7b7b7b" stroke-width="6.4" fill="none" stroke-linecap="round" stroke-linejoin="round"/><path d="M63.1,11.7L67.3,11.3L71.4,10.2" stroke="#9b9b9b" stroke-width="3.84" fill="none" stroke-linecap="round" stroke-linejoin="round" transform="translate(-0.4,-0.4)"/>
<path d="M36.2,0.9L32.9,4.3L28.9,6.8" stroke="#3f3f3f" stroke-width="7.6000000000000005" fill="none" stroke-linecap="round" stroke-linejoin="round"/><path d="M36.2,0.9L32.9,4.3L28.9,6.8" stroke="#838383" stroke-width="6.4" fill="none" stroke-linecap="round" stroke-linejoin="round"/><path d="M36.2,0.9L32.9,4.3L28.9,6.8" stroke="#a6a6a6" stroke-width="3.84" fill="none" stroke-linecap="round" stroke-linejoin="round" transform="translate(-0.4,-0.4)"/>
<path d="M24.5,57.7L25.3,62.3L27.3,66.5" stroke="#3e3e3e" stroke-width="7.6000000000000005" fill="none" stroke-linecap="round" stroke-linejoin="round"/><path d="M24.5,57.7L25.3,62.3L27.3,66.5" stroke="#838383" stroke-width="6.4" fill="none" stroke-linecap="round" stroke-linejoin="round"/><path d="M24.5,57.7L25.3,62.3L27.3,66.5" stroke="#a6a6a6" stroke-width="3.84" fill="none" stroke-linecap="round" stroke-linejoin="round" transform="translate(-0.4,-0.4)"/>
<path d="M79.2,4.8L82.5,1.2L84.9,-3.0" stroke="#404040" stroke-width="7.6000000000000005" fill="none" stroke-linecap="round" stroke-linejoin="round"/><path d="M79.2,4.8L82.5,1.2L84.9,-3.0" stroke="#858585" stroke-width="6.4" fill="none" stroke-linecap="round" stroke-linejoin="round"/><path d="M79.2,4.8L82.5,1.2L84.9,-3.0" stroke="#a9a9a9" stroke-width="3.84" fill="none" stroke-linecap="round" stroke-linejoin="round" transform="translate(-0.4,-0.4)"/>
<path d="M47.7,61.8L50.8,56.8L53.7,51.6" stroke="#3d3d3d" stroke-width="7.6000000000000005" fill="none" stroke-linecap="round" stroke-linejoin="round"/><path d="M47.7,61.8L50.8,56.8L53.7,51.6" stroke="#7f7f7f" stroke-width="6.4" fill="none" stroke-linecap="round" stroke-linejoin="round"/><path d="M47.7,61.8L50.8,56.8L53.7,51.6" stroke="#a1a1a1" stroke-width="3.84" fill="none" stroke-linecap="round" stroke-linejoin="round" transform="translate(-0.4,-0.4)"/>
<path d="M21.2,-2.9L19.7,1.0L19.3,5.2" stroke="#3f3f3f" stroke-width="7.6000000000000005" fill="none" stroke-linecap="round" stroke-linejoin="round"/><path d="M21.2,-2.9L19.7,1.0L19.3,5.2" stroke="#858585" stroke-width="6.4" fill="none" stroke-linecap="round" stroke-linejoin="round"/><path d="M21.2,-2.9L19.7,1.0L19.3,5.2" stroke="#a8a8a8" stroke-width="3.84" fill="none" stroke-linecap="round" stroke-linejoin="round" transform="translate(-0.4,-0.4)"/>
<path d="M9.0,48.8L3.9,49.4L-1.3,49.6" stroke="#3d3d3d" stroke-width="7.6000000000000005" fill="none" stroke-linecap="round" stroke-linejoin="round"/><path d="M9.0,48.8L3.9,49.4L-1.3,49.6" stroke="#7f7f7f" stroke-width="6.4" fill="none" stroke-linecap="round" stroke-linejoin="round"/><path d="M9.0,48.8L3.9,49.4L-1.3,49.6" stroke="#a1a1a1" stroke-width="3.84" fill="none" stroke-linecap="round" stroke-linejoin="round" transform="translate(-0.4,-0.4)"/>
<path d="M66.5,27.4L62.5,28.0L58.7,29.2" stroke="#3f3f3f" stroke-width="7.6000000000000005" fill="none" stroke-linecap="round" stroke-linejoin="round"/><path d="M66.5,27.4L62.5,28.0L58.7,29.2" stroke="#848484" stroke-width="6.4" fill="none" stroke-linecap="round" stroke-linejoin="round"/><path d="M66.5,27.4L62.5,28.0L58.7,29.2" stroke="#a7a7a7" stroke-width="3.84" fill="none" stroke-linecap="round" stroke-linejoin="round" transform="translate(-0.4,-0.4)"/>
<path d="M67.8,26.4L67.9,21.2L67.5,15.9" stroke="#393939" stroke-width="7.6000000000000005" fill="none" stroke-linecap="round" stroke-linejoin="round"/><path d="M67.8,26.4L67.9,21.2L67.5,15.9" stroke="#787878" stroke-width="6.4" fill="none" stroke-linecap="round" stroke-linejoin="round"/><path d="M67.8,26.4L67.9,21.2L67.5,15.9" stroke="#989898" stroke-width="3.84" fill="none" stroke-linecap="round" stroke-linejoin="round" transform="translate(-0.4,-0.4)"/>
<path d="M0.9,11.2L6.2,11.1L11.4,11.6" stroke="#3d3d3d" stroke-width="7.6000000000000005" fill="none" stroke-linecap="round" stroke-linejoin="round"/><path d="M0.9,11.2L6.2,11.1L11.4,11.6" stroke="#7f7f7f" stroke-width="6.4" fill="none" stroke-linecap="round" stroke-linejoin="round"/><path d="M0.9,11.2L6.2,11.1L11.4,11.6" stroke="#a1a1a1" stroke-width="3.84" fill="none" stroke-linecap="round" stroke-linejoin="round" transform="translate(-0.4,-0.4)"/>
<path d="M34.8,8.8L35.6,15.2L34.8,21.6" stroke="#3f3f3f" stroke-width="7.6000000000000005" fill="none" stroke-linecap="round" stroke-linejoin="round"/><path d="M34.8,8.8L35.6,15.2L34.8,21.6" stroke="#848484" stroke-width="6.4" fill="none" stroke-linecap="round" stroke-linejoin="round"/><path d="M34.8,8.8L35.6,15.2L34.8,21.6" stroke="#a7a7a7" stroke-width="3.84" fill="none" stroke-linecap="round" stroke-linejoin="round" transform="translate(-0.4,-0.4)"/>
<path d="M7.2,0.1L2.4,0.7L-2.4,0.7" stroke="#3e3e3e" stroke-width="7.6000000000000005" fill="none" stroke-linecap="round" stroke-linejoin="round"/><path d="M7.2,0.1L2.4,0.7L-2.4,0.7" stroke="#828282" stroke-width="6.4" fill="none" stroke-linecap="round" stroke-linejoin="round"/><path d="M7.2,0.1L2.4,0.7L-2.4,0.7" stroke="#a5a5a5" stroke-width="3.84" fill="none" stroke-linecap="round" stroke-linejoin="round" transform="translate(-0.4,-0.4)"/>
<path d="M56.0,49.5L52.2,53.2L47.8,56.2" stroke="#404040" stroke-width="7.6000000000000005" fill="none" stroke-linecap="round" stroke-linejoin="round"/><path d="M56.0,49.5L52.2,53.2L47.8,56.2" stroke="#868686" stroke-width="6.4" fill="none" stroke-linecap="round" stroke-linejoin="round"/><path d="M56.0,49.5L52.2,53.2L47.8,56.2" stroke="#aaaaaa" stroke-width="3.84" fill="none" stroke-linecap="round" stroke-linejoin="round" transform="translate(-0.4,-0.4)"/>
<path d="M23.0,15.5L21.7,19.9L20.1,24.2" stroke="#3e3e3e" stroke-width="7.6000000000000005" fill="none" stroke-linecap="round" stroke-linejoin="round"/><path d="M23.0,15.5L21.7,19.9L20.1,24.2" stroke="#818181" stroke-width="6.4" fill="none" stroke-linecap="round" stroke-linejoin="round"/><path d="M23.0,15.5L21.7,19.9L20.1,24.2" stroke="#a3a3a3" stroke-width="3.84" fill="none" stroke-linecap="round" stroke-linejoin="round" transform="translate(-0.4,-0.4)"/>
<path d="M17.0,-2.0L13.7,3.0L9.5,7.2" stroke="#3b3b3b" stroke-width="7.6000000000000005" fill="none" stroke-linecap="round" stroke-linejoin="round"/><path d="M17.0,-2.0L13.7,3.0L9.5,7.2" stroke="#7c7c7c" stroke-width="6.4" fill="none" stroke-linecap="round" stroke-linejoin="round"/><path d="M17.0,-2.0L13.7,3.0L9.5,7.2" stroke="#9d9d9d" stroke-width="3.84" fill="none" stroke-linecap="round" stroke-linejoin="round" transform="translate(-0.4,-0.4)"/>
<path d="M54.6,27.7L52.7,31.4L50.5,35.0" stroke="#3e3e3e" stroke-width="7.6000000000000005" fill="none" stroke-linecap="round" stroke-linejoin="round"/><path d="M54.6,27.7L52.7,31.4L50.5,35.0" stroke="#828282" stroke-width="6.4" fill="none" stroke-linecap="round" stroke-linejoin="round"/><path d="M54.6,27.7L52.7,31.4L50.5,35.0" stroke="#a5a5a5" stroke-width="3.84" fill="none" stroke-linecap="round" stroke-linejoin="round" transform="translate(-0.4,-0.4)"/>
<path d="M33.4,0.4L35.0,-4.6L37.6,-9.2" stroke="#3f3f3f" stroke-width="7.6000000000000005" fill="none" stroke-linecap="round" stroke-linejoin="round"/><path d="M33.4,0.4L35.0,-4.6L37.6,-9.2" stroke="#848484" stroke-width="6.4" fill="none" stroke-linecap="round" stroke-linejoin="round"/><path d="M33.4,0.4L35.0,-4.6L37.6,-9.2" stroke="#a8a8a8" stroke-width="3.84" fill="none" stroke-linecap="round" stroke-linejoin="round" transform="translate(-0.4,-0.4)"/>
<path d="M76.2,23.8L75.6,18.5L75.7,13.2" stroke="#3e3e3e" stroke-width="7.6000000000000005" fill="none" stroke-linecap="round" stroke-linejoin="round"/><path d="M76.2,23.8L75.6,18.5L75.7,13.2" stroke="#828282" stroke-width="6.4" fill="none" stroke-linecap="round" stroke-linejoin="round"/><path d="M76.2,23.8L75.6,18.5L75.7,13.2" stroke="#a4a4a4" stroke-width="3.84" fill="none" stroke-linecap="round" stroke-linejoin="round" transform="translate(-0.4,-0.4)"/>
<path d="M22.9,-0.6L24.4,-4.5L25.1,-8.7" stroke="#3e3e3e" stroke-width="7.6000000000000005" fill="none" stroke-linecap="round" stroke-linejoin="round"/><path d="M22.9,-0.6L24.4,-4.5L25.1,-8.7" stroke="#818181" stroke-width="6.4" fill="none" stroke-linecap="round" stroke-linejoin="round"/><path d="M22.9,-0.6L24.4,-4.5L25.1,-8.7" stroke="#a4a4a4" stroke-width="3.84" fill="none" stroke-linecap="round" stroke-linejoin="round" transform="translate(-0.4,-0.4)"/>
<path d="M69.4,58.7L65.7,56.8L61.6,56.0" stroke="#3a3a3a" stroke-width="7.6000000000000005" fill="none" stroke-linecap="round" stroke-linejoin="round"/><path d="M69.4,58.7L65.7,56.8L61.6,56.0" stroke="#787878" stroke-width="6.4" fill="none" stroke-linecap="round" stroke-linejoin="round"/><path d="M69.4,58.7L65.7,56.8L61.6,56.0" stroke="#999999" stroke-width="3.84" fill="none" stroke-linecap="round" stroke-linejoin="round" transform="translate(-0.4,-0.4)"/>
<path d="M52.2,52.7L49.7,48.6L46.3,45.0" stroke="#393939" stroke-width="7.6000000000000005" fill="none" stroke-linecap="round" stroke-linejoin="round"/><path d="M52.2,52.7L49.7,48.6L46.3,45.0" stroke="#787878" stroke-width="6.4" fill="none" stroke-linecap="round" stroke-linejoin="round"/><path d="M52.2,52.7L49.7,48.6L46.3,45.0" stroke="#989898" stroke-width="3.84" fill="none" stroke-linecap="round" stroke-linejoin="round" transform="translate(-0.4,-0.4)"/>
<path d="M55.6,43.6L56.3,39.6L57.3,35.6" stroke="#3b3b3b" stroke-width="7.6000000000000005" fill="none" stroke-linecap="round" stroke-linejoin="round"/><path d="M55.6,43.6L56.3,39.6L57.3,35.6" stroke="#7b7b7b" stroke-width="6.4" fill="none" stroke-linecap="round" stroke-linejoin="round"/><path d="M55.6,43.6L56.3,39.6L57.3,35.6" stroke="#9c9c9c" stroke-width="3.84" fill="none" stroke-linecap="round" stroke-linejoin="round" transform="translate(-0.4,-0.4)"/>
<path d="M41.3,42.6L38.5,47.9L36.1,53.5" stroke="#3c3c3c" stroke-width="7.6000000000000005" fill="none" stroke-linecap="round" stroke-linejoin="round"/><path d="M41.3,42.6L38.5,47.9L36.1,53.5" stroke="#7d7d7d" stroke-width="6.4" fill="none" stroke-linecap="round" stroke-linejoin="round"/><path d="M41.3,42.6L38.5,47.9L36.1,53.5" stroke="#9e9e9e" stroke-width="3.84" fill="none" stroke-linecap="round" stroke-linejoin="round" transform="translate(-0.4,-0.4)"/>
<path d="M16.5,21.7L18.1,16.2L20.9,11.1" stroke="#3f3f3f" stroke-width="7.6000000000000005" fill="none" stroke-linecap="round" stroke-linejoin="round"/><path d="M16.5,21.7L18.1,16.2L20.9,11.1" stroke="#838383" stroke-width="6.4" fill="none" stroke-linecap="round" stroke-linejoin="round"/><path d="M16.5,21.7L18.1,16.2L20.9,11.1" stroke="#a6a6a6" stroke-width="3.84" fill="none" stroke-linecap="round" stroke-linejoin="round" transform="translate(-0.4,-0.4)"/>
<path d="M35.2,32.7L39.4,37.4L43.0,42.7" stroke="#3b3b3b" stroke-width="7.6000000000000005" fill="none" stroke-linecap="round" stroke-linejoin="round"/><path d="M35.2,32.7L39.4,37.4L43.0,42.7" stroke="#7b7b7b" stroke-width="6.4" fill="none" stroke-linecap="round" stroke-linejoin="round"/><path d="M35.2,32.7L39.4,37.4L43.0,42.7" stroke="#9c9c9c" stroke-width="3.84" fill="none" stroke-linecap="round" stroke-linejoin="round" transform="translate(-0.4,-0.4)"/>
<path d="M29.1,11.1L30.6,16.9L32.5,22.6" stroke="#393939" stroke-width="7.6000000000000005" fill="none" stroke-linecap="round" stroke-linejoin="round"/><path d="M29.1,11.1L30.6,16.9L32.5,22.6" stroke="#787878" stroke-width="6.4" fill="none" stroke-linecap="round" stroke-linejoin="round"/><path d="M29.1,11.1L30.6,16.9L32.5,22.6" stroke="#989898" stroke-width="3.84" fill="none" stroke-linecap="round" stroke-linejoin="round" transform="translate(-0.4,-0.4)"/>
<path d="M-0.8,62.3L-1.2,67.1L-2.9,71.6" stroke="#434343" stroke-width="7.6000000000000005" fill="none" stroke-linecap="round" stroke-linejoin="round"/><path d="M-0.8,62.3L-1.2,67.1L-2.9,71.6" stroke="#8d8d8d" stroke-width="6.4" fill="none" stroke-linecap="round" stroke-linejoin="round"/><path d="M-0.8,62.3L-1.2,67.1L-2.9,71.6" stroke="#b3b3b3" stroke-width="3.84" fill="none" stroke-linecap="round" stroke-linejoin="round" transform="translate(-0.4,-0.4)"/>
<path d="M21.8,37.1L17.4,38.9L13.8,41.9" stroke="#434343" stroke-width="7.6000000000000005" fill="none" stroke-linecap="round" stroke-linejoin="round"/><path d="M21.8,37.1L17.4,38.9L13.8,41.9" stroke="#8c8c8c" stroke-width="6.4" fill="none" stroke-linecap="round" stroke-linejoin="round"/><path d="M21.8,37.1L17.4,38.9L13.8,41.9" stroke="#b2b2b2" stroke-width="3.84" fill="none" stroke-linecap="round" stroke-linejoin="round" transform="translate(-0.4,-0.4)"/>
<path d="M53.8,46.3L55.7,41.2L58.6,36.7" stroke="#484848" stroke-width="7.6000000000000005" fill="none" stroke-linecap="round" stroke-linejoin="round"/><path d="M53.8,46.3L55.7,41.2L58.6,36.7" stroke="#979797" stroke-width="6.4" fill="none" stroke-linecap="round" stroke-linejoin="round"/><path d="M53.8,46.3L55.7,41.2L58.6,36.7" stroke="#bfbfbf" stroke-width="3.84" fill="none" stroke-linecap="round" stroke-linejoin="round" transform="translate(-0.4,-0.4)"/>
<path d="M51.1,-0.5L53.8,-4.0L56.1,-7.8" stroke="#494949" stroke-width="7.6000000000000005" fill="none" stroke-linecap="round" stroke-linejoin="round"/><path d="M51.1,-0.5L53.8,-4.0L56.1,-7.8" stroke="#989898" stroke-width="6.4" fill="none" stroke-linecap="round" stroke-linejoin="round"/><path d="M51.1,-0.5L53.8,-4.0L56.1,-7.8" stroke="#c1c1c1" stroke-width="3.84" fill="none" stroke-linecap="round" stroke-linejoin="round" transform="translate(-0.4,-0.4)"/>
<path d="M39.1,17.7L35.1,20.2L30.7,22.1" stroke="#474747" stroke-width="7.6000000000000005" fill="none" stroke-linecap="round" stroke-linejoin="round"/><path d="M39.1,17.7L35.1,20.2L30.7,22.1" stroke="#949494" stroke-width="6.4" fill="none" stroke-linecap="round" stroke-linejoin="round"/><path d="M39.1,17.7L35.1,20.2L30.7,22.1" stroke="#bcbcbc" stroke-width="3.84" fill="none" stroke-linecap="round" stroke-linejoin="round" transform="translate(-0.4,-0.4)"/>
<path d="M53.4,-0.4L56.6,-3.4L60.2,-5.9" stroke="#434343" stroke-width="7.6000000000000005" fill="none" stroke-linecap="round" stroke-linejoin="round"/><path d="M53.4,-0.4L56.6,-3.4L60.2,-5.9" stroke="#8b8b8b" stroke-width="6.4" fill="none" stroke-linecap="round" stroke-linejoin="round"/><path d="M53.4,-0.4L56.6,-3.4L60.2,-5.9" stroke="#b0b0b0" stroke-width="3.84" fill="none" stroke-linecap="round" stroke-linejoin="round" transform="translate(-0.4,-0.4)"/>
<path d="M69.3,59.5L73.9,56.7L78.8,54.7" stroke="#454545" stroke-width="7.6000000000000005" fill="none" stroke-linecap="round" stroke-linejoin="round"/><path d="M69.3,59.5L73.9,56.7L78.8,54.7" stroke="#909090" stroke-width="6.4" fill="none" stroke-linecap="round" stroke-linejoin="round"/><path d="M69.3,59.5L73.9,56.7L78.8,54.7" stroke="#b7b7b7" stroke-width="3.84" fill="none" stroke-linecap="round" stroke-linejoin="round" transform="translate(-0.4,-0.4)"/>
<path d="M68.0,61.1L72.9,59.3L77.9,58.2" stroke="#464646" stroke-width="7.6000000000000005" fill="none" stroke-linecap="round" stroke-linejoin="round"/><path d="M68.0,61.1L72.9,59.3L77.9,58.2" stroke="#929292" stroke-width="6.4" fill="none" stroke-linecap="round" stroke-linejoin="round"/><path d="M68.0,61.1L72.9,59.3L77.9,58.2" stroke="#bababa" stroke-width="3.84" fill="none" stroke-linecap="round" stroke-linejoin="round" transform="translate(-0.4,-0.4)"/>
<path d="M67.6,44.5L65.7,48.2L63.0,51.4" stroke="#434343" stroke-width="7.6000000000000005" fill="none" stroke-linecap="round" stroke-linejoin="round"/><path d="M67.6,44.5L65.7,48.2L63.0,51.4" stroke="#8d8d8d" stroke-width="6.4" fill="none" stroke-linecap="round" stroke-linejoin="round"/><path d="M67.6,44.5L65.7,48.2L63.0,51.4" stroke="#b2b2b2" stroke-width="3.84" fill="none" stroke-linecap="round" stroke-linejoin="round" transform="translate(-0.4,-0.4)"/>
<path d="M73.2,-2.3L69.4,1.7L66.8,6.6" stroke="#484848" stroke-width="7.6000000000000005" fill="none" stroke-linecap="round" stroke-linejoin="round"/><path d="M73.2,-2.3L69.4,1.7L66.8,6.6" stroke="#969696" stroke-width="6.4" fill="none" stroke-linecap="round" stroke-linejoin="round"/><path d="M73.2,-2.3L69.4,1.7L66.8,6.6" stroke="#bebebe" stroke-width="3.84" fill="none" stroke-linecap="round" stroke-linejoin="round" transform="translate(-0.4,-0.4)"/>
<path d="M69.5,38.6L67.9,43.5L65.9,48.3" stroke="#454545" stroke-width="7.6000000000000005" fill="none" stroke-linecap="round" stroke-linejoin="round"/><path d="M69.5,38.6L67.9,43.5L65.9,48.3" stroke="#909090" stroke-width="6.4" fill="none" stroke-linecap="round" stroke-linejoin="round"/><path d="M69.5,38.6L67.9,43.5L65.9,48.3" stroke="#b6b6b6" stroke-width="3.84" fill="none" stroke-linecap="round" stroke-linejoin="round" transform="translate(-0.4,-0.4)"/>
<path d="M71.8,34.4L69.0,38.3L65.6,41.7" stroke="#454545" stroke-width="7.6000000000000005" fill="none" stroke-linecap="round" stroke-linejoin="round"/><path d="M71.8,34.4L69.0,38.3L65.6,41.7" stroke="#919191" stroke-width="6.4" fill="none" stroke-linecap="round" stroke-linejoin="round"/><path d="M71.8,34.4L69.0,38.3L65.6,41.7" stroke="#b8b8b8" stroke-width="3.84" fill="none" stroke-linecap="round" stroke-linejoin="round" transform="translate(-0.4,-0.4)"/>
<path d="M26.1,56.8L21.9,51.9L16.6,48.2" stroke="#454545" stroke-width="7.6000000000000005" fill="none" stroke-linecap="round" stroke-linejoin="round"/><path d="M26.1,56.8L21.9,51.9L16.6,48.2" stroke="#919191" stroke-width="6.4" fill="none" stroke-linecap="round" stroke-linejoin="round"/><path d="M26.1,56.8L21.9,51.9L16.6,48.2" stroke="#b8b8b8" stroke-width="3.84" fill="none" stroke-linecap="round" stroke-linejoin="round" transform="translate(-0.4,-0.4)"/>
<path d="M34.1,-3.2L38.3,-5.2L42.4,-7.1" stroke="#424242" stroke-width="7.6000000000000005" fill="none" stroke-linecap="round" stroke-linejoin="round"/><path d="M34.1,-3.2L38.3,-5.2L42.4,-7.1" stroke="#8a8a8a" stroke-width="6.4" fill="none" stroke-linecap="round" stroke-linejoin="round"/><path d="M34.1,-3.2L38.3,-5.2L42.4,-7.1" stroke="#aeaeae" stroke-width="3.84" fill="none" stroke-linecap="round" stroke-linejoin="round" transform="translate(-0.4,-0.4)"/>
<path d="M75.3,39.8L79.2,35.7L82.9,31.5" stroke="#484848" stroke-width="7.6000000000000005" fill="none" stroke-linecap="round" stroke-linejoin="round"/><path d="M75.3,39.8L79.2,35.7L82.9,31.5" stroke="#979797" stroke-width="6.4" fill="none" stroke-linecap="round" stroke-linejoin="round"/><path d="M75.3,39.8L79.2,35.7L82.9,31.5" stroke="#bfbfbf" stroke-width="3.84" fill="none" stroke-linecap="round" stroke-linejoin="round" transform="translate(-0.4,-0.4)"/>
<path d="M44.7,-2.4L49.9,1.4L55.6,4.6" stroke="#484848" stroke-width="7.6000000000000005" fill="none" stroke-linecap="round" stroke-linejoin="round"/><path d="M44.7,-2.4L49.9,1.4L55.6,4.6" stroke="#979797" stroke-width="6.4" fill="none" stroke-linecap="round" stroke-linejoin="round"/><path d="M44.7,-2.4L49.9,1.4L55.6,4.6" stroke="#bfbfbf" stroke-width="3.84" fill="none" stroke-linecap="round" stroke-linejoin="round" transform="translate(-0.4,-0.4)"/>
<path d="M40.0,45.5L44.6,49.4L50.1,51.9" stroke="#484848" stroke-width="7.6000000000000005" fill="none" stroke-linecap="round" stroke-linejoin="round"/><path d="M40.0,45.5L44.6,49.4L50.1,51.9" stroke="#979797" stroke-width="6.4" fill="none" stroke-linecap="round" stroke-linejoin="round"/><path d="M40.0,45.5L44.6,49.4L50.1,51.9" stroke="#bfbfbf" stroke-width="3.84" fill="none" stroke-linecap="round" stroke-linejoin="round" transform="translate(-0.4,-0.4)"/>
<path d="M27.4,58.7L27.4,54.3L26.3,50.0" stroke="#464646" stroke-width="7.6000000000000005" fill="none" stroke-linecap="round" stroke-linejoin="round"/><path d="M27.4,58.7L27.4,54.3L26.3,50.0" stroke="#929292" stroke-width="6.4" fill="none" stroke-linecap="round" stroke-linejoin="round"/><path d="M27.4,58.7L27.4,54.3L26.3,50.0" stroke="#b9b9b9" stroke-width="3.84" fill="none" stroke-linecap="round" stroke-linejoin="round" transform="translate(-0.4,-0.4)"/>
<path d="M31.6,17.8L36.8,19.0L41.9,20.2" stroke="#454545" stroke-width="7.6000000000000005" fill="none" stroke-linecap="round" stroke-linejoin="round"/><path d="M31.6,17.8L36.8,19.0L41.9,20.2" stroke="#909090" stroke-width="6.4" fill="none" stroke-linecap="round" stroke-linejoin="round"/><path d="M31.6,17.8L36.8,19.0L41.9,20.2" stroke="#b6b6b6" stroke-width="3.84" fill="none" stroke-linecap="round" stroke-linejoin="round" transform="translate(-0.4,-0.4)"/>
<path d="M60.3,-3.3L63.8,-7.5L68.1,-11.0" stroke="#444444" stroke-width="7.6000000000000005" fill="none" stroke-linecap="round" stroke-linejoin="round"/><path d="M60.3,-3.3L63.8,-7.5L68.1,-11.0" stroke="#8e8e8e" stroke-width="6.4" fill="none" stroke-linecap="round" stroke-linejoin="round"/><path d="M60.3,-3.3L63.8,-7.5L68.1,-11.0" stroke="#b4b4b4" stroke-width="3.84" fill="none" stroke-linecap="round" stroke-linejoin="round" transform="translate(-0.4,-0.4)"/>
<path d="M73.0,6.9L78.3,8.8L83.8,9.4" stroke="#434343" stroke-width="7.6000000000000005" fill="none" stroke-linecap="round" stroke-linejoin="round"/><path d="M73.0,6.9L78.3,8.8L83.8,9.4" stroke="#8c8c8c" stroke-width="6.4" fill="none" stroke-linecap="round" stroke-linejoin="round"/><path d="M73.0,6.9L78.3,8.8L83.8,9.4" stroke="#b2b2b2" stroke-width="3.84" fill="none" stroke-linecap="round" stroke-linejoin="round" transform="translate(-0.4,-0.4)"/>
<path d="M44.7,-0.4L49.0,2.5L52.7,6.2" stroke="#434343" stroke-width="7.6000000000000005" fill="none" stroke-linecap="round" stroke-linejoin="round"/><path d="M44.7,-0.4L49.0,2.5L52.7,6.2" stroke="#8d8d8d" stroke-width="6.4" fill="none" stroke-linecap="round" stroke-linejoin="round"/><path d="M44.7,-0.4L49.0,2.5L52.7,6.2" stroke="#b2b2b2" stroke-width="3.84" fill="none" stroke-linecap="round" stroke-linejoin="round" transform="translate(-0.4,-0.4)"/>
<path d="M57.1,43.4L59.2,48.1L62.1,52.3" stroke="#464646" stroke-width="7.6000000000000005" fill="none" stroke-linecap="round" stroke-linejoin="round"/><path d="M57.1,43.4L59.2,48.1L62.1,52.3" stroke="#929292" stroke-width="6.4" fill="none" stroke-linecap="round" stroke-linejoin="round"/><path d="M57.1,43.4L59.2,48.1L62.1,52.3" stroke="#b9b9b9" stroke-width="3.84" fill="none" stroke-linecap="round" stroke-linejoin="round" transform="translate(-0.4,-0.4)"/>
<path d="M9.1,25.1L13.2,26.4L17.3,28.0" stroke="#454545" stroke-width="7.6000000000000005" fill="none" stroke-linecap="round" stroke-linejoin="round"/><path d="M9.1,25.1L13.2,26.4L17.3,28.0" stroke="#909090" stroke-width="6.4" fill="none" stroke-linecap="round" stroke-linejoin="round"/><path d="M9.1,25.1L13.2,26.4L17.3,28.0" stroke="#b6b6b6" stroke-width="3.84" fill="none" stroke-linecap="round" stroke-linejoin="round" transform="translate(-0.4,-0.4)"/>
<path d="M16.0,10.4L13.7,7.0L12.0,3.2" stroke="#474747" stroke-width="7.6000000000000005" fill="none" stroke-linecap="round" stroke-linejoin="round"/><path d="M16.0,10.4L13.7,7.0L12.0,3.2" stroke="#949494" stroke-width="6.4" fill="none" stroke-linecap="round" stroke-linejoin="round"/><path d="M16.0,10.4L13.7,7.0L12.0,3.2" stroke="#bcbcbc" stroke-width="3.84" fill="none" stroke-linecap="round" stroke-linejoin="round" transform="translate(-0.4,-0.4)"/>
<path d="M73.2,7.0L73.5,1.7L74.7,-3.5" stroke="#494949" stroke-width="7.6000000000000005" fill="none" stroke-linecap="round" stroke-linejoin="round"/><path d="M73.2,7.0L73.5,1.7L74.7,-3.5" stroke="#989898" stroke-width="6.4" fill="none" stroke-linecap="round" stroke-linejoin="round"/><path d="M73.2,7.0L73.5,1.7L74.7,-3.5" stroke="#c1c1c1" stroke-width="3.84" fill="none" stroke-linecap="round" stroke-linejoin="round" transform="translate(-0.4,-0.4)"/>
<path d="M15.5,53.8L12.8,58.1L9.8,62.2" stroke="#4e4e4e" stroke-width="7.6000000000000005" fill="none" stroke-linecap="round" stroke-linejoin="round"/><path d="M15.5,53.8L12.8,58.1L9.8,62.2" stroke="#a3a3a3" stroke-width="6.4" fill="none" stroke-linecap="round" stroke-linejoin="round"/><path d="M15.5,53.8L12.8,58.1L9.8,62.2" stroke="#cecece" stroke-width="3.84" fill="none" stroke-linecap="round" stroke-linejoin="round" transform="translate(-0.4,-0.4)"/>
<path d="M34.1,5.5L30.2,3.6L26.2,2.0" stroke="#4a4a4a" stroke-width="7.6000000000000005" fill="none" stroke-linecap="round" stroke-linejoin="round"/><path d="M34.1,5.5L30.2,3.6L26.2,2.0" stroke="#9b9b9b" stroke-width="6.4" fill="none" stroke-linecap="round" stroke-linejoin="round"/><path d="M34.1,5.5L30.2,3.6L26.2,2.0" stroke="#c4c4c4" stroke-width="3.84" fill="none" stroke-linecap="round" stroke-linejoin="round" transform="translate(-0.4,-0.4)"/>
<path d="M67.8,47.1L63.1,44.9L58.5,42.6" stroke="#4e4e4e" stroke-width="7.6000000000000005" fill="none" stroke-linecap="round" stroke-linejoin="round"/><path d="M67.8,47.1L63.1,44.9L58.5,42.6" stroke="#a2a2a2" stroke-width="6.4" fill="none" stroke-linecap="round" stroke-linejoin="round"/><path d="M67.8,47.1L63.1,44.9L58.5,42.6" stroke="#cecece" stroke-width="3.84" fill="none" stroke-linecap="round" stroke-linejoin="round" transform="translate(-0.4,-0.4)"/>
<path d="M36.3,29.8L31.8,30.2L27.3,31.0" stroke="#4d4d4d" stroke-width="7.6000000000000005" fill="none" stroke-linecap="round" stroke-linejoin="round"/><path d="M36.3,29.8L31.8,30.2L27.3,31.0" stroke="#a0a0a0" stroke-width="6.4" fill="none" stroke-linecap="round" stroke-linejoin="round"/><path d="M36.3,29.8L31.8,30.2L27.3,31.0" stroke="#cbcbcb" stroke-width="3.84" fill="none" stroke-linecap="round" stroke-linejoin="round" transform="translate(-0.4,-0.4)"/>
<path d="M2.0,2.7L2.1,-2.2L3.2,-6.9" stroke="#505050" stroke-width="7.6000000000000005" fill="none" stroke-linecap="round" stroke-linejoin="round"/><path d="M2.0,2.7L2.1,-2.2L3.2,-6.9" stroke="#a6a6a6" stroke-width="6.4" fill="none" stroke-linecap="round" stroke-linejoin="round"/><path d="M2.0,2.7L2.1,-2.2L3.2,-6.9" stroke="#d3d3d3" stroke-width="3.84" fill="none" stroke-linecap="round" stroke-linejoin="round" transform="translate(-0.4,-0.4)"/>
<path d="M51.2,26.9L52.6,21.7L54.8,16.9" stroke="#4e4e4e" stroke-width="7.6000000000000005" fill="none" stroke-linecap="round" stroke-linejoin="round"/><path d="M51.2,26.9L52.6,21.7L54.8,16.9" stroke="#a3a3a3" stroke-width="6.4" fill="none" stroke-linecap="round" stroke-linejoin="round"/><path d="M51.2,26.9L52.6,21.7L54.8,16.9" stroke="#cfcfcf" stroke-width="3.84" fill="none" stroke-linecap="round" stroke-linejoin="round" transform="translate(-0.4,-0.4)"/>
<path d="M36.8,29.8L37.0,24.1L37.6,18.5" stroke="#505050" stroke-width="7.6000000000000005" fill="none" stroke-linecap="round" stroke-linejoin="round"/><path d="M36.8,29.8L37.0,24.1L37.6,18.5" stroke="#a7a7a7" stroke-width="6.4" fill="none" stroke-linecap="round" stroke-linejoin="round"/><path d="M36.8,29.8L37.0,24.1L37.6,18.5" stroke="#d3d3d3" stroke-width="3.84" fill="none" stroke-linecap="round" stroke-linejoin="round" transform="translate(-0.4,-0.4)"/>
<path d="M9.4,39.4L9.7,35.4L10.4,31.4" stroke="#4f4f4f" stroke-width="7.6000000000000005" fill="none" stroke-linecap="round" stroke-linejoin="round"/><path d="M9.4,39.4L9.7,35.4L10.4,31.4" stroke="#a5a5a5" stroke-width="6.4" fill="none" stroke-linecap="round" stroke-linejoin="round"/><path d="M9.4,39.4L9.7,35.4L10.4,31.4" stroke="#d1d1d1" stroke-width="3.84" fill="none" stroke-linecap="round" stroke-linejoin="round" transform="translate(-0.4,-0.4)"/>
<path d="M54.0,22.5L52.3,27.7L49.7,32.5" stroke="#4c4c4c" stroke-width="7.6000000000000005" fill="none" stroke-linecap="round" stroke-linejoin="round"/><path d="M54.0,22.5L52.3,27.7L49.7,32.5" stroke="#9e9e9e" stroke-width="6.4" fill="none" stroke-linecap="round" stroke-linejoin="round"/><path d="M54.0,22.5L52.3,27.7L49.7,32.5" stroke="#c8c8c8" stroke-width="3.84" fill="none" stroke-linecap="round" stroke-linejoin="round" transform="translate(-0.4,-0.4)"/>
<path d="M9.4,32.7L5.9,29.6L3.2,25.7" stroke="#4e4e4e" stroke-width="7.6000000000000005" fill="none" stroke-linecap="round" stroke-linejoin="round"/><path d="M9.4,32.7L5.9,29.6L3.2,25.7" stroke="#a3a3a3" stroke-width="6.4" fill="none" stroke-linecap="round" stroke-linejoin="round"/><path d="M9.4,32.7L5.9,29.6L3.2,25.7" stroke="#cfcfcf" stroke-width="3.84" fill="none" stroke-linecap="round" stroke-linejoin="round" transform="translate(-0.4,-0.4)"/>
<path d="M79.4,37.0L80.5,32.0L81.7,27.0" stroke="#4a4a4a" stroke-width="7.6000000000000005" fill="none" stroke-linecap="round" stroke-linejoin="round"/><path d="M79.4,37.0L80.5,32.0L81.7,27.0" stroke="#9b9b9b" stroke-width="6.4" fill="none" stroke-linecap="round" stroke-linejoin="round"/><path d="M79.4,37.0L80.5,32.0L81.7,27.0" stroke="#c5c5c5" stroke-width="3.84" fill="none" stroke-linecap="round" stroke-linejoin="round" transform="translate(-0.4,-0.4)"/>
<path d="M-2.3,32.5L0.1,28.3L1.5,23.7" stroke="#4c4c4c" stroke-width="7.6000000000000005" fill="none" stroke-linecap="round" stroke-linejoin="round"/><path d="M-2.3,32.5L0.1,28.3L1.5,23.7" stroke="#9e9e9e" stroke-width="6.4" fill="none" stroke-linecap="round" stroke-linejoin="round"/><path d="M-2.3,32.5L0.1,28.3L1.5,23.7" stroke="#c9c9c9" stroke-width="3.84" fill="none" stroke-linecap="round" stroke-linejoin="round" transform="translate(-0.4,-0.4)"/>
<path d="M17.8,36.5L11.7,35.8L5.8,34.0" stroke="#4e4e4e" stroke-width="7.6000000000000005" fill="none" stroke-linecap="round" stroke-linejoin="round"/><path d="M17.8,36.5L11.7,35.8L5.8,34.0" stroke="#a2a2a2" stroke-width="6.4" fill="none" stroke-linecap="round" stroke-linejoin="round"/><path d="M17.8,36.5L11.7,35.8L5.8,34.0" stroke="#cecece" stroke-width="3.84" fill="none" stroke-linecap="round" stroke-linejoin="round" transform="translate(-0.4,-0.4)"/>
<path d="M1.7,49.9L-0.3,46.4L-2.8,43.2" stroke="#4b4b4b" stroke-width="7.6000000000000005" fill="none" stroke-linecap="round" stroke-linejoin="round"/><path d="M1.7,49.9L-0.3,46.4L-2.8,43.2" stroke="#9e9e9e" stroke-width="6.4" fill="none" stroke-linecap="round" stroke-linejoin="round"/><path d="M1.7,49.9L-0.3,46.4L-2.8,43.2" stroke="#c8c8c8" stroke-width="3.84" fill="none" stroke-linecap="round" stroke-linejoin="round" transform="translate(-0.4,-0.4)"/>
<path d="M38.3,58.5L35.9,61.9L33.0,64.9" stroke="#4c4c4c" stroke-width="7.6000000000000005" fill="none" stroke-linecap="round" stroke-linejoin="round"/><path d="M38.3,58.5L35.9,61.9L33.0,64.9" stroke="#a0a0a0" stroke-width="6.4" fill="none" stroke-linecap="round" stroke-linejoin="round"/><path d="M38.3,58.5L35.9,61.9L33.0,64.9" stroke="#cacaca" stroke-width="3.84" fill="none" stroke-linecap="round" stroke-linejoin="round" transform="translate(-0.4,-0.4)"/>
<path d="M8.0,16.7L10.1,21.3L10.8,26.4" stroke="#4d4d4d" stroke-width="7.6000000000000005" fill="none" stroke-linecap="round" stroke-linejoin="round"/><path d="M8.0,16.7L10.1,21.3L10.8,26.4" stroke="#a1a1a1" stroke-width="6.4" fill="none" stroke-linecap="round" stroke-linejoin="round"/><path d="M8.0,16.7L10.1,21.3L10.8,26.4" stroke="#cccccc" stroke-width="3.84" fill="none" stroke-linecap="round" stroke-linejoin="round" transform="translate(-0.4,-0.4)"/>
<path d="M73.5,3.1L75.6,8.1L76.7,13.4" stroke="#505050" stroke-width="7.6000000000000005" fill="none" stroke-linecap="round" stroke-linejoin="round"/><path d="M73.5,3.1L75.6,8.1L76.7,13.4" stroke="#a7a7a7" stroke-width="6.4" fill="none" stroke-linecap="round" stroke-linejoin="round"/><path d="M73.5,3.1L75.6,8.1L76.7,13.4" stroke="#d4d4d4" stroke-width="3.84" fill="none" stroke-linecap="round" stroke-linejoin="round" transform="translate(-0.4,-0.4)"/>
<path d="M8.7,51.7L13.6,53.7L18.5,55.4" stroke="#4a4a4a" stroke-width="7.6000000000000005" fill="none" stroke-linecap="round" stroke-linejoin="round"/><path d="M8.7,51.7L13.6,53.7L18.5,55.4" stroke="#9b9b9b" stroke-width="6.4" fill="none" stroke-linecap="round" stroke-linejoin="round"/><path d="M8.7,51.7L13.6,53.7L18.5,55.4" stroke="#c4c4c4" stroke-width="3.84" fill="none" stroke-linecap="round" stroke-linejoin="round" transform="translate(-0.4,-0.4)"/>
<path d="M49.8,43.1L52.1,46.8L55.3,49.8" stroke="#4f4f4f" stroke-width="7.6000000000000005" fill="none" stroke-linecap="round" stroke-linejoin="round"/><path d="M49.8,43.1L52.1,46.8L55.3,49.8" stroke="#a6a6a6" stroke-width="6.4" fill="none" stroke-linecap="round" stroke-linejoin="round"/><path d="M49.8,43.1L52.1,46.8L55.3,49.8" stroke="#d2d2d2" stroke-width="3.84" fill="none" stroke-linecap="round" stroke-linejoin="round" transform="translate(-0.4,-0.4)"/>
<path d="M9.7,-1.4L8.1,4.1L6.6,9.6" stroke="#4a4a4a" stroke-width="7.6000000000000005" fill="none" stroke-linecap="round" stroke-linejoin="round"/><path d="M9.7,-1.4L8.1,4.1L6.6,9.6" stroke="#9b9b9b" stroke-width="6.4" fill="none" stroke-linecap="round" stroke-linejoin="round"/><path d="M9.7,-1.4L8.1,4.1L6.6,9.6" stroke="#c5c5c5" stroke-width="3.84" fill="none" stroke-linecap="round" stroke-linejoin="round" transform="translate(-0.4,-0.4)"/>
<path d="M5.2,9.1L2.1,14.7L0.4,20.8" stroke="#505050" stroke-width="7.6000000000000005" fill="none" stroke-linecap="round" stroke-linejoin="round"/><path d="M5.2,9.1L2.1,14.7L0.4,20.8" stroke="#a7a7a7" stroke-width="6.4" fill="none" stroke-linecap="round" stroke-linejoin="round"/><path d="M5.2,9.1L2.1,14.7L0.4,20.8" stroke="#d4d4d4" stroke-width="3.84" fill="none" stroke-linecap="round" stroke-linejoin="round" transform="translate(-0.4,-0.4)"/>
<path d="M69.3,17.6L65.0,20.4L61.7,24.3" stroke="#4a4a4a" stroke-width="7.6000000000000005" fill="none" stroke-linecap="round" stroke-linejoin="round"/><path d="M69.3,17.6L65.0,20.4L61.7,24.3" stroke="#9c9c9c" stroke-width="6.4" fill="none" stroke-linecap="round" stroke-linejoin="round"/><path d="M69.3,17.6L65.0,20.4L61.7,24.3" stroke="#c5c5c5" stroke-width="3.84" fill="none" stroke-linecap="round" stroke-linejoin="round" transform="translate(-0.4,-0.4)"/>
<path d="M53.6,55.9L55.7,61.7L57.4,67.7" stroke="#4e4e4e" stroke-width="7.6000000000000005" fill="none" stroke-linecap="round" stroke-linejoin="round"/><path d="M53.6,55.9L55.7,61.7L57.4,67.7" stroke="#a2a2a2" stroke-width="6.4" fill="none" stroke-linecap="round" stroke-linejoin="round"/><path d="M53.6,55.9L55.7,61.7L57.4,67.7" stroke="#cecece" stroke-width="3.84" fill="none" stroke-linecap="round" stroke-linejoin="round" transform="translate(-0.4,-0.4)"/>
<path d="M52.0,25.6L48.3,20.6L44.8,15.4" stroke="#4d4d4d" stroke-width="7.6000000000000005" fill="none" stroke-linecap="round" stroke-linejoin="round"/><path d="M52.0,25.6L48.3,20.6L44.8,15.4" stroke="#a2a2a2" stroke-width="6.4" fill="none" stroke-linecap="round" stroke-linejoin="round"/><path d="M52.0,25.6L48.3,20.6L44.8,15.4" stroke="#cdcdcd" stroke-width="3.84" fill="none" stroke-linecap="round" stroke-linejoin="round" transform="translate(-0.4,-0.4)"/>
<path d="M71.6,-3.1L67.7,-1.9L63.8,-1.0" stroke="#494949" stroke-width="7.6000000000000005" fill="none" stroke-linecap="round" stroke-linejoin="round"/><path d="M71.6,-3.1L67.7,-1.9L63.8,-1.0" stroke="#999999" stroke-width="6.4" fill="none" stroke-linecap="round" stroke-linejoin="round"/><path d="M71.6,-3.1L67.7,-1.9L63.8,-1.0" stroke="#c1c1c1" stroke-width="3.84" fill="none" stroke-linecap="round" stroke-linejoin="round" transform="translate(-0.4,-0.4)"/>
<path d="M39.7,5.8L45.4,7.6L51.1,9.5" stroke="#4d4d4d" stroke-width="7.6000000000000005" fill="none" stroke-linecap="round" stroke-linejoin="round"/><path d="M39.7,5.8L45.4,7.6L51.1,9.5" stroke="#a1a1a1" stroke-width="6.4" fill="none" stroke-linecap="round" stroke-linejoin="round"/><path d="M39.7,5.8L45.4,7.6L51.1,9.5" stroke="#cccccc" stroke-width="3.84" fill="none" stroke-linecap="round" stroke-linejoin="round" transform="translate(-0.4,-0.4)"/>
</svg>
<rect x="267.9" y="555" width="78.1" height="59.1" fill="none" stroke="#fff" stroke-width="1.2"/>
<svg x="106.5" y="678" width="77.5" height="59" viewBox="0 0 77.5 59" overflow="hidden">
<rect width="77.5" height="59" fill="#000" filter="url(#si)"/>
<path d="M10.0,13.5L19.0,10.0L27.0,4.0" stroke="#484848" stroke-width="8.2" fill="none" stroke-linecap="round" stroke-linejoin="round"/><path d="M10.0,13.5L19.0,10.0L27.0,4.0" stroke="#969696" stroke-width="7.0" fill="none" stroke-linecap="round" stroke-linejoin="round"/><path d="M10.0,13.5L19.0,10.0L27.0,4.0" stroke="#bebebe" stroke-width="4.20" fill="none" stroke-linecap="round" stroke-linejoin="round" transform="translate(-0.4,-0.4)"/>
<path d="M32.2,2.8L35.8,10.0L37.6,17.2" stroke="#484848" stroke-width="7.7" fill="none" stroke-linecap="round" stroke-linejoin="round"/><path d="M32.2,2.8L35.8,10.0L37.6,17.2" stroke="#969696" stroke-width="6.5" fill="none" stroke-linecap="round" stroke-linejoin="round"/><path d="M32.2,2.8L35.8,10.0L37.6,17.2" stroke="#bebebe" stroke-width="3.90" fill="none" stroke-linecap="round" stroke-linejoin="round" transform="translate(-0.4,-0.4)"/>
<path d="M46.0,0.0L55.0,1.0" stroke="#484848" stroke-width="7.7" fill="none" stroke-linecap="round" stroke-linejoin="round"/><path d="M46.0,0.0L55.0,1.0" stroke="#969696" stroke-width="6.5" fill="none" stroke-linecap="round" stroke-linejoin="round"/><path d="M46.0,0.0L55.0,1.0" stroke="#bebebe" stroke-width="3.90" fill="none" stroke-linecap="round" stroke-linejoin="round" transform="translate(-0.4,-0.4)"/>
<path d="M50.2,36.3L53.8,24.3L62.1,16.0L69.3,11.2" stroke="#444444" stroke-width="8.2" fill="none" stroke-linecap="round" stroke-linejoin="round"/><path d="M50.2,36.3L53.8,24.3L62.1,16.0L69.3,11.2" stroke="#8e8e8e" stroke-width="7.0" fill="none" stroke-linecap="round" stroke-linejoin="round"/><path d="M50.2,36.3L53.8,24.3L62.1,16.0L69.3,11.2" stroke="#b4b4b4" stroke-width="4.20" fill="none" stroke-linecap="round" stroke-linejoin="round" transform="translate(-0.4,-0.4)"/>
<path d="M69.3,7.6L71.7,19.5L74.1,27.9" stroke="#484848" stroke-width="8.2" fill="none" stroke-linecap="round" stroke-linejoin="round"/><path d="M69.3,7.6L71.7,19.5L74.1,27.9" stroke="#969696" stroke-width="7.0" fill="none" stroke-linecap="round" stroke-linejoin="round"/><path d="M69.3,7.6L71.7,19.5L74.1,27.9" stroke="#bebebe" stroke-width="4.20" fill="none" stroke-linecap="round" stroke-linejoin="round" transform="translate(-0.4,-0.4)"/>
<path d="M38.2,24.3L32.2,37.5" stroke="#444444" stroke-width="7.7" fill="none" stroke-linecap="round" stroke-linejoin="round"/><path d="M38.2,24.3L32.2,37.5" stroke="#8e8e8e" stroke-width="6.5" fill="none" stroke-linecap="round" stroke-linejoin="round"/><path d="M38.2,24.3L32.2,37.5" stroke="#b4b4b4" stroke-width="3.90" fill="none" stroke-linecap="round" stroke-linejoin="round" transform="translate(-0.4,-0.4)"/>
<path d="M44.2,29.1L46.6,38.7" stroke="#444444" stroke-width="7.7" fill="none" stroke-linecap="round" stroke-linejoin="round"/><path d="M44.2,29.1L46.6,38.7" stroke="#8e8e8e" stroke-width="6.5" fill="none" stroke-linecap="round" stroke-linejoin="round"/><path d="M44.2,29.1L46.6,38.7" stroke="#b4b4b4" stroke-width="3.90" fill="none" stroke-linecap="round" stroke-linejoin="round" transform="translate(-0.4,-0.4)"/>
<path d="M43.0,32.7L33.4,43.5L29.8,53.0" stroke="#484848" stroke-width="8.2" fill="none" stroke-linecap="round" stroke-linejoin="round"/><path d="M43.0,32.7L33.4,43.5L29.8,53.0" stroke="#969696" stroke-width="7.0" fill="none" stroke-linecap="round" stroke-linejoin="round"/><path d="M43.0,32.7L33.4,43.5L29.8,53.0" stroke="#bebebe" stroke-width="4.20" fill="none" stroke-linecap="round" stroke-linejoin="round" transform="translate(-0.4,-0.4)"/>
<path d="M43.0,45.9L43.0,56.0" stroke="#404040" stroke-width="7.7" fill="none" stroke-linecap="round" stroke-linejoin="round"/><path d="M43.0,45.9L43.0,56.0" stroke="#878787" stroke-width="6.5" fill="none" stroke-linecap="round" stroke-linejoin="round"/><path d="M43.0,45.9L43.0,56.0" stroke="#ababab" stroke-width="3.90" fill="none" stroke-linecap="round" stroke-linejoin="round" transform="translate(-0.4,-0.4)"/>
<path d="M-1.0,33.9L8.3,38.7" stroke="#444444" stroke-width="8.2" fill="none" stroke-linecap="round" stroke-linejoin="round"/><path d="M-1.0,33.9L8.3,38.7" stroke="#8e8e8e" stroke-width="7.0" fill="none" stroke-linecap="round" stroke-linejoin="round"/><path d="M-1.0,33.9L8.3,38.7" stroke="#b4b4b4" stroke-width="4.20" fill="none" stroke-linecap="round" stroke-linejoin="round" transform="translate(-0.4,-0.4)"/>
<path d="M1.1,43.5L19.0,45.9" stroke="#444444" stroke-width="8.2" fill="none" stroke-linecap="round" stroke-linejoin="round"/><path d="M1.1,43.5L19.0,45.9" stroke="#8e8e8e" stroke-width="7.0" fill="none" stroke-linecap="round" stroke-linejoin="round"/><path d="M1.1,43.5L19.0,45.9" stroke="#b4b4b4" stroke-width="4.20" fill="none" stroke-linecap="round" stroke-linejoin="round" transform="translate(-0.4,-0.4)"/>
<path d="M5.9,48.3L27.4,54.3L31.0,57.0" stroke="#484848" stroke-width="8.2" fill="none" stroke-linecap="round" stroke-linejoin="round"/><path d="M5.9,48.3L27.4,54.3L31.0,57.0" stroke="#969696" stroke-width="7.0" fill="none" stroke-linecap="round" stroke-linejoin="round"/><path d="M5.9,48.3L27.4,54.3L31.0,57.0" stroke="#bebebe" stroke-width="4.20" fill="none" stroke-linecap="round" stroke-linejoin="round" transform="translate(-0.4,-0.4)"/>
<path d="M66.9,48.3L76.0,53.0" stroke="#3d3d3d" stroke-width="7.2" fill="none" stroke-linecap="round" stroke-linejoin="round"/><path d="M66.9,48.3L76.0,53.0" stroke="#7f7f7f" stroke-width="6.0" fill="none" stroke-linecap="round" stroke-linejoin="round"/><path d="M66.9,48.3L76.0,53.0" stroke="#a1a1a1" stroke-width="3.60" fill="none" stroke-linecap="round" stroke-linejoin="round" transform="translate(-0.4,-0.4)"/>
</svg>
<rect x="105.9" y="678" width="78.1" height="59.6" fill="none" stroke="#fff" stroke-width="1.2"/>
<svg x="268.5" y="678" width="77.5" height="59" viewBox="0 0 77.5 59" overflow="hidden">
<rect width="77.5" height="59" fill="#000" filter="url(#si)"/>
<path d="M1.1,8.8L7.1,19.5" stroke="#484848" stroke-width="8.2" fill="none" stroke-linecap="round" stroke-linejoin="round"/><path d="M1.1,8.8L7.1,19.5" stroke="#969696" stroke-width="7.0" fill="none" stroke-linecap="round" stroke-linejoin="round"/><path d="M1.1,8.8L7.1,19.5" stroke="#bebebe" stroke-width="4.20" fill="none" stroke-linecap="round" stroke-linejoin="round" transform="translate(-0.4,-0.4)"/>
<path d="M72.9,2.8L64.5,10.0" stroke="#484848" stroke-width="8.2" fill="none" stroke-linecap="round" stroke-linejoin="round"/><path d="M72.9,2.8L64.5,10.0" stroke="#969696" stroke-width="7.0" fill="none" stroke-linecap="round" stroke-linejoin="round"/><path d="M72.9,2.8L64.5,10.0" stroke="#bebebe" stroke-width="4.20" fill="none" stroke-linecap="round" stroke-linejoin="round" transform="translate(-0.4,-0.4)"/>
<path d="M69.3,13.6L74.1,14.8" stroke="#404040" stroke-width="7.2" fill="none" stroke-linecap="round" stroke-linejoin="round"/><path d="M69.3,13.6L74.1,14.8" stroke="#878787" stroke-width="6.0" fill="none" stroke-linecap="round" stroke-linejoin="round"/><path d="M69.3,13.6L74.1,14.8" stroke="#ababab" stroke-width="3.60" fill="none" stroke-linecap="round" stroke-linejoin="round" transform="translate(-0.4,-0.4)"/>
<path d="M27.4,45.9L53.8,47.1L66.9,41.1L71.7,38.7" stroke="#363636" stroke-width="7.2" fill="none" stroke-linecap="round" stroke-linejoin="round"/><path d="M27.4,45.9L53.8,47.1L66.9,41.1L71.7,38.7" stroke="#707070" stroke-width="6.0" fill="none" stroke-linecap="round" stroke-linejoin="round"/><path d="M27.4,45.9L53.8,47.1L66.9,41.1L71.7,38.7" stroke="#8e8e8e" stroke-width="3.60" fill="none" stroke-linecap="round" stroke-linejoin="round" transform="translate(-0.4,-0.4)"/>
<path d="M38.2,10.0L47.8,8.8L59.7,12.4L66.9,18.3L71.7,27.9L75.3,37.5" stroke="#484848" stroke-width="8.7" fill="none" stroke-linecap="round" stroke-linejoin="round"/><path d="M38.2,10.0L47.8,8.8L59.7,12.4L66.9,18.3L71.7,27.9L75.3,37.5" stroke="#969696" stroke-width="7.5" fill="none" stroke-linecap="round" stroke-linejoin="round"/><path d="M38.2,10.0L47.8,8.8L59.7,12.4L66.9,18.3L71.7,27.9L75.3,37.5" stroke="#bebebe" stroke-width="4.50" fill="none" stroke-linecap="round" stroke-linejoin="round" transform="translate(-0.4,-0.4)"/>
<path d="M45.4,13.6L46.0,20.7" stroke="#4b4b4b" stroke-width="7.7" fill="none" stroke-linecap="round" stroke-linejoin="round"/><path d="M45.4,13.6L46.0,20.7" stroke="#9d9d9d" stroke-width="6.5" fill="none" stroke-linecap="round" stroke-linejoin="round"/><path d="M45.4,13.6L46.0,20.7" stroke="#c7c7c7" stroke-width="3.90" fill="none" stroke-linecap="round" stroke-linejoin="round" transform="translate(-0.4,-0.4)"/>
<path d="M32.2,25.5L25.0,37.5" stroke="#484848" stroke-width="8.7" fill="none" stroke-linecap="round" stroke-linejoin="round"/><path d="M32.2,25.5L25.0,37.5" stroke="#969696" stroke-width="7.5" fill="none" stroke-linecap="round" stroke-linejoin="round"/><path d="M32.2,25.5L25.0,37.5" stroke="#bebebe" stroke-width="4.50" fill="none" stroke-linecap="round" stroke-linejoin="round" transform="translate(-0.4,-0.4)"/>
<path d="M35.8,27.9L47.8,33.9L55.0,39.9L57.4,48.3L56.8,56.0" stroke="#484848" stroke-width="8.7" fill="none" stroke-linecap="round" stroke-linejoin="round"/><path d="M35.8,27.9L47.8,33.9L55.0,39.9L57.4,48.3L56.8,56.0" stroke="#969696" stroke-width="7.5" fill="none" stroke-linecap="round" stroke-linejoin="round"/><path d="M35.8,27.9L47.8,33.9L55.0,39.9L57.4,48.3L56.8,56.0" stroke="#bebebe" stroke-width="4.50" fill="none" stroke-linecap="round" stroke-linejoin="round" transform="translate(-0.4,-0.4)"/>
<path d="M1.1,32.7L14.3,35.1L21.4,43.5L28.6,50.7" stroke="#484848" stroke-width="8.7" fill="none" stroke-linecap="round" stroke-linejoin="round"/><path d="M1.1,32.7L14.3,35.1L21.4,43.5L28.6,50.7" stroke="#969696" stroke-width="7.5" fill="none" stroke-linecap="round" stroke-linejoin="round"/><path d="M1.1,32.7L14.3,35.1L21.4,43.5L28.6,50.7" stroke="#bebebe" stroke-width="4.50" fill="none" stroke-linecap="round" stroke-linejoin="round" transform="translate(-0.4,-0.4)"/>
<path d="M71.7,41.1L74.1,56.0" stroke="#444444" stroke-width="8.2" fill="none" stroke-linecap="round" stroke-linejoin="round"/><path d="M71.7,41.1L74.1,56.0" stroke="#8e8e8e" stroke-width="7.0" fill="none" stroke-linecap="round" stroke-linejoin="round"/><path d="M71.7,41.1L74.1,56.0" stroke="#b4b4b4" stroke-width="4.20" fill="none" stroke-linecap="round" stroke-linejoin="round" transform="translate(-0.4,-0.4)"/>
<path d="M39.4,53.0L42.0,56.0" stroke="#404040" stroke-width="7.7" fill="none" stroke-linecap="round" stroke-linejoin="round"/><path d="M39.4,53.0L42.0,56.0" stroke="#878787" stroke-width="6.5" fill="none" stroke-linecap="round" stroke-linejoin="round"/><path d="M39.4,53.0L42.0,56.0" stroke="#ababab" stroke-width="3.90" fill="none" stroke-linecap="round" stroke-linejoin="round" transform="translate(-0.4,-0.4)"/>
<path d="M35.8,50.7L33.4,56.0" stroke="#3d3d3d" stroke-width="7.7" fill="none" stroke-linecap="round" stroke-linejoin="round"/><path d="M35.8,50.7L33.4,56.0" stroke="#7f7f7f" stroke-width="6.5" fill="none" stroke-linecap="round" stroke-linejoin="round"/><path d="M35.8,50.7L33.4,56.0" stroke="#a1a1a1" stroke-width="3.90" fill="none" stroke-linecap="round" stroke-linejoin="round" transform="translate(-0.4,-0.4)"/>
</svg>
<rect x="267.9" y="678" width="78.1" height="59.6" fill="none" stroke="#fff" stroke-width="1.2"/>
<rect x="24" y="666.2" width="160" height="8.8" fill="#000"/>
<text x="25.8" y="673.2" font-size="6.6" fill="#e0e0e0" textLength="103" lengthAdjust="spacingAndGlyphs">SU8000 10.0kV 11.4mm x1.00k SE(UL) 7/4/2023</text>
<text x="182" y="673.2" font-size="6.6" fill="#e0e0e0" text-anchor="end" textLength="19" lengthAdjust="spacingAndGlyphs">50.0um</text>
<rect x="187" y="666.2" width="159" height="8.8" fill="#000"/>
<text x="188.8" y="673.2" font-size="6.6" fill="#e0e0e0" textLength="103" lengthAdjust="spacingAndGlyphs">SU8000 10.0kV 11.1mm x1.00k SE(UL) 7/4/2023</text>
<text x="344" y="673.2" font-size="6.6" fill="#e0e0e0" text-anchor="end" textLength="19" lengthAdjust="spacingAndGlyphs">50.0um</text>
<path d="M293.0,666.2v1.6M297.6,666.2v1.6M302.2,666.2v1.6M306.8,666.2v1.6M311.4,666.2v1.6M316.0,666.2v1.6M320.6,666.2v1.6M325.2,666.2v1.6M329.8,666.2v1.6M334.4,666.2v1.6" stroke="#ccc" stroke-width="0.7"/>
<rect x="24" y="788.2" width="160" height="8.8" fill="#000"/>
<text x="25.8" y="795.2" font-size="6.6" fill="#e0e0e0" textLength="103" lengthAdjust="spacingAndGlyphs">SU8000 10.0kV 11.1mm x1.00k SE(UL) 7/4/2023</text>
<text x="182" y="795.2" font-size="6.6" fill="#e0e0e0" text-anchor="end" textLength="19" lengthAdjust="spacingAndGlyphs">50.0um</text>
<path d="M131.0,788.2v1.6M135.6,788.2v1.6M140.2,788.2v1.6M144.8,788.2v1.6M149.4,788.2v1.6M154.0,788.2v1.6M158.6,788.2v1.6M163.2,788.2v1.6M167.8,788.2v1.6M172.4,788.2v1.6" stroke="#ccc" stroke-width="0.7"/>
<rect x="187" y="788.2" width="159" height="8.8" fill="#000"/>
<text x="188.8" y="795.2" font-size="6.6" fill="#e0e0e0" textLength="103" lengthAdjust="spacingAndGlyphs">SU8000 10.0kV 11.0mm x1.00k SE(UL) 7/4/2023</text>
<text x="344" y="795.2" font-size="6.6" fill="#e0e0e0" text-anchor="end" textLength="19" lengthAdjust="spacingAndGlyphs">50.0um</text>
<path d="M293.0,788.2v1.6M297.6,788.2v1.6M302.2,788.2v1.6M306.8,788.2v1.6M311.4,788.2v1.6M316.0,788.2v1.6M320.6,788.2v1.6M325.2,788.2v1.6M329.8,788.2v1.6M334.4,788.2v1.6" stroke="#ccc" stroke-width="0.7"/>
<rect x="117.5" y="665.3" width="63.5" height="3.2" fill="#fff"/>
<text x="100" y="551.7" font-size="10.8" font-weight="bold" text-anchor="middle">0 μM</text>
<text x="265.7" y="551.7" font-size="10.7" font-weight="bold" text-anchor="middle">8 μM HNP1</text>
<text font-size="11" font-weight="bold" text-anchor="middle" transform="translate(16.3,613.4) rotate(-90)">WT</text>
<text font-size="11" font-weight="bold" text-anchor="middle" transform="translate(16.3,737) rotate(-90)">ΔOmpA</text>
<text x="9" y="546" font-size="12.5" font-weight="bold">D</text>
</svg></body></html>
